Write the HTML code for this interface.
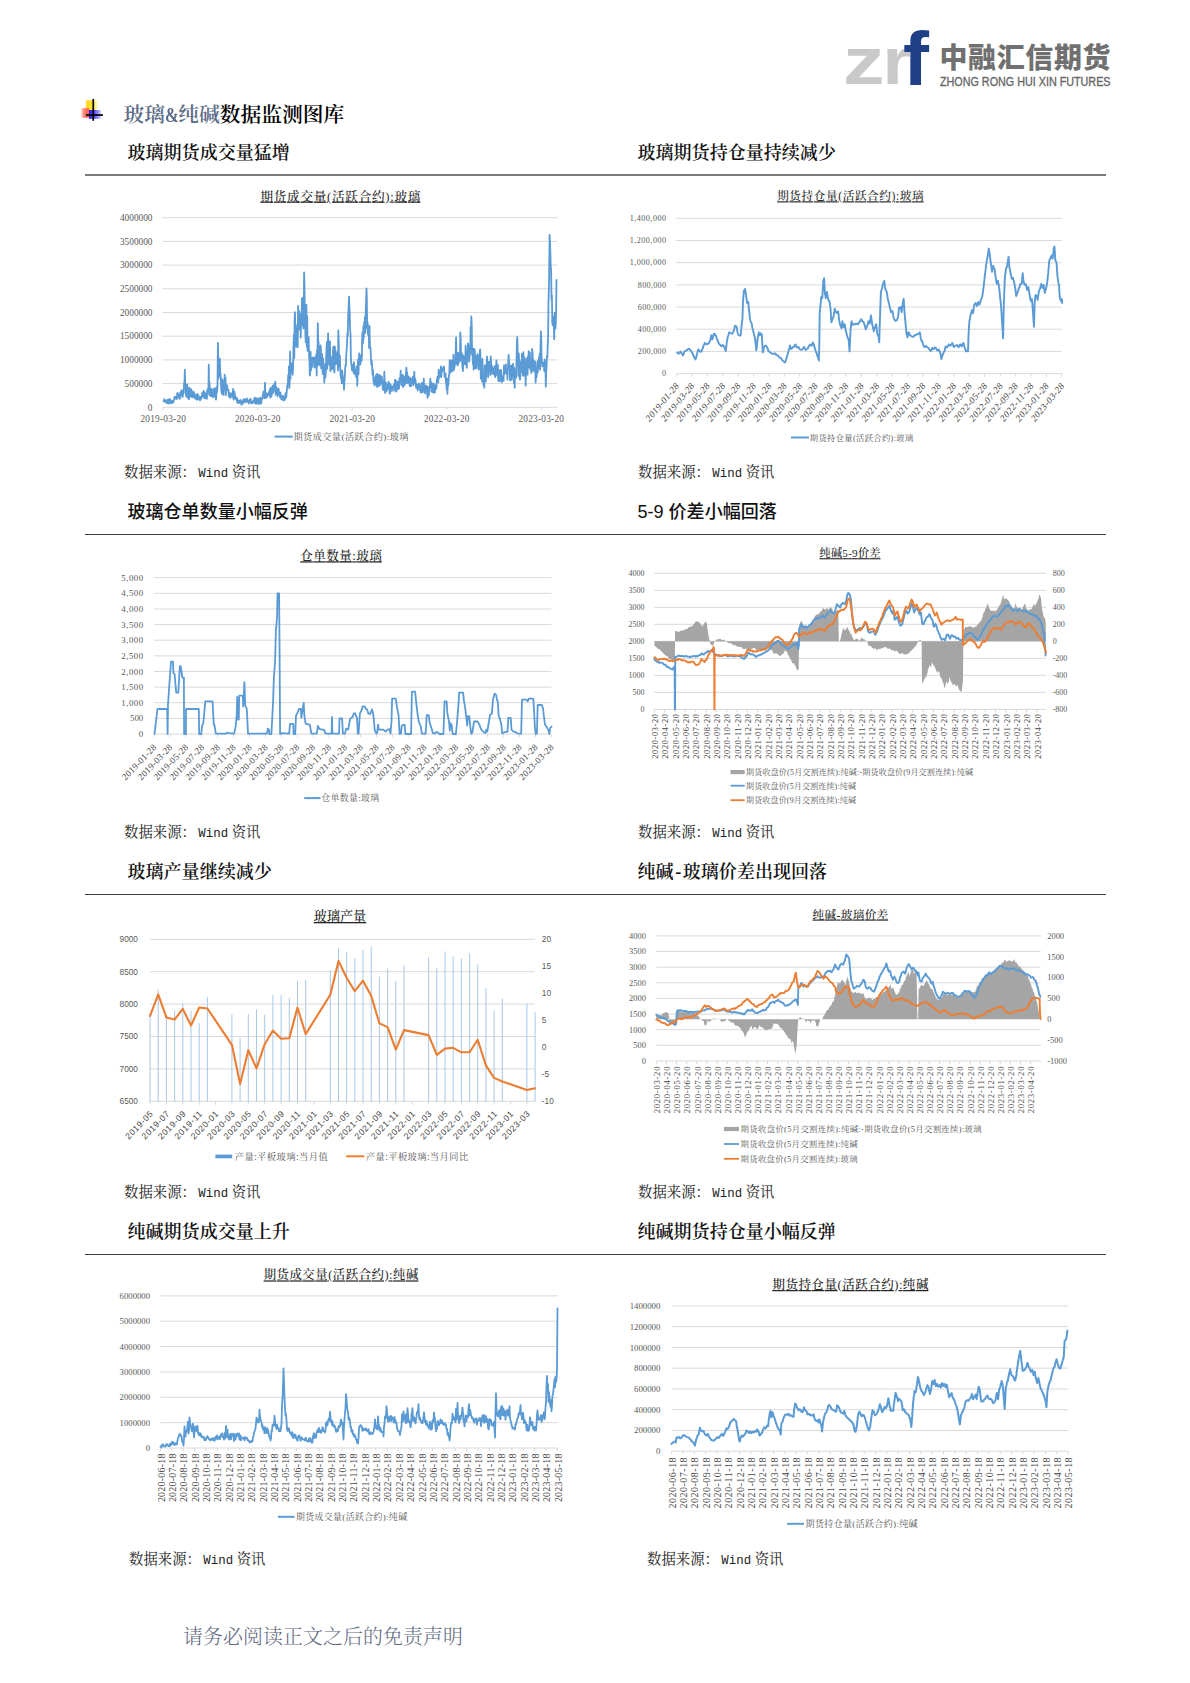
<!DOCTYPE html>
<html lang="zh-CN">
<head>
<meta charset="utf-8">
<title>玻璃&amp;纯碱数据监测图库</title>
<style>
html,body{margin:0;padding:0;background:#fff;}
body{width:1190px;height:1683px;position:relative;overflow:hidden;font-family:"Liberation Serif","Noto Serif CJK SC",serif;color:#000;}
.abs{position:absolute;white-space:nowrap;}
.chart{position:absolute;overflow:visible;}
.h{position:absolute;white-space:nowrap;font-size:18.05px;line-height:24px;font-weight:600;color:#111;}
.hei{font-family:"Liberation Sans","Noto Sans CJK SC",sans-serif;font-weight:500;}
.src{position:absolute;white-space:nowrap;font-size:14.4px;line-height:20px;color:#222;font-weight:400;}
.src .w{font-family:"Liberation Mono","Noto Serif CJK SC",monospace;font-size:12.4px;margin-left:2.4px;}
.rule{position:absolute;left:85px;width:1021px;height:0;border-top:1.4px solid #3a3a3a;}
.rule.first{border-top:2px solid #7a7a7a;}
.logo{position:absolute;left:840px;top:20px;}
</style>
</head>
<body>
<!-- company logo -->
<svg class="logo" width="290" height="80" viewBox="840 20 290 80">
  <text x="842.9" y="83.6" font-family="&quot;Liberation Sans&quot;,sans-serif" font-weight="bold" font-size="67" fill="#c9c9c9" textLength="41.6" lengthAdjust="spacingAndGlyphs">z</text>
  <text x="882.6" y="83.6" font-family="&quot;Liberation Sans&quot;,sans-serif" font-weight="bold" font-size="67" fill="#c9c9c9" textLength="28.5" lengthAdjust="spacingAndGlyphs">r</text>
  <text x="903" y="84.6" font-family="&quot;Liberation Sans&quot;,sans-serif" font-weight="bold" font-size="76" fill="#1f3f86" textLength="26" lengthAdjust="spacingAndGlyphs">f</text>
  <text x="939.5" y="68" font-family="&quot;Liberation Sans&quot;,&quot;Noto Sans CJK SC&quot;,sans-serif" font-weight="900" font-size="28" fill="#707070" textLength="171" lengthAdjust="spacing">中融汇信期货</text>
  <text x="940" y="86" font-family="&quot;Liberation Sans&quot;,sans-serif" font-size="13.1" fill="#666" stroke="#666" stroke-width="0.35" textLength="170.5" lengthAdjust="spacingAndGlyphs">ZHONG RONG HUI XIN FUTURES</text>
</svg>

<!-- bullet icon -->
<svg class="chart" style="left:76px;top:95px;filter:blur(0.35px)" width="32" height="30" viewBox="76 95 32 30">
  <defs>
    <linearGradient id="gy" x1="0" x2="1"><stop offset="0" stop-color="#ffd91a"/><stop offset="0.45" stop-color="#ffe030"/><stop offset="0.8" stop-color="#fff07a" stop-opacity="0.8"/><stop offset="1" stop-color="#fff7b0" stop-opacity="0"/></linearGradient>
    <linearGradient id="gr" x1="1" x2="0"><stop offset="0" stop-color="#ff5a3c"/><stop offset="0.6" stop-color="#ff8a7a"/><stop offset="1" stop-color="#ffd0cc" stop-opacity="0"/></linearGradient>
    <linearGradient id="gb" x1="0" x2="1"><stop offset="0" stop-color="#2a1fe0"/><stop offset="0.45" stop-color="#5a52ff"/><stop offset="0.8" stop-color="#9a95ff" stop-opacity="0.8"/><stop offset="1" stop-color="#c8c6ff" stop-opacity="0"/></linearGradient>
  </defs>
  <rect x="86" y="100.3" width="12.5" height="10" fill="url(#gy)"/>
  <rect x="80" y="108.2" width="9" height="9.6" fill="url(#gr)"/>
  <rect x="89" y="110" width="13" height="8.8" fill="url(#gb)"/>
  <rect x="92.4" y="99" width="1.7" height="21.8" fill="#000"/>
  <rect x="86" y="114.2" width="17" height="1.7" fill="#000"/>
</svg>

<div class="abs" id="maintitle" style="left:123.5px;top:101px;font-size:20.75px;line-height:28px;font-weight:600;"><span style="color:#5b6b86">玻璃<span style="display:inline-block;width:13.2px;transform:scaleX(0.8);transform-origin:0 50%;font-weight:700">&amp;</span>纯碱</span>数据监测图库</div>

<div class="h" style="left:127.5px;top:140.5px">玻璃期货成交量猛增</div>
<div class="h" style="left:637.5px;top:140.5px">玻璃期货持仓量持续减少</div>
<div class="rule first" style="top:174px"></div>

<div class="src" style="left:124px;top:462px">数据来源：<span class="w">Wind</span> 资讯</div>
<div class="src" style="left:638px;top:462px">数据来源：<span class="w">Wind</span> 资讯</div>

<div class="h hei" style="left:127.5px;top:500px">玻璃仓单数量小幅反弹</div>
<div class="h hei" style="left:637.5px;top:500px">5-9 价差小幅回落</div>
<div class="rule" style="top:534px"></div>

<div class="src" style="left:124px;top:822px">数据来源：<span class="w">Wind</span> 资讯</div>
<div class="src" style="left:638px;top:822px">数据来源：<span class="w">Wind</span> 资讯</div>

<div class="h" style="left:127.5px;top:860px">玻璃产量继续减少</div>
<div class="h" style="left:637.5px;top:860px">纯碱<span style="display:inline-block;width:9.2px;text-align:center">-</span>玻璃价差出现回落</div>
<div class="rule" style="top:894px"></div>

<div class="src" style="left:124px;top:1182px">数据来源：<span class="w">Wind</span> 资讯</div>
<div class="src" style="left:638px;top:1182px">数据来源：<span class="w">Wind</span> 资讯</div>

<div class="h" style="left:127.5px;top:1220px">纯碱期货成交量上升</div>
<div class="h" style="left:637.5px;top:1220px">纯碱期货持仓量小幅反弹</div>
<div class="rule" style="top:1254px"></div>

<div class="src" style="left:129px;top:1549px">数据来源：<span class="w">Wind</span> 资讯</div>
<div class="src" style="left:647px;top:1549px">数据来源：<span class="w">Wind</span> 资讯</div>

<div class="abs" id="footer" style="left:183px;top:1623px;font-size:19.9px;line-height:28px;color:#5f6a80;font-weight:300;letter-spacing:0.1px;">请务必阅读正文之后的免责声明</div>

<svg class="chart" style="left:100px;top:180px" width="480" height="270" viewBox="100 180 480 270"><line x1="162.5" x2="557.3" y1="407.3" y2="407.3" stroke="#d9d9d9" stroke-width="1"/><line x1="162.5" x2="557.3" y1="383.6" y2="383.6" stroke="#d9d9d9" stroke-width="1"/><line x1="162.5" x2="557.3" y1="359.9" y2="359.9" stroke="#d9d9d9" stroke-width="1"/><line x1="162.5" x2="557.3" y1="336.2" y2="336.2" stroke="#d9d9d9" stroke-width="1"/><line x1="162.5" x2="557.3" y1="312.5" y2="312.5" stroke="#d9d9d9" stroke-width="1"/><line x1="162.5" x2="557.3" y1="288.8" y2="288.8" stroke="#d9d9d9" stroke-width="1"/><line x1="162.5" x2="557.3" y1="265.1" y2="265.1" stroke="#d9d9d9" stroke-width="1"/><line x1="162.5" x2="557.3" y1="241.4" y2="241.4" stroke="#d9d9d9" stroke-width="1"/><line x1="162.5" x2="557.3" y1="217.7" y2="217.7" stroke="#d9d9d9" stroke-width="1"/><text x="152.5" y="410.5" font-size="9.3" text-anchor="end" fill="#595959" font-family="&quot;Liberation Serif&quot;,&quot;Noto Serif CJK SC&quot;,serif" >0</text><text x="152.5" y="386.8" font-size="9.3" text-anchor="end" fill="#595959" font-family="&quot;Liberation Serif&quot;,&quot;Noto Serif CJK SC&quot;,serif" >500000</text><text x="152.5" y="363.1" font-size="9.3" text-anchor="end" fill="#595959" font-family="&quot;Liberation Serif&quot;,&quot;Noto Serif CJK SC&quot;,serif" >1000000</text><text x="152.5" y="339.4" font-size="9.3" text-anchor="end" fill="#595959" font-family="&quot;Liberation Serif&quot;,&quot;Noto Serif CJK SC&quot;,serif" >1500000</text><text x="152.5" y="315.7" font-size="9.3" text-anchor="end" fill="#595959" font-family="&quot;Liberation Serif&quot;,&quot;Noto Serif CJK SC&quot;,serif" >2000000</text><text x="152.5" y="292.0" font-size="9.3" text-anchor="end" fill="#595959" font-family="&quot;Liberation Serif&quot;,&quot;Noto Serif CJK SC&quot;,serif" >2500000</text><text x="152.5" y="268.3" font-size="9.3" text-anchor="end" fill="#595959" font-family="&quot;Liberation Serif&quot;,&quot;Noto Serif CJK SC&quot;,serif" >3000000</text><text x="152.5" y="244.6" font-size="9.3" text-anchor="end" fill="#595959" font-family="&quot;Liberation Serif&quot;,&quot;Noto Serif CJK SC&quot;,serif" >3500000</text><text x="152.5" y="220.9" font-size="9.3" text-anchor="end" fill="#595959" font-family="&quot;Liberation Serif&quot;,&quot;Noto Serif CJK SC&quot;,serif" >4000000</text><line x1="163.2" x2="163.2" y1="407.3" y2="410.3" stroke="#d9d9d9" stroke-width="1"/><line x1="257.7" x2="257.7" y1="407.3" y2="410.3" stroke="#d9d9d9" stroke-width="1"/><line x1="352.2" x2="352.2" y1="407.3" y2="410.3" stroke="#d9d9d9" stroke-width="1"/><line x1="446.7" x2="446.7" y1="407.3" y2="410.3" stroke="#d9d9d9" stroke-width="1"/><line x1="541.2" x2="541.2" y1="407.3" y2="410.3" stroke="#d9d9d9" stroke-width="1"/><text x="163.2" y="422.3" font-size="9.3" text-anchor="middle" fill="#595959" font-family="&quot;Liberation Serif&quot;,&quot;Noto Serif CJK SC&quot;,serif" textLength="45.5" lengthAdjust="spacing" >2019-03-20</text><text x="257.7" y="422.3" font-size="9.3" text-anchor="middle" fill="#595959" font-family="&quot;Liberation Serif&quot;,&quot;Noto Serif CJK SC&quot;,serif" textLength="45.5" lengthAdjust="spacing" >2020-03-20</text><text x="352.2" y="422.3" font-size="9.3" text-anchor="middle" fill="#595959" font-family="&quot;Liberation Serif&quot;,&quot;Noto Serif CJK SC&quot;,serif" textLength="45.5" lengthAdjust="spacing" >2021-03-20</text><text x="446.7" y="422.3" font-size="9.3" text-anchor="middle" fill="#595959" font-family="&quot;Liberation Serif&quot;,&quot;Noto Serif CJK SC&quot;,serif" textLength="45.5" lengthAdjust="spacing" >2022-03-20</text><text x="541.2" y="422.3" font-size="9.3" text-anchor="middle" fill="#595959" font-family="&quot;Liberation Serif&quot;,&quot;Noto Serif CJK SC&quot;,serif" textLength="45.5" lengthAdjust="spacing" >2023-03-20</text><text x="340.4" y="200.5" font-size="12.6" text-anchor="middle" fill="#262626" font-family="&quot;Liberation Serif&quot;,&quot;Noto Serif CJK SC&quot;,serif" textLength="160.0" lengthAdjust="spacing" text-decoration="underline" font-weight="500">期货成交量(活跃合约):玻璃</text><polyline points="163.5,401.3 163.9,400.8 164.3,399.2 164.7,401.3 165.1,401.1 165.4,400.8 165.8,402.6 166.2,401.2 166.6,400.7 167.0,399.9 167.3,403.1 167.7,402.3 168.1,403.2 168.5,399.9 168.9,400.5 169.2,403.6 169.6,398.9 170.0,399.0 170.4,400.8 170.8,400.9 171.1,403.0 171.5,403.4 171.9,400.6 172.3,402.8 172.7,402.0 173.0,401.5 173.4,402.4 173.8,399.8 174.2,399.7 174.6,396.7 174.9,398.7 175.3,397.6 175.7,398.3 176.1,396.9 176.5,398.1 176.8,399.1 177.2,393.2 177.6,392.9 178.0,393.9 178.4,394.7 178.7,397.7 179.1,398.1 179.5,397.4 179.9,398.8 180.3,392.5 180.6,395.7 181.0,391.3 181.4,395.3 181.8,390.1 182.2,391.1 182.5,397.0 182.9,395.5 183.3,390.4 183.7,393.3 184.1,383.0 184.4,387.7 184.8,369.6 185.2,384.1 185.6,385.3 186.0,394.1 186.3,396.6 186.7,393.8 187.1,384.3 187.5,387.8 187.9,397.6 188.2,396.2 188.6,398.6 189.0,399.1 189.4,387.6 189.8,397.1 190.1,391.6 190.5,393.2 190.9,396.4 191.3,389.2 191.7,396.7 192.0,391.0 192.4,397.3 192.8,394.8 193.2,397.2 193.6,397.1 193.9,391.8 194.3,394.1 194.7,398.2 195.1,394.6 195.5,398.9 195.8,397.9 196.2,394.8 196.6,396.3 197.0,399.8 197.4,393.9 197.7,399.2 198.1,399.0 198.5,395.5 198.9,398.7 199.3,398.9 199.6,400.3 200.0,400.3 200.4,397.0 200.8,399.5 201.2,396.7 201.5,398.1 201.9,397.2 202.3,392.7 202.7,396.3 203.1,395.3 203.4,392.4 203.8,390.8 204.2,398.0 204.6,392.3 205.0,393.4 205.3,397.9 205.7,398.4 206.1,394.9 206.5,393.8 206.9,398.9 207.2,391.4 207.6,389.2 208.0,390.5 208.4,390.9 208.8,364.6 209.1,394.7 209.5,382.2 209.9,395.3 210.3,389.3 210.7,396.0 211.0,388.3 211.4,391.4 211.8,395.2 212.2,396.5 212.6,389.6 212.9,397.3 213.3,395.9 213.7,392.1 214.1,388.5 214.5,391.9 214.8,396.3 215.2,388.4 215.6,397.6 216.0,399.7 216.4,393.9 216.7,386.9 217.1,392.3 217.5,385.7 217.9,343.0 218.3,362.5 218.6,378.5 219.0,372.4 219.4,358.5 219.8,358.8 220.2,372.0 220.5,374.0 220.9,379.0 221.3,390.5 221.7,393.1 222.1,394.0 222.4,379.5 222.8,385.3 223.2,381.6 223.6,394.9 224.0,384.6 224.3,386.3 224.7,374.6 225.1,389.6 225.5,377.7 225.9,395.0 226.2,388.5 226.6,386.5 227.0,385.1 227.4,388.7 227.8,390.2 228.1,390.0 228.5,389.6 228.9,396.7 229.3,394.2 229.7,393.2 230.0,394.7 230.4,398.0 230.8,394.5 231.2,393.3 231.6,395.6 231.9,394.7 232.3,396.8 232.7,394.3 233.1,388.8 233.5,399.5 233.8,394.4 234.2,391.3 234.6,393.3 235.0,395.5 235.4,398.9 235.7,396.8 236.1,398.6 236.5,400.0 236.9,398.2 237.3,402.6 237.6,399.5 238.0,403.2 238.4,400.7 238.8,401.5 239.2,402.9 239.5,400.7 239.9,402.0 240.3,401.6 240.7,400.0 241.1,403.8 241.4,404.8 241.8,403.4 242.2,401.3 242.6,403.5 243.0,403.5 243.3,399.5 243.7,400.8 244.1,401.8 244.5,399.2 244.9,402.0 245.2,400.1 245.6,402.3 246.0,401.1 246.4,399.0 246.8,398.5 247.1,398.8 247.5,401.7 247.9,400.8 248.3,402.4 248.7,403.5 249.0,401.8 249.4,399.8 249.8,399.7 250.2,400.4 250.6,398.8 250.9,402.9 251.3,403.4 251.7,401.8 252.1,402.8 252.5,403.1 252.8,401.9 253.2,400.4 253.6,401.3 254.0,402.4 254.4,398.7 254.7,397.6 255.1,401.3 255.5,403.6 255.9,403.8 256.3,398.1 256.6,403.7 257.0,399.2 257.4,400.2 257.8,402.0 258.2,398.3 258.5,403.8 258.9,403.1 259.3,400.8 259.7,403.8 260.1,397.6 260.4,402.4 260.8,403.0 261.2,403.6 261.6,398.7 262.0,399.7 262.3,397.3 262.7,396.4 263.1,394.1 263.5,391.7 263.9,393.9 264.2,398.1 264.6,393.3 265.0,382.7 265.4,398.2 265.8,394.8 266.1,393.0 266.5,397.7 266.9,397.1 267.3,396.7 267.7,393.9 268.0,395.0 268.4,393.8 268.8,392.1 269.2,395.2 269.6,390.9 269.9,389.1 270.3,397.5 270.7,387.7 271.1,389.9 271.5,396.7 271.8,392.7 272.2,390.2 272.6,385.8 273.0,393.0 273.4,390.1 273.7,385.1 274.1,386.1 274.5,383.3 274.9,390.7 275.3,381.7 275.6,394.8 276.0,387.9 276.4,387.1 276.8,390.2 277.2,389.8 277.5,396.3 277.9,388.8 278.3,388.6 278.7,389.3 279.1,394.5 279.4,392.4 279.8,397.0 280.2,392.4 280.6,393.4 281.0,397.6 281.3,399.4 281.7,397.6 282.1,397.1 282.5,395.9 282.9,397.8 283.2,400.3 283.6,396.3 284.0,400.4 284.4,396.9 284.8,399.8 285.1,398.0 285.5,393.2 285.9,397.7 286.3,396.8 286.7,392.0 287.0,388.1 287.4,384.9 287.8,384.6 288.2,375.4 288.6,382.3 288.9,366.3 289.3,388.2 289.7,382.8 290.1,351.4 290.5,378.6 290.8,364.2 291.2,367.7 291.6,371.5 292.0,363.3 292.4,371.1 292.7,374.8 293.1,367.6 293.5,345.5 293.9,334.6 294.3,358.0 294.6,319.7 295.0,312.1 295.4,334.8 295.8,331.1 296.2,346.7 296.5,330.2 296.9,330.6 297.3,324.9 297.7,347.3 298.1,305.8 298.4,325.9 298.8,329.7 299.2,311.2 299.6,320.8 300.0,323.1 300.3,314.1 300.7,337.6 301.1,319.4 301.5,323.8 301.9,299.5 302.2,297.9 302.6,325.3 303.0,314.4 303.4,328.4 303.8,310.7 304.1,272.4 304.5,286.5 304.9,316.3 305.3,329.9 305.7,342.1 306.0,321.0 306.4,304.8 306.8,346.8 307.2,316.0 307.6,350.9 307.9,347.1 308.3,350.7 308.7,337.1 309.1,357.1 309.5,361.0 309.8,375.6 310.2,372.3 310.6,351.8 311.0,370.5 311.4,358.8 311.7,365.9 312.1,366.9 312.5,357.6 312.9,360.0 313.3,361.5 313.6,360.2 314.0,357.5 314.4,367.7 314.8,367.4 315.2,357.4 315.5,358.1 315.9,361.9 316.3,354.2 316.7,375.6 317.1,349.8 317.4,365.9 317.8,323.2 318.2,339.9 318.6,343.1 319.0,364.5 319.3,363.9 319.7,347.5 320.1,365.6 320.5,345.4 320.9,348.6 321.2,368.4 321.6,366.3 322.0,354.2 322.4,368.6 322.8,374.0 323.1,358.3 323.5,370.7 323.9,364.1 324.3,382.7 324.7,373.2 325.0,364.1 325.4,377.7 325.8,372.1 326.2,356.8 326.6,347.0 326.9,342.2 327.3,368.8 327.7,354.9 328.1,333.3 328.5,355.0 328.8,350.2 329.2,363.4 329.6,365.2 330.0,341.4 330.4,371.1 330.7,357.1 331.1,358.6 331.5,357.3 331.9,369.4 332.3,368.7 332.6,368.5 333.0,350.8 333.4,346.7 333.8,349.2 334.2,371.8 334.5,372.2 334.9,346.5 335.3,361.0 335.7,350.8 336.1,364.0 336.4,359.1 336.8,357.0 337.2,359.3 337.6,352.7 338.0,370.6 338.3,330.3 338.7,340.1 339.1,366.6 339.5,360.9 339.9,355.7 340.2,368.1 340.6,375.5 341.0,378.5 341.4,373.6 341.8,383.3 342.1,370.4 342.5,374.2 342.9,377.8 343.3,377.9 343.7,382.7 344.0,389.8 344.4,381.6 344.8,377.7 345.2,367.8 345.6,364.9 345.9,366.2 346.3,353.6 346.7,349.7 347.1,341.3 347.5,332.4 347.8,335.9 348.2,313.8 348.6,308.6 349.0,296.6 349.4,306.1 349.7,312.2 350.1,329.6 350.5,333.4 350.9,358.9 351.3,364.9 351.6,364.5 352.0,370.3 352.4,367.8 352.8,365.0 353.2,366.0 353.5,372.7 353.9,362.1 354.3,367.8 354.7,374.2 355.1,369.6 355.4,372.1 355.8,373.6 356.2,377.1 356.6,366.3 357.0,374.2 357.3,385.7 357.7,367.7 358.1,359.4 358.5,374.3 358.9,359.8 359.2,353.5 359.6,362.3 360.0,358.0 360.4,364.5 360.8,360.6 361.1,354.8 361.5,361.0 361.9,356.0 362.3,332.7 362.7,343.6 363.0,343.3 363.4,325.9 363.8,337.9 364.2,321.8 364.6,329.0 364.9,317.0 365.3,332.8 365.7,311.8 366.1,300.8 366.5,288.5 366.8,297.7 367.2,328.2 367.6,322.2 368.0,334.6 368.4,328.2 368.7,328.5 369.1,348.1 369.5,325.8 369.9,346.3 370.3,347.1 370.6,349.2 371.0,359.3 371.4,364.8 371.8,360.9 372.2,367.1 372.5,374.7 372.9,369.7 373.3,377.9 373.7,382.8 374.1,381.9 374.4,385.4 374.8,384.5 375.2,377.1 375.6,382.0 376.0,375.1 376.3,377.3 376.7,386.5 377.1,373.8 377.5,374.5 377.9,386.8 378.2,375.1 378.6,382.5 379.0,382.1 379.4,374.8 379.8,385.7 380.1,382.1 380.5,376.2 380.9,379.7 381.3,383.6 381.7,376.4 382.0,379.1 382.4,382.4 382.8,389.4 383.2,381.8 383.6,385.0 383.9,390.2 384.3,371.6 384.7,384.0 385.1,393.0 385.5,386.8 385.8,382.5 386.2,387.5 386.6,391.4 387.0,386.0 387.4,389.4 387.7,383.8 388.1,388.5 388.5,381.7 388.9,382.6 389.3,386.0 389.6,392.5 390.0,393.7 390.4,384.1 390.8,385.6 391.2,387.5 391.5,390.4 391.9,391.0 392.3,386.9 392.7,387.9 393.1,387.3 393.4,386.4 393.8,384.5 394.2,390.7 394.6,389.8 395.0,379.8 395.3,380.1 395.7,380.0 396.1,391.5 396.5,391.2 396.9,388.1 397.2,385.3 397.6,381.6 398.0,389.2 398.4,382.0 398.8,388.8 399.1,388.2 399.5,378.2 399.9,380.0 400.3,378.1 400.7,370.6 401.0,380.5 401.4,385.0 401.8,383.0 402.2,376.4 402.6,374.9 402.9,387.0 403.3,386.4 403.7,376.1 404.1,379.3 404.5,377.2 404.8,385.0 405.2,381.2 405.6,383.1 406.0,372.3 406.4,367.6 406.7,376.2 407.1,372.1 407.5,383.1 407.9,380.7 408.3,378.4 408.6,376.3 409.0,382.5 409.4,383.3 409.8,386.0 410.2,377.8 410.5,386.2 410.9,386.1 411.3,381.0 411.7,381.6 412.1,378.8 412.4,383.2 412.8,376.8 413.2,385.4 413.6,383.7 414.0,377.3 414.3,371.6 414.7,383.1 415.1,378.6 415.5,380.3 415.9,385.9 416.2,387.9 416.6,387.0 417.0,384.4 417.4,388.0 417.8,390.5 418.1,385.5 418.5,387.3 418.9,383.7 419.3,383.7 419.7,384.2 420.0,390.3 420.4,386.2 420.8,392.7 421.2,392.3 421.6,391.0 421.9,382.8 422.3,382.8 422.7,392.2 423.1,390.3 423.5,390.0 423.8,378.7 424.2,389.7 424.6,390.3 425.0,393.4 425.4,388.4 425.7,385.3 426.1,389.7 426.5,385.9 426.9,390.4 427.3,395.7 427.6,397.8 428.0,386.9 428.4,393.6 428.8,395.5 429.2,388.9 429.5,387.5 429.9,386.3 430.3,378.7 430.7,384.0 431.1,382.2 431.4,391.7 431.8,386.3 432.2,383.5 432.6,392.1 433.0,392.3 433.3,385.2 433.7,383.6 434.1,392.8 434.5,387.5 434.9,392.7 435.2,385.3 435.6,385.2 436.0,389.0 436.4,388.4 436.8,379.4 437.1,382.0 437.5,376.6 437.9,381.9 438.3,382.3 438.7,369.7 439.0,374.9 439.4,377.7 439.8,376.2 440.2,371.9 440.6,371.5 440.9,366.4 441.3,376.9 441.7,368.5 442.1,371.9 442.5,368.2 442.8,369.3 443.2,368.8 443.6,367.8 444.0,366.5 444.4,373.9 444.7,377.1 445.1,374.4 445.5,373.4 445.9,382.2 446.3,383.3 446.6,389.4 447.0,378.6 447.4,393.8 447.8,384.5 448.2,385.5 448.5,382.0 448.9,375.4 449.3,374.9 449.7,360.1 450.1,373.0 450.4,369.2 450.8,371.8 451.2,363.0 451.6,360.5 452.0,370.1 452.3,371.4 452.7,365.2 453.1,362.7 453.5,354.7 453.9,370.1 454.2,368.3 454.6,366.1 455.0,364.6 455.4,363.4 455.8,348.3 456.1,337.3 456.5,362.8 456.9,364.3 457.3,362.5 457.7,365.5 458.0,352.6 458.4,363.7 458.8,359.7 459.2,354.2 459.6,358.3 459.9,361.4 460.3,332.3 460.7,338.3 461.1,359.9 461.5,357.8 461.8,353.2 462.2,363.5 462.6,368.3 463.0,371.0 463.4,355.5 463.7,357.1 464.1,364.2 464.5,360.5 464.9,359.9 465.3,364.4 465.6,345.7 466.0,353.4 466.4,363.4 466.8,367.8 467.2,355.6 467.5,357.8 467.9,343.3 468.3,345.0 468.7,347.6 469.1,361.6 469.4,360.3 469.8,353.1 470.2,353.5 470.6,326.8 471.0,339.6 471.3,316.5 471.7,323.3 472.1,355.2 472.5,349.2 472.9,364.0 473.2,348.7 473.6,369.6 474.0,349.0 474.4,349.2 474.8,350.8 475.1,368.3 475.5,364.9 475.9,355.8 476.3,368.3 476.7,361.9 477.0,362.6 477.4,354.1 477.8,361.6 478.2,355.7 478.6,369.6 478.9,357.5 479.3,368.8 479.7,353.1 480.1,349.4 480.5,356.4 480.8,378.7 481.2,367.9 481.6,369.0 482.0,381.4 482.4,358.9 482.7,377.5 483.1,378.0 483.5,385.3 483.9,379.0 484.3,387.7 484.6,365.5 485.0,376.4 485.4,365.7 485.8,381.5 486.2,373.3 486.5,370.8 486.9,356.4 487.3,360.1 487.7,364.3 488.1,377.1 488.4,369.4 488.8,361.9 489.2,370.5 489.6,364.5 490.0,366.9 490.3,375.0 490.7,356.3 491.1,360.9 491.5,373.5 491.9,365.6 492.2,372.9 492.6,371.6 493.0,368.4 493.4,374.2 493.8,373.5 494.1,372.5 494.5,366.3 494.9,375.8 495.3,377.1 495.7,365.3 496.0,374.8 496.4,360.4 496.8,369.9 497.2,366.3 497.6,375.6 497.9,364.8 498.3,380.8 498.7,380.2 499.1,381.2 499.5,370.5 499.8,370.4 500.2,380.6 500.6,377.2 501.0,369.8 501.4,374.8 501.7,382.4 502.1,380.1 502.5,380.7 502.9,380.7 503.3,375.8 503.6,380.7 504.0,365.3 504.4,374.1 504.8,372.1 505.2,369.1 505.5,366.2 505.9,364.4 506.3,373.0 506.7,373.8 507.1,371.8 507.4,379.5 507.8,371.4 508.2,363.4 508.6,355.0 509.0,360.6 509.3,364.4 509.7,366.0 510.1,380.5 510.5,373.7 510.9,373.7 511.2,365.6 511.6,379.9 512.0,374.1 512.4,371.3 512.8,364.2 513.1,363.9 513.5,370.8 513.9,383.3 514.3,367.9 514.7,387.7 515.0,372.2 515.4,375.7 515.8,369.8 516.2,377.6 516.6,357.6 516.9,341.7 517.3,336.9 517.7,356.1 518.1,356.7 518.5,375.8 518.8,353.3 519.2,363.8 519.6,377.0 520.0,379.6 520.4,375.1 520.7,365.1 521.1,361.2 521.5,371.9 521.9,353.7 522.3,370.5 522.6,367.4 523.0,375.8 523.4,352.2 523.8,375.6 524.2,356.9 524.5,368.7 524.9,370.0 525.3,371.7 525.7,385.7 526.1,362.2 526.4,358.3 526.8,361.4 527.2,365.3 527.6,374.6 528.0,356.2 528.3,367.6 528.7,351.1 529.1,367.3 529.5,359.5 529.9,352.7 530.2,369.1 530.6,360.3 531.0,371.8 531.4,372.9 531.8,370.1 532.1,348.9 532.5,351.3 532.9,360.3 533.3,370.5 533.7,361.8 534.0,360.8 534.4,371.3 534.8,366.7 535.2,361.7 535.6,382.7 535.9,378.1 536.3,369.8 536.7,376.9 537.1,369.0 537.5,361.8 537.8,372.4 538.2,360.3 538.6,367.8 539.0,357.4 539.4,364.3 539.7,353.8 540.1,369.8 540.5,346.8 540.9,331.3 541.3,341.1 541.6,357.4 542.0,363.0 542.4,366.4 542.8,363.8 543.2,363.4 543.5,362.8 543.9,363.9 544.3,371.3 544.7,359.4 545.1,364.4 545.4,364.8 545.8,386.7 546.2,372.5 546.6,365.5 547.0,356.0 547.3,357.7 547.7,346.9 548.1,336.7 548.5,301.5 548.9,288.6 549.2,270.0 549.6,234.9 550.0,241.6 550.4,253.7 550.8,268.6 551.1,268.8 551.5,299.9 551.9,295.1 552.3,322.3 552.7,325.3 553.0,316.9 553.4,317.0 553.8,323.2 554.2,339.3 554.6,313.0 554.9,318.6 555.3,328.9 555.7,325.1 556.1,313.7 556.5,279.8" fill="none" stroke="#5b9bd5" stroke-width="1.8" stroke-linejoin="round" stroke-linecap="round" /><line x1="274.5" x2="292.8" y1="436.6" y2="436.6" stroke="#5b9bd5" stroke-width="2"/><text x="293.5" y="439.8" font-size="9.2" text-anchor="start" fill="#595959" font-family="&quot;Liberation Serif&quot;,&quot;Noto Serif CJK SC&quot;,serif" textLength="115.0" lengthAdjust="spacing" >期货成交量(活跃合约):玻璃</text></svg>
<svg class="chart" style="left:610px;top:180px" width="490" height="270" viewBox="610 180 490 270"><line x1="676.5" x2="1061.8" y1="373.6" y2="373.6" stroke="#d9d9d9" stroke-width="1"/><line x1="676.5" x2="1061.8" y1="351.4" y2="351.4" stroke="#d9d9d9" stroke-width="1"/><line x1="676.5" x2="1061.8" y1="329.2" y2="329.2" stroke="#d9d9d9" stroke-width="1"/><line x1="676.5" x2="1061.8" y1="307.0" y2="307.0" stroke="#d9d9d9" stroke-width="1"/><line x1="676.5" x2="1061.8" y1="284.9" y2="284.9" stroke="#d9d9d9" stroke-width="1"/><line x1="676.5" x2="1061.8" y1="262.7" y2="262.7" stroke="#d9d9d9" stroke-width="1"/><line x1="676.5" x2="1061.8" y1="240.5" y2="240.5" stroke="#d9d9d9" stroke-width="1"/><line x1="676.5" x2="1061.8" y1="218.3" y2="218.3" stroke="#d9d9d9" stroke-width="1"/><text x="666.0" y="376.4" font-size="8.1" text-anchor="end" fill="#595959" font-family="&quot;Liberation Serif&quot;,&quot;Noto Serif CJK SC&quot;,serif" textLength="4.0" lengthAdjust="spacing" >0</text><text x="666.0" y="354.2" font-size="8.1" text-anchor="end" fill="#595959" font-family="&quot;Liberation Serif&quot;,&quot;Noto Serif CJK SC&quot;,serif" textLength="28.2" lengthAdjust="spacing" >200,000</text><text x="666.0" y="332.0" font-size="8.1" text-anchor="end" fill="#595959" font-family="&quot;Liberation Serif&quot;,&quot;Noto Serif CJK SC&quot;,serif" textLength="28.2" lengthAdjust="spacing" >400,000</text><text x="666.0" y="309.8" font-size="8.1" text-anchor="end" fill="#595959" font-family="&quot;Liberation Serif&quot;,&quot;Noto Serif CJK SC&quot;,serif" textLength="28.2" lengthAdjust="spacing" >600,000</text><text x="666.0" y="287.6" font-size="8.1" text-anchor="end" fill="#595959" font-family="&quot;Liberation Serif&quot;,&quot;Noto Serif CJK SC&quot;,serif" textLength="28.2" lengthAdjust="spacing" >800,000</text><text x="666.0" y="265.4" font-size="8.1" text-anchor="end" fill="#595959" font-family="&quot;Liberation Serif&quot;,&quot;Noto Serif CJK SC&quot;,serif" textLength="36.3" lengthAdjust="spacing" >1,000,000</text><text x="666.0" y="243.2" font-size="8.1" text-anchor="end" fill="#595959" font-family="&quot;Liberation Serif&quot;,&quot;Noto Serif CJK SC&quot;,serif" textLength="36.3" lengthAdjust="spacing" >1,200,000</text><text x="666.0" y="221.1" font-size="8.1" text-anchor="end" fill="#595959" font-family="&quot;Liberation Serif&quot;,&quot;Noto Serif CJK SC&quot;,serif" textLength="36.3" lengthAdjust="spacing" >1,400,000</text><line x1="676.5" x2="676.5" y1="373.6" y2="376.6" stroke="#d9d9d9" stroke-width="1"/><line x1="691.9" x2="691.9" y1="373.6" y2="376.6" stroke="#d9d9d9" stroke-width="1"/><line x1="707.3" x2="707.3" y1="373.6" y2="376.6" stroke="#d9d9d9" stroke-width="1"/><line x1="722.7" x2="722.7" y1="373.6" y2="376.6" stroke="#d9d9d9" stroke-width="1"/><line x1="738.1" x2="738.1" y1="373.6" y2="376.6" stroke="#d9d9d9" stroke-width="1"/><line x1="753.6" x2="753.6" y1="373.6" y2="376.6" stroke="#d9d9d9" stroke-width="1"/><line x1="769.0" x2="769.0" y1="373.6" y2="376.6" stroke="#d9d9d9" stroke-width="1"/><line x1="784.4" x2="784.4" y1="373.6" y2="376.6" stroke="#d9d9d9" stroke-width="1"/><line x1="799.8" x2="799.8" y1="373.6" y2="376.6" stroke="#d9d9d9" stroke-width="1"/><line x1="815.2" x2="815.2" y1="373.6" y2="376.6" stroke="#d9d9d9" stroke-width="1"/><line x1="830.6" x2="830.6" y1="373.6" y2="376.6" stroke="#d9d9d9" stroke-width="1"/><line x1="846.0" x2="846.0" y1="373.6" y2="376.6" stroke="#d9d9d9" stroke-width="1"/><line x1="861.4" x2="861.4" y1="373.6" y2="376.6" stroke="#d9d9d9" stroke-width="1"/><line x1="876.9" x2="876.9" y1="373.6" y2="376.6" stroke="#d9d9d9" stroke-width="1"/><line x1="892.3" x2="892.3" y1="373.6" y2="376.6" stroke="#d9d9d9" stroke-width="1"/><line x1="907.7" x2="907.7" y1="373.6" y2="376.6" stroke="#d9d9d9" stroke-width="1"/><line x1="923.1" x2="923.1" y1="373.6" y2="376.6" stroke="#d9d9d9" stroke-width="1"/><line x1="938.5" x2="938.5" y1="373.6" y2="376.6" stroke="#d9d9d9" stroke-width="1"/><line x1="953.9" x2="953.9" y1="373.6" y2="376.6" stroke="#d9d9d9" stroke-width="1"/><line x1="969.3" x2="969.3" y1="373.6" y2="376.6" stroke="#d9d9d9" stroke-width="1"/><line x1="984.7" x2="984.7" y1="373.6" y2="376.6" stroke="#d9d9d9" stroke-width="1"/><line x1="1000.2" x2="1000.2" y1="373.6" y2="376.6" stroke="#d9d9d9" stroke-width="1"/><line x1="1015.6" x2="1015.6" y1="373.6" y2="376.6" stroke="#d9d9d9" stroke-width="1"/><line x1="1031.0" x2="1031.0" y1="373.6" y2="376.6" stroke="#d9d9d9" stroke-width="1"/><line x1="1046.4" x2="1046.4" y1="373.6" y2="376.6" stroke="#d9d9d9" stroke-width="1"/><line x1="1061.8" x2="1061.8" y1="373.6" y2="376.6" stroke="#d9d9d9" stroke-width="1"/><text transform="translate(677.2,384.1) scale(1,1.2) rotate(-45)" font-size="8.6" text-anchor="end" fill="#484848" font-family="&quot;Liberation Serif&quot;,&quot;Noto Serif CJK SC&quot;,serif" dy="2.9" textLength="42.3" lengthAdjust="spacing">2019-01-28</text><text transform="translate(692.6,384.1) scale(1,1.2) rotate(-45)" font-size="8.6" text-anchor="end" fill="#484848" font-family="&quot;Liberation Serif&quot;,&quot;Noto Serif CJK SC&quot;,serif" dy="2.9" textLength="42.3" lengthAdjust="spacing">2019-03-28</text><text transform="translate(708.0,384.1) scale(1,1.2) rotate(-45)" font-size="8.6" text-anchor="end" fill="#484848" font-family="&quot;Liberation Serif&quot;,&quot;Noto Serif CJK SC&quot;,serif" dy="2.9" textLength="42.3" lengthAdjust="spacing">2019-05-28</text><text transform="translate(723.4,384.1) scale(1,1.2) rotate(-45)" font-size="8.6" text-anchor="end" fill="#484848" font-family="&quot;Liberation Serif&quot;,&quot;Noto Serif CJK SC&quot;,serif" dy="2.9" textLength="42.3" lengthAdjust="spacing">2019-07-28</text><text transform="translate(738.8,384.1) scale(1,1.2) rotate(-45)" font-size="8.6" text-anchor="end" fill="#484848" font-family="&quot;Liberation Serif&quot;,&quot;Noto Serif CJK SC&quot;,serif" dy="2.9" textLength="42.3" lengthAdjust="spacing">2019-09-28</text><text transform="translate(754.3,384.1) scale(1,1.2) rotate(-45)" font-size="8.6" text-anchor="end" fill="#484848" font-family="&quot;Liberation Serif&quot;,&quot;Noto Serif CJK SC&quot;,serif" dy="2.9" textLength="42.3" lengthAdjust="spacing">2019-11-28</text><text transform="translate(769.7,384.1) scale(1,1.2) rotate(-45)" font-size="8.6" text-anchor="end" fill="#484848" font-family="&quot;Liberation Serif&quot;,&quot;Noto Serif CJK SC&quot;,serif" dy="2.9" textLength="42.3" lengthAdjust="spacing">2020-01-28</text><text transform="translate(785.1,384.1) scale(1,1.2) rotate(-45)" font-size="8.6" text-anchor="end" fill="#484848" font-family="&quot;Liberation Serif&quot;,&quot;Noto Serif CJK SC&quot;,serif" dy="2.9" textLength="42.3" lengthAdjust="spacing">2020-03-28</text><text transform="translate(800.5,384.1) scale(1,1.2) rotate(-45)" font-size="8.6" text-anchor="end" fill="#484848" font-family="&quot;Liberation Serif&quot;,&quot;Noto Serif CJK SC&quot;,serif" dy="2.9" textLength="42.3" lengthAdjust="spacing">2020-05-28</text><text transform="translate(815.9,384.1) scale(1,1.2) rotate(-45)" font-size="8.6" text-anchor="end" fill="#484848" font-family="&quot;Liberation Serif&quot;,&quot;Noto Serif CJK SC&quot;,serif" dy="2.9" textLength="42.3" lengthAdjust="spacing">2020-07-28</text><text transform="translate(831.3,384.1) scale(1,1.2) rotate(-45)" font-size="8.6" text-anchor="end" fill="#484848" font-family="&quot;Liberation Serif&quot;,&quot;Noto Serif CJK SC&quot;,serif" dy="2.9" textLength="42.3" lengthAdjust="spacing">2020-09-28</text><text transform="translate(846.7,384.1) scale(1,1.2) rotate(-45)" font-size="8.6" text-anchor="end" fill="#484848" font-family="&quot;Liberation Serif&quot;,&quot;Noto Serif CJK SC&quot;,serif" dy="2.9" textLength="42.3" lengthAdjust="spacing">2020-11-28</text><text transform="translate(862.1,384.1) scale(1,1.2) rotate(-45)" font-size="8.6" text-anchor="end" fill="#484848" font-family="&quot;Liberation Serif&quot;,&quot;Noto Serif CJK SC&quot;,serif" dy="2.9" textLength="42.3" lengthAdjust="spacing">2021-01-28</text><text transform="translate(877.6,384.1) scale(1,1.2) rotate(-45)" font-size="8.6" text-anchor="end" fill="#484848" font-family="&quot;Liberation Serif&quot;,&quot;Noto Serif CJK SC&quot;,serif" dy="2.9" textLength="42.3" lengthAdjust="spacing">2021-03-28</text><text transform="translate(893.0,384.1) scale(1,1.2) rotate(-45)" font-size="8.6" text-anchor="end" fill="#484848" font-family="&quot;Liberation Serif&quot;,&quot;Noto Serif CJK SC&quot;,serif" dy="2.9" textLength="42.3" lengthAdjust="spacing">2021-05-28</text><text transform="translate(908.4,384.1) scale(1,1.2) rotate(-45)" font-size="8.6" text-anchor="end" fill="#484848" font-family="&quot;Liberation Serif&quot;,&quot;Noto Serif CJK SC&quot;,serif" dy="2.9" textLength="42.3" lengthAdjust="spacing">2021-07-28</text><text transform="translate(923.8,384.1) scale(1,1.2) rotate(-45)" font-size="8.6" text-anchor="end" fill="#484848" font-family="&quot;Liberation Serif&quot;,&quot;Noto Serif CJK SC&quot;,serif" dy="2.9" textLength="42.3" lengthAdjust="spacing">2021-09-28</text><text transform="translate(939.2,384.1) scale(1,1.2) rotate(-45)" font-size="8.6" text-anchor="end" fill="#484848" font-family="&quot;Liberation Serif&quot;,&quot;Noto Serif CJK SC&quot;,serif" dy="2.9" textLength="42.3" lengthAdjust="spacing">2021-11-28</text><text transform="translate(954.6,384.1) scale(1,1.2) rotate(-45)" font-size="8.6" text-anchor="end" fill="#484848" font-family="&quot;Liberation Serif&quot;,&quot;Noto Serif CJK SC&quot;,serif" dy="2.9" textLength="42.3" lengthAdjust="spacing">2022-01-28</text><text transform="translate(970.0,384.1) scale(1,1.2) rotate(-45)" font-size="8.6" text-anchor="end" fill="#484848" font-family="&quot;Liberation Serif&quot;,&quot;Noto Serif CJK SC&quot;,serif" dy="2.9" textLength="42.3" lengthAdjust="spacing">2022-03-28</text><text transform="translate(985.4,384.1) scale(1,1.2) rotate(-45)" font-size="8.6" text-anchor="end" fill="#484848" font-family="&quot;Liberation Serif&quot;,&quot;Noto Serif CJK SC&quot;,serif" dy="2.9" textLength="42.3" lengthAdjust="spacing">2022-05-28</text><text transform="translate(1000.9,384.1) scale(1,1.2) rotate(-45)" font-size="8.6" text-anchor="end" fill="#484848" font-family="&quot;Liberation Serif&quot;,&quot;Noto Serif CJK SC&quot;,serif" dy="2.9" textLength="42.3" lengthAdjust="spacing">2022-07-28</text><text transform="translate(1016.3,384.1) scale(1,1.2) rotate(-45)" font-size="8.6" text-anchor="end" fill="#484848" font-family="&quot;Liberation Serif&quot;,&quot;Noto Serif CJK SC&quot;,serif" dy="2.9" textLength="42.3" lengthAdjust="spacing">2022-09-28</text><text transform="translate(1031.7,384.1) scale(1,1.2) rotate(-45)" font-size="8.6" text-anchor="end" fill="#484848" font-family="&quot;Liberation Serif&quot;,&quot;Noto Serif CJK SC&quot;,serif" dy="2.9" textLength="42.3" lengthAdjust="spacing">2022-11-28</text><text transform="translate(1047.1,384.1) scale(1,1.2) rotate(-45)" font-size="8.6" text-anchor="end" fill="#484848" font-family="&quot;Liberation Serif&quot;,&quot;Noto Serif CJK SC&quot;,serif" dy="2.9" textLength="42.3" lengthAdjust="spacing">2023-01-28</text><text transform="translate(1062.5,384.1) scale(1,1.2) rotate(-45)" font-size="8.6" text-anchor="end" fill="#484848" font-family="&quot;Liberation Serif&quot;,&quot;Noto Serif CJK SC&quot;,serif" dy="2.9" textLength="42.3" lengthAdjust="spacing">2023-03-28</text><text x="850.4" y="200.3" font-size="11.6" text-anchor="middle" fill="#262626" font-family="&quot;Liberation Serif&quot;,&quot;Noto Serif CJK SC&quot;,serif" textLength="146.5" lengthAdjust="spacing" text-decoration="underline" font-weight="500">期货持仓量(活跃合约):玻璃</text><polyline points="677.1,352.4 678.5,353.9 679.2,352.6 679.8,352.5 680.5,351.4 681.1,352.6 681.7,353.4 682.3,354.1 682.9,355.5 683.3,354.9 683.7,353.9 684.1,352.5 684.5,351.4 685.6,350.9 686.6,350.4 687.6,349.4 688.6,349.0 689.6,349.0 690.6,350.4 691.3,351.3 691.9,352.6 692.6,353.5 693.0,353.9 693.4,355.9 693.8,356.1 694.2,357.5 694.8,358.1 695.4,359.5 695.7,357.9 696.0,358.2 696.3,356.8 696.6,355.5 696.9,355.0 697.2,353.6 697.5,351.8 697.7,351.2 698.0,350.4 698.3,349.4 699.0,349.9 699.7,351.4 700.7,351.9 701.7,351.0 702.1,349.7 702.5,348.3 702.9,348.1 703.3,346.0 703.7,345.4 704.2,344.8 704.7,343.0 705.7,343.6 706.7,344.4 707.7,343.9 708.7,343.4 709.3,342.1 709.8,341.3 710.4,340.3 710.5,338.9 710.7,337.7 710.8,337.8 711.0,335.9 711.2,335.3 711.5,336.7 711.8,336.9 712.1,339.0 712.4,339.3 712.7,338.8 712.9,337.4 713.2,336.3 713.5,334.9 713.8,333.7 715.2,334.3 715.6,335.6 716.0,335.8 716.4,337.3 716.8,338.3 717.2,339.8 717.6,339.9 718.0,341.9 718.4,342.4 719.1,343.9 719.8,344.4 720.6,345.3 721.5,346.4 722.9,345.0 723.7,346.0 724.5,347.4 724.9,348.5 725.3,349.7 725.7,351.0 725.8,350.7 726.0,348.7 726.1,347.1 726.2,346.2 726.4,346.0 726.5,345.3 726.6,343.5 726.8,342.4 726.9,341.4 727.1,340.4 727.3,339.7 727.5,337.9 727.7,337.5 727.9,336.3 728.3,335.4 728.6,334.5 729.0,332.8 729.3,332.3 730.9,333.3 732.5,333.7 733.0,332.1 733.5,331.2 734.0,330.3 734.2,329.7 734.5,327.7 734.7,326.9 735.0,325.6 735.8,326.0 736.6,326.8 736.8,327.3 737.0,328.4 737.2,330.5 737.4,331.5 737.6,332.0 737.8,333.5 738.0,334.3 739.4,335.7 740.6,335.3 740.7,334.5 740.8,333.8 740.9,332.9 741.0,331.1 741.1,330.9 741.2,329.9 741.3,328.4 741.4,327.8 741.5,326.2 741.6,325.2 741.8,324.0 741.9,322.8 742.0,322.7 742.2,320.7 742.3,319.6 742.4,319.2 742.5,318.6 742.5,317.5 742.5,316.1 742.6,315.6 742.6,313.5 742.6,312.8 742.7,311.8 742.7,311.0 742.7,309.6 742.8,308.5 742.8,307.8 742.8,307.6 742.9,306.7 742.9,305.4 742.9,304.0 743.0,302.7 743.0,302.7 743.0,301.0 743.1,300.0 743.2,299.3 743.3,297.3 743.4,296.6 743.4,296.4 743.5,295.4 743.6,294.5 743.7,293.1 743.8,291.8 743.8,290.9 744.4,290.0 745.1,288.9 745.2,290.4 745.4,290.7 745.5,292.0 745.7,292.6 745.8,294.3 746.0,294.3 746.1,296.2 746.3,297.0 746.4,298.6 746.5,298.3 746.7,300.1 746.8,301.2 746.9,302.5 747.1,303.0 748.3,302.0 748.4,303.2 748.5,303.7 748.5,304.9 748.6,306.7 748.7,307.6 748.8,307.6 748.9,308.5 749.0,309.5 749.1,311.1 749.2,311.4 749.3,313.0 749.4,313.6 749.6,315.6 749.7,316.4 749.8,316.6 749.9,318.2 750.1,318.9 750.2,320.2 750.3,321.2 750.9,321.8 751.5,323.2 751.7,323.7 751.9,324.8 752.1,326.1 752.3,327.5 752.5,328.3 752.7,329.3 753.0,329.6 753.3,331.6 753.6,332.8 753.9,333.3 754.1,334.7 754.3,335.7 754.5,335.6 754.7,337.3 754.9,337.7 755.1,339.3 755.2,340.7 755.4,340.9 755.5,342.7 755.6,343.0 755.7,344.7 755.8,345.1 755.9,345.8 756.0,347.3 756.1,348.1 756.2,350.0 756.3,350.4 756.5,349.1 756.6,348.4 756.7,347.5 756.8,347.0 756.9,344.8 757.0,344.5 757.1,343.4 757.2,342.7 757.3,342.0 757.4,340.1 757.6,339.3 757.7,338.6 757.9,337.4 758.1,336.4 758.2,334.7 758.4,334.7 758.6,334.0 758.8,332.3 759.0,333.1 759.3,334.0 759.6,335.3 760.2,335.0 760.8,333.3 761.8,334.3 761.8,334.8 761.9,335.7 762.0,336.7 762.0,338.8 762.1,339.7 762.1,340.3 762.2,341.5 762.2,341.7 762.3,343.6 762.4,344.3 762.4,345.4 762.5,346.2 762.5,347.3 762.6,348.0 762.6,348.8 762.7,350.3 762.7,351.1 762.8,352.4 763.0,351.7 763.3,350.9 763.5,349.7 763.8,348.4 764.0,347.4 764.8,346.0 765.6,345.4 766.4,346.2 767.2,347.4 767.6,348.4 768.0,349.6 768.4,351.1 768.9,351.4 770.3,352.4 771.7,353.5 773.3,353.9 774.9,353.5 775.6,353.7 776.3,355.1 777.9,355.5 778.6,356.5 779.3,357.5 781.0,357.9 781.7,359.2 782.4,360.5 783.8,361.5 785.0,362.5 785.3,361.8 785.7,361.1 786.0,359.9 786.4,358.5 786.7,357.7 787.0,356.8 787.2,355.7 787.5,355.0 787.8,353.5 788.1,352.7 788.4,351.7 788.7,350.1 789.0,349.4 789.3,349.0 789.5,347.2 789.8,346.6 790.0,345.4 790.4,347.1 790.7,348.5 791.0,349.0 791.7,348.9 792.4,347.4 793.9,347.0 794.4,345.4 794.9,345.0 795.5,344.4 795.9,345.1 796.3,346.2 796.7,347.4 798.1,347.0 798.8,347.5 799.5,349.0 801.1,349.8 802.5,349.4 803.2,348.3 803.9,347.0 804.5,347.4 805.0,348.6 805.6,349.8 807.2,349.0 807.9,348.3 808.6,346.4 809.3,345.7 810.0,344.4 810.8,345.0 811.6,345.8 812.0,344.1 812.4,344.1 812.8,342.4 813.2,343.7 813.6,344.0 814.0,345.4 814.3,346.2 814.6,347.6 814.9,348.7 815.2,349.4 815.6,350.1 815.9,352.1 816.3,352.2 816.7,353.5 817.0,354.1 817.3,356.0 817.7,356.5 818.0,357.0 818.3,358.8 818.6,359.1 818.9,360.5 818.9,359.6 818.9,358.2 819.0,357.3 819.0,357.1 819.0,355.4 819.1,354.4 819.1,353.6 819.1,352.1 819.1,351.0 819.2,350.3 819.2,349.1 819.2,348.0 819.3,347.4 819.3,347.0 819.3,344.7 819.3,344.8 819.3,344.0 819.3,342.7 819.3,340.7 819.4,340.3 819.4,338.7 819.4,338.5 819.4,337.6 819.4,335.9 819.4,334.6 819.4,334.4 819.4,332.7 819.5,332.0 819.5,331.2 819.5,330.8 819.5,329.1 819.5,327.7 819.5,327.6 819.5,326.7 819.5,325.3 819.5,323.6 819.6,322.8 819.6,322.1 819.6,321.3 819.6,319.8 819.6,319.6 819.6,318.6 819.6,317.7 819.6,316.7 819.7,314.5 819.7,314.2 819.7,313.1 819.8,311.5 819.9,311.7 820.0,310.4 820.1,309.4 820.2,307.6 820.3,306.5 820.4,306.5 820.5,305.1 820.6,304.2 820.7,303.2 820.8,302.0 820.9,301.4 821.0,299.8 821.1,298.7 821.2,297.8 821.3,297.0 822.3,298.0 822.4,296.7 822.4,296.2 822.5,295.5 822.5,293.4 822.6,292.3 822.7,292.0 822.7,291.2 822.8,289.5 822.8,288.6 822.9,287.3 823.0,286.2 823.0,285.9 823.1,285.1 823.1,284.1 823.2,282.4 823.2,281.3 823.3,280.8 823.7,280.1 824.1,278.2 824.2,279.3 824.2,280.2 824.3,281.6 824.3,282.8 824.4,283.5 824.5,283.9 824.5,286.0 824.6,286.2 824.6,287.0 824.7,288.5 824.7,289.8 824.8,291.0 824.9,291.4 824.9,292.9 825.1,294.3 825.2,295.0 825.4,295.5 825.6,297.5 825.7,298.0 825.9,297.4 826.1,296.5 826.3,295.2 826.5,293.6 826.7,293.3 826.9,291.9 827.1,293.5 827.3,294.0 827.5,295.5 827.6,296.6 827.8,296.8 828.0,298.6 828.1,299.0 828.8,300.6 829.4,301.0 829.5,302.4 829.7,302.3 829.8,303.8 830.0,305.2 830.1,306.2 830.3,307.4 830.4,308.3 830.6,309.1 830.6,309.6 830.7,311.7 830.8,312.2 830.8,313.7 830.9,313.7 830.9,315.8 831.0,316.2 831.1,317.5 831.1,318.5 831.2,319.7 831.3,320.0 831.3,320.6 831.4,322.2 831.8,321.1 832.2,319.7 832.6,319.2 832.9,318.2 833.2,317.6 833.5,316.0 833.8,315.1 834.0,313.5 834.1,312.3 834.3,311.8 834.5,310.9 834.6,309.1 834.8,308.7 835.1,310.1 835.5,310.6 835.8,312.1 837.0,313.1 837.6,311.8 838.2,311.5 838.3,313.2 838.5,313.7 838.6,315.3 838.7,315.9 838.8,316.5 838.9,317.7 839.0,319.2 839.2,320.1 839.4,321.4 839.6,322.6 839.8,323.6 840.0,324.4 840.3,325.2 840.7,325.9 841.1,327.1 841.5,328.2 841.6,327.1 841.7,326.2 841.9,324.9 842.0,324.3 842.2,323.1 842.3,321.5 842.5,321.2 842.6,322.6 842.8,323.3 843.0,324.6 843.1,325.6 843.3,326.6 843.5,327.2 843.9,326.9 844.3,325.0 844.7,324.2 844.9,325.1 845.0,325.5 845.2,327.5 845.4,328.4 845.6,329.4 845.7,331.0 845.9,331.3 846.2,331.9 846.4,332.9 846.7,334.6 847.0,335.7 847.2,336.3 847.5,337.3 847.9,337.7 848.3,339.2 848.7,340.3 848.8,341.8 848.9,342.4 848.9,343.3 849.0,344.2 849.1,345.6 849.2,346.5 849.2,347.7 849.3,348.9 849.4,349.8 849.5,350.3 849.5,351.4 849.6,350.1 849.6,349.8 849.7,348.8 849.7,348.0 849.8,346.0 849.8,345.9 849.9,344.9 849.9,342.8 850.0,342.1 850.0,341.5 850.1,339.9 850.1,339.8 850.2,338.0 850.2,337.6 850.3,336.0 850.3,334.9 850.4,333.9 850.4,333.3 850.5,332.6 850.5,330.9 850.6,330.5 850.6,329.3 850.7,328.0 850.9,327.4 851.0,326.0 851.1,324.8 851.2,323.7 851.4,322.6 851.5,322.5 851.6,321.2 852.0,322.3 852.4,323.1 852.8,324.8 854.0,324.2 855.0,324.4 856.1,323.6 857.1,324.1 858.1,324.2 858.7,322.5 859.4,322.5 860.1,321.2 860.6,320.3 861.1,319.2 861.8,320.1 862.5,321.2 863.3,322.2 864.1,323.2 864.4,324.9 864.7,325.0 864.9,326.4 865.2,327.4 865.5,328.1 865.7,329.3 866.2,328.0 866.7,327.6 867.1,326.2 867.4,325.4 867.7,324.2 868.0,323.2 868.3,321.8 868.6,321.2 869.2,322.8 869.8,323.6 869.9,321.9 870.1,321.8 870.2,320.5 870.4,319.2 870.5,318.7 870.7,317.7 870.8,316.0 871.0,315.5 871.1,316.6 871.3,317.2 871.4,319.2 871.6,319.6 871.7,320.7 871.9,321.6 872.0,322.5 872.2,324.2 872.4,324.8 872.6,325.7 872.9,327.4 873.1,328.7 873.3,328.9 873.6,329.7 873.8,331.3 874.1,330.3 874.4,328.7 874.7,328.1 875.0,327.2 875.4,326.6 875.8,324.8 876.2,324.2 876.3,325.5 876.4,326.3 876.6,326.7 876.7,327.9 876.8,329.4 876.9,329.7 877.0,330.9 877.1,332.4 877.2,333.3 877.7,334.7 878.2,335.3 878.4,336.3 878.5,337.6 878.7,337.6 878.8,339.1 879.0,340.1 879.1,341.9 879.2,342.4 879.3,341.2 879.3,340.7 879.3,338.7 879.4,338.3 879.4,337.9 879.4,336.7 879.4,335.4 879.5,333.9 879.5,333.9 879.5,331.7 879.6,331.9 879.6,330.6 879.6,329.6 879.6,328.3 879.7,326.8 879.7,326.0 879.7,325.4 879.8,324.4 879.8,323.0 879.8,322.6 879.9,321.2 879.9,319.6 879.9,318.9 880.0,317.6 880.0,316.9 880.0,316.6 880.1,315.5 880.1,313.6 880.1,312.8 880.2,311.6 880.2,311.3 880.2,310.0 880.3,308.7 880.3,307.9 880.4,307.6 880.4,306.0 880.4,305.3 880.5,304.2 880.5,303.0 880.5,302.1 880.6,300.8 880.6,299.6 880.6,299.0 880.7,297.7 880.7,296.7 880.8,295.5 880.8,295.5 880.8,293.9 880.9,292.9 881.1,291.5 881.4,290.3 881.6,289.5 881.9,288.9 882.1,288.4 882.3,286.7 882.6,286.1 882.8,284.5 883.0,284.1 883.3,282.9 883.8,281.8 884.3,280.8 884.4,282.2 884.5,282.9 884.7,283.7 884.8,284.6 884.9,286.0 885.0,287.4 885.2,288.2 885.3,288.9 885.8,289.9 886.2,290.7 886.7,291.9 886.9,293.5 887.1,294.4 887.2,294.5 887.4,296.2 887.6,297.4 887.7,298.2 887.9,299.0 888.2,300.7 888.4,301.5 888.6,301.7 888.9,303.7 889.1,303.8 889.3,305.1 889.6,305.9 889.8,307.7 890.0,307.6 890.3,308.9 890.5,310.3 890.7,310.8 890.9,312.1 892.4,311.1 892.6,311.8 892.8,313.5 893.0,314.3 893.2,315.5 893.4,316.5 893.6,317.2 894.0,318.6 894.5,319.5 894.9,320.3 895.4,320.8 896.8,320.2 897.2,319.8 897.6,318.2 898.0,317.2 898.1,316.4 898.2,315.2 898.3,314.8 898.5,313.3 898.6,312.0 898.7,311.3 898.8,309.8 898.9,308.6 899.0,308.1 900.4,307.1 900.7,307.9 900.9,308.6 901.1,309.4 901.4,310.5 901.6,312.1 901.8,311.0 901.9,310.5 902.0,308.5 902.2,308.3 902.3,306.5 902.4,306.1 902.6,304.8 902.7,304.0 902.8,303.0 903.0,302.3 903.2,300.9 903.4,299.9 903.7,299.0 903.7,300.3 903.8,300.5 903.9,301.8 903.9,303.3 904.0,304.5 904.1,305.7 904.1,305.7 904.2,307.2 904.3,307.8 904.3,309.4 904.4,310.6 904.5,311.1 904.5,311.6 904.6,312.9 904.7,314.7 904.8,314.9 904.9,316.3 905.0,317.6 905.0,317.9 905.1,319.6 905.2,319.5 905.3,321.0 905.4,321.7 905.5,323.2 905.6,324.0 905.7,324.8 905.8,325.6 905.9,327.7 906.0,327.8 906.1,329.4 906.2,330.3 906.3,331.8 906.4,332.8 906.5,333.3 906.7,334.5 907.0,334.8 907.2,336.7 907.5,337.3 907.7,335.7 907.9,335.9 908.1,334.0 908.3,332.9 908.5,332.3 909.0,332.9 909.6,334.2 910.1,335.3 911.5,336.3 912.9,336.9 913.7,336.5 914.5,335.3 915.6,335.3 916.6,334.3 917.6,334.3 918.6,333.7 919.8,332.3 920.0,333.6 920.1,333.9 920.3,335.1 920.5,336.0 920.7,337.2 920.8,338.9 921.0,339.3 921.5,341.0 922.1,340.8 922.6,342.4 923.0,344.2 923.4,345.3 923.8,345.8 924.2,347.0 925.0,346.7 925.8,345.8 926.7,347.0 927.7,347.4 928.5,348.0 929.3,349.4 930.0,350.4 930.7,351.0 931.2,350.6 931.8,349.4 932.3,347.8 933.1,349.0 933.9,349.0 934.7,347.6 935.5,347.4 936.1,348.7 936.6,349.4 937.1,350.4 938.7,349.4 939.3,351.2 939.8,351.4 940.4,353.1 940.5,354.1 940.7,354.5 940.9,356.5 941.0,357.4 941.2,357.4 941.4,359.1 941.7,357.7 942.1,356.3 942.4,355.8 942.8,354.5 943.3,353.6 943.9,351.8 944.4,351.4 944.6,351.1 944.9,350.1 945.1,348.3 945.4,347.5 945.6,346.4 947.2,347.4 947.8,346.2 948.3,345.5 948.8,344.4 949.6,344.9 950.4,345.8 951.0,344.8 951.7,344.3 952.3,343.0 952.7,343.5 953.1,344.7 953.5,346.4 953.9,347.0 955.3,345.8 956.9,345.0 957.7,345.8 958.5,347.4 959.0,345.8 959.6,346.0 960.1,344.4 960.9,344.9 961.7,346.4 962.3,345.1 962.8,343.9 963.4,343.0 963.7,343.7 964.0,345.0 964.3,346.3 964.6,347.4 964.9,347.9 965.3,349.5 965.6,349.8 966.0,351.4 967.0,350.9 968.0,351.4 968.0,350.0 968.1,349.1 968.1,348.2 968.1,347.1 968.2,346.9 968.2,345.6 968.2,344.3 968.3,343.8 968.3,342.6 968.3,341.1 968.4,340.5 968.4,339.7 968.4,338.4 968.5,337.7 968.5,336.5 968.5,335.9 968.6,334.0 968.6,333.3 968.7,332.5 968.7,331.9 968.8,330.3 968.9,329.8 968.9,327.7 969.0,327.5 969.1,325.9 969.1,325.6 969.2,324.1 969.3,323.3 969.3,321.8 969.4,321.2 969.6,319.8 969.8,319.7 970.0,318.4 970.2,317.3 970.4,315.6 970.6,315.1 970.9,313.8 971.2,313.8 971.5,311.7 971.7,311.2 972.0,310.1 972.4,311.4 972.7,312.1 973.0,313.1 973.2,312.2 973.3,311.8 973.5,310.5 973.6,308.7 973.8,308.0 973.9,307.0 974.1,306.3 974.2,305.1 974.8,304.3 975.5,303.0 976.0,303.7 976.5,305.3 977.1,306.1 977.4,305.0 977.7,303.4 978.0,302.7 978.3,302.0 978.9,303.2 979.5,304.6 979.8,303.1 980.1,302.6 980.4,301.9 980.7,300.0 981.2,299.6 981.6,298.2 982.1,297.0 982.3,296.5 982.4,295.0 982.6,294.1 982.8,293.5 983.0,291.3 983.1,290.9 983.2,289.7 983.3,288.7 983.5,287.7 983.6,286.8 983.7,285.3 983.8,285.1 983.9,284.5 984.0,282.5 984.2,281.4 984.3,280.6 984.4,280.3 984.5,278.4 984.6,278.2 984.7,276.8 984.8,275.3 985.0,274.9 985.1,274.1 985.2,273.0 985.3,271.2 985.4,271.4 985.6,270.2 985.7,268.7 985.8,268.2 985.9,266.9 986.0,265.3 986.1,264.7 986.3,263.6 986.5,263.1 986.7,261.6 986.8,260.0 987.0,259.2 987.2,258.2 987.4,257.8 987.6,256.6 987.7,255.8 987.9,254.6 988.0,253.5 988.2,253.3 988.3,251.4 988.5,250.8 988.6,249.2 988.8,248.6 988.9,249.6 989.1,250.1 989.2,251.1 989.4,252.4 989.6,253.6 989.7,254.1 989.8,255.5 990.0,256.9 990.1,257.7 990.2,259.1 990.4,259.6 990.5,260.1 990.6,262.0 990.8,262.7 990.9,263.6 991.1,265.1 991.2,266.4 991.3,266.8 991.5,267.4 991.6,268.5 991.7,269.8 991.9,270.5 992.0,271.8 992.2,270.2 992.4,269.6 992.6,269.0 992.8,268.2 993.0,267.1 993.2,265.7 993.6,267.3 994.0,268.2 994.4,268.7 994.6,269.6 994.7,271.0 994.9,271.1 995.0,273.2 995.2,274.1 995.3,274.5 995.5,275.8 995.6,276.8 995.8,277.5 996.0,279.2 996.1,279.7 996.3,281.2 996.5,282.4 996.7,283.3 996.8,283.9 997.2,282.7 997.6,281.6 998.0,280.8 998.2,282.5 998.3,283.4 998.5,283.4 998.6,284.7 998.8,286.3 999.0,287.3 999.1,287.6 999.3,288.9 999.4,289.8 999.5,291.6 999.6,291.4 999.7,292.6 999.8,294.2 999.9,295.5 1000.0,296.6 1000.1,296.9 1000.2,298.4 1000.3,299.7 1000.4,299.8 1000.5,301.0 1000.6,301.6 1000.7,302.7 1000.8,304.4 1000.9,304.5 1001.0,306.1 1001.1,307.7 1001.2,307.7 1001.3,309.1 1001.3,310.3 1001.4,311.1 1001.5,312.8 1001.5,313.1 1001.6,314.1 1001.6,315.7 1001.7,316.5 1001.8,316.7 1001.8,318.6 1001.9,319.0 1002.0,320.8 1002.0,321.8 1002.1,322.2 1002.2,323.1 1002.2,323.8 1002.3,325.2 1002.3,325.9 1002.4,326.8 1002.5,327.8 1002.5,329.6 1002.6,329.6 1002.7,331.4 1002.7,332.4 1002.8,333.6 1002.8,334.4 1002.9,335.9 1003.0,336.0 1003.0,336.8 1003.1,338.3 1003.1,337.4 1003.1,336.0 1003.2,336.0 1003.2,334.9 1003.2,333.6 1003.2,332.7 1003.2,330.9 1003.3,330.2 1003.3,329.1 1003.3,328.0 1003.3,327.1 1003.3,326.2 1003.4,325.4 1003.4,323.5 1003.4,323.3 1003.4,321.7 1003.5,321.8 1003.5,320.2 1003.5,319.3 1003.5,317.9 1003.5,317.4 1003.6,316.4 1003.6,315.7 1003.6,314.2 1003.6,312.8 1003.7,312.3 1003.7,310.5 1003.7,310.4 1003.7,308.8 1003.7,308.4 1003.8,306.6 1003.8,306.2 1003.8,304.6 1003.8,303.4 1003.8,302.7 1003.9,302.5 1003.9,301.0 1003.9,299.9 1004.0,299.0 1004.0,298.4 1004.1,297.7 1004.1,295.6 1004.1,295.2 1004.2,294.4 1004.2,293.4 1004.3,291.7 1004.3,290.9 1004.4,290.3 1004.4,288.6 1004.4,287.9 1004.5,287.1 1004.5,286.4 1004.6,284.5 1004.6,284.1 1004.6,282.5 1004.7,281.4 1004.7,280.8 1004.8,280.0 1004.8,279.0 1004.9,278.4 1004.9,276.8 1005.0,275.3 1005.2,274.8 1005.3,273.8 1005.4,272.4 1005.6,272.4 1005.7,270.8 1006.0,269.3 1006.3,268.4 1006.6,267.1 1006.9,266.7 1007.1,265.9 1007.3,264.9 1007.4,263.3 1007.6,263.3 1007.8,261.9 1007.9,260.7 1008.1,259.3 1008.2,259.3 1008.4,258.1 1008.5,256.6 1008.6,257.4 1008.7,259.2 1008.8,259.2 1008.9,260.5 1008.9,261.6 1009.0,263.3 1009.1,263.4 1009.2,264.6 1009.3,265.3 1009.3,266.7 1009.5,268.2 1009.7,268.3 1009.9,270.2 1010.1,270.5 1010.3,271.8 1010.5,272.8 1010.8,274.3 1011.0,274.5 1011.2,275.8 1011.4,277.0 1011.6,277.9 1011.8,278.8 1013.0,277.8 1013.2,278.7 1013.5,280.0 1013.7,280.6 1013.9,281.4 1014.2,282.9 1014.4,283.2 1014.6,285.0 1014.8,286.0 1015.0,287.3 1015.2,287.4 1015.4,288.9 1015.5,290.2 1015.6,290.9 1015.7,292.0 1015.9,293.4 1016.0,294.0 1016.1,294.9 1016.2,296.0 1016.6,295.2 1017.0,293.5 1017.4,292.9 1017.7,292.5 1018.1,291.0 1018.4,289.3 1018.7,288.9 1019.0,287.9 1019.4,287.5 1019.7,286.6 1020.1,284.8 1020.4,283.9 1021.8,283.9 1021.9,282.5 1022.0,282.3 1022.1,280.4 1022.2,278.9 1022.2,278.2 1022.3,277.4 1022.4,276.6 1022.5,274.7 1022.6,274.0 1022.7,273.2 1022.8,274.6 1022.9,275.2 1023.0,276.0 1023.1,277.9 1023.2,278.6 1023.3,280.0 1023.5,280.8 1023.8,281.8 1024.1,283.3 1024.4,283.9 1024.7,284.9 1025.9,283.9 1026.1,285.5 1026.3,286.3 1026.5,287.2 1026.7,287.9 1026.9,289.1 1027.1,289.9 1027.5,288.7 1027.9,287.3 1028.3,286.9 1028.5,288.4 1028.6,289.3 1028.8,290.3 1029.0,291.4 1029.2,292.0 1029.3,293.6 1029.5,294.0 1029.7,294.9 1029.9,296.6 1030.0,296.4 1030.2,297.8 1030.4,299.1 1030.5,300.5 1030.7,301.0 1031.3,300.0 1031.9,299.0 1032.0,300.4 1032.1,300.8 1032.2,302.3 1032.3,303.4 1032.3,304.2 1032.4,304.4 1032.5,306.3 1032.6,306.4 1032.7,307.8 1032.7,309.1 1032.8,309.6 1032.9,311.5 1032.9,311.8 1033.0,313.6 1033.1,313.7 1033.2,314.9 1033.2,316.7 1033.3,318.0 1033.4,317.9 1033.4,319.7 1033.5,320.4 1033.6,321.8 1033.7,322.1 1033.7,323.0 1033.8,324.2 1033.9,326.3 1033.9,326.8 1034.0,325.8 1034.0,324.9 1034.0,323.2 1034.1,323.0 1034.1,322.2 1034.1,320.2 1034.2,320.0 1034.2,319.1 1034.2,318.2 1034.3,316.6 1034.3,315.7 1034.3,314.2 1034.4,313.8 1034.4,312.1 1034.4,311.5 1034.5,310.5 1034.5,310.0 1034.5,308.6 1034.6,306.6 1034.6,305.7 1034.6,304.9 1034.7,304.0 1034.7,303.4 1034.7,301.7 1034.8,301.0 1034.9,300.1 1035.0,298.9 1035.2,297.7 1035.3,297.2 1035.4,295.9 1035.6,295.0 1036.8,296.0 1037.0,297.7 1037.2,297.5 1037.4,299.6 1037.6,300.0 1037.7,299.2 1037.9,297.9 1038.0,296.4 1038.2,296.2 1038.3,295.4 1038.5,293.7 1038.6,293.2 1038.8,291.9 1039.2,291.0 1039.6,289.3 1040.0,288.9 1040.2,288.4 1040.5,286.6 1040.7,285.9 1041.0,285.2 1041.2,283.9 1041.5,285.4 1041.8,286.4 1042.1,286.7 1042.4,287.9 1042.8,287.4 1043.2,285.4 1043.6,284.9 1043.8,286.0 1043.9,286.8 1044.1,288.4 1044.2,289.2 1044.4,290.1 1044.5,291.4 1044.7,291.7 1044.8,292.9 1045.1,291.9 1045.4,290.4 1045.7,289.7 1046.0,288.9 1046.2,287.5 1046.4,287.2 1046.6,285.4 1046.7,285.5 1046.9,284.0 1047.1,282.8 1047.3,281.9 1047.4,280.3 1047.5,279.8 1047.6,278.9 1047.7,277.3 1047.8,277.5 1047.9,275.6 1048.0,274.7 1048.2,273.5 1048.3,272.8 1048.3,271.6 1048.4,270.4 1048.5,270.2 1048.6,268.1 1048.7,267.5 1048.8,266.9 1048.9,265.7 1048.9,264.5 1049.0,263.7 1049.1,262.1 1049.2,261.4 1049.3,260.7 1049.7,259.6 1050.1,259.0 1050.5,257.7 1051.1,256.5 1051.7,255.6 1052.0,256.5 1052.4,257.9 1052.7,258.7 1052.8,257.3 1052.9,256.7 1053.0,255.2 1053.1,254.8 1053.2,253.7 1053.3,252.8 1053.4,252.1 1053.5,251.0 1053.6,250.3 1053.7,248.6 1054.1,247.2 1054.5,246.6 1054.6,248.2 1054.6,248.5 1054.7,249.4 1054.7,250.5 1054.8,252.2 1054.9,253.2 1054.9,254.0 1055.0,254.3 1055.0,255.1 1055.1,256.2 1055.2,257.9 1055.2,258.9 1055.3,259.1 1055.3,260.7 1055.9,261.0 1056.5,262.7 1056.6,264.4 1056.7,264.5 1056.7,265.1 1056.8,266.7 1056.9,267.2 1056.9,269.2 1057.0,269.8 1057.1,270.9 1057.1,272.4 1057.2,272.3 1057.3,273.4 1057.3,274.8 1057.5,276.2 1057.6,277.0 1057.7,277.7 1057.9,278.6 1058.0,280.0 1058.1,280.8 1058.4,282.5 1058.6,283.5 1058.8,284.5 1059.0,284.9 1059.0,286.6 1059.1,286.4 1059.2,287.2 1059.2,289.4 1059.3,289.6 1059.4,291.0 1059.4,291.9 1059.5,293.6 1059.6,293.9 1059.6,294.5 1059.7,295.6 1059.8,297.0 1060.0,298.6 1060.3,299.4 1060.5,299.5 1060.8,301.0 1061.3,300.7 1061.8,299.0 1061.9,299.8 1062.0,301.3 1062.1,302.1 1062.2,303.0" fill="none" stroke="#5b9bd5" stroke-width="1.9" stroke-linejoin="round" stroke-linecap="round" /><line x1="791" x2="809" y1="437.5" y2="437.5" stroke="#5b9bd5" stroke-width="2"/><text x="809.8" y="440.5" font-size="8.3" text-anchor="start" fill="#595959" font-family="&quot;Liberation Serif&quot;,&quot;Noto Serif CJK SC&quot;,serif" textLength="103.5" lengthAdjust="spacing" >期货持仓量(活跃合约):玻璃</text></svg>
<svg class="chart" style="left:100px;top:540px" width="480" height="280" viewBox="100 540 480 280"><line x1="154.1" x2="551.3" y1="734.0" y2="734.0" stroke="#d9d9d9" stroke-width="1"/><line x1="154.1" x2="551.3" y1="718.4" y2="718.4" stroke="#d9d9d9" stroke-width="1"/><line x1="154.1" x2="551.3" y1="702.7" y2="702.7" stroke="#d9d9d9" stroke-width="1"/><line x1="154.1" x2="551.3" y1="687.1" y2="687.1" stroke="#d9d9d9" stroke-width="1"/><line x1="154.1" x2="551.3" y1="671.5" y2="671.5" stroke="#d9d9d9" stroke-width="1"/><line x1="154.1" x2="551.3" y1="655.9" y2="655.9" stroke="#d9d9d9" stroke-width="1"/><line x1="154.1" x2="551.3" y1="640.2" y2="640.2" stroke="#d9d9d9" stroke-width="1"/><line x1="154.1" x2="551.3" y1="624.6" y2="624.6" stroke="#d9d9d9" stroke-width="1"/><line x1="154.1" x2="551.3" y1="609.0" y2="609.0" stroke="#d9d9d9" stroke-width="1"/><line x1="154.1" x2="551.3" y1="593.3" y2="593.3" stroke="#d9d9d9" stroke-width="1"/><line x1="154.1" x2="551.3" y1="577.7" y2="577.7" stroke="#d9d9d9" stroke-width="1"/><text x="143.2" y="737.0" font-size="8.8" text-anchor="end" fill="#595959" font-family="&quot;Liberation Serif&quot;,&quot;Noto Serif CJK SC&quot;,serif" textLength="4.4" lengthAdjust="spacing" >0</text><text x="143.2" y="721.4" font-size="8.8" text-anchor="end" fill="#595959" font-family="&quot;Liberation Serif&quot;,&quot;Noto Serif CJK SC&quot;,serif" textLength="13.2" lengthAdjust="spacing" >500</text><text x="143.2" y="705.7" font-size="8.8" text-anchor="end" fill="#595959" font-family="&quot;Liberation Serif&quot;,&quot;Noto Serif CJK SC&quot;,serif" textLength="22.0" lengthAdjust="spacing" >1,000</text><text x="143.2" y="690.1" font-size="8.8" text-anchor="end" fill="#595959" font-family="&quot;Liberation Serif&quot;,&quot;Noto Serif CJK SC&quot;,serif" textLength="22.0" lengthAdjust="spacing" >1,500</text><text x="143.2" y="674.5" font-size="8.8" text-anchor="end" fill="#595959" font-family="&quot;Liberation Serif&quot;,&quot;Noto Serif CJK SC&quot;,serif" textLength="22.0" lengthAdjust="spacing" >2,000</text><text x="143.2" y="658.8" font-size="8.8" text-anchor="end" fill="#595959" font-family="&quot;Liberation Serif&quot;,&quot;Noto Serif CJK SC&quot;,serif" textLength="22.0" lengthAdjust="spacing" >2,500</text><text x="143.2" y="643.2" font-size="8.8" text-anchor="end" fill="#595959" font-family="&quot;Liberation Serif&quot;,&quot;Noto Serif CJK SC&quot;,serif" textLength="22.0" lengthAdjust="spacing" >3,000</text><text x="143.2" y="627.6" font-size="8.8" text-anchor="end" fill="#595959" font-family="&quot;Liberation Serif&quot;,&quot;Noto Serif CJK SC&quot;,serif" textLength="22.0" lengthAdjust="spacing" >3,500</text><text x="143.2" y="612.0" font-size="8.8" text-anchor="end" fill="#595959" font-family="&quot;Liberation Serif&quot;,&quot;Noto Serif CJK SC&quot;,serif" textLength="22.0" lengthAdjust="spacing" >4,000</text><text x="143.2" y="596.3" font-size="8.8" text-anchor="end" fill="#595959" font-family="&quot;Liberation Serif&quot;,&quot;Noto Serif CJK SC&quot;,serif" textLength="22.0" lengthAdjust="spacing" >4,500</text><text x="143.2" y="580.7" font-size="8.8" text-anchor="end" fill="#595959" font-family="&quot;Liberation Serif&quot;,&quot;Noto Serif CJK SC&quot;,serif" textLength="22.0" lengthAdjust="spacing" >5,000</text><line x1="154.1" x2="154.1" y1="734.0" y2="737.0" stroke="#d9d9d9" stroke-width="1"/><line x1="170.0" x2="170.0" y1="734.0" y2="737.0" stroke="#d9d9d9" stroke-width="1"/><line x1="185.9" x2="185.9" y1="734.0" y2="737.0" stroke="#d9d9d9" stroke-width="1"/><line x1="201.8" x2="201.8" y1="734.0" y2="737.0" stroke="#d9d9d9" stroke-width="1"/><line x1="217.7" x2="217.7" y1="734.0" y2="737.0" stroke="#d9d9d9" stroke-width="1"/><line x1="233.5" x2="233.5" y1="734.0" y2="737.0" stroke="#d9d9d9" stroke-width="1"/><line x1="249.4" x2="249.4" y1="734.0" y2="737.0" stroke="#d9d9d9" stroke-width="1"/><line x1="265.3" x2="265.3" y1="734.0" y2="737.0" stroke="#d9d9d9" stroke-width="1"/><line x1="281.2" x2="281.2" y1="734.0" y2="737.0" stroke="#d9d9d9" stroke-width="1"/><line x1="297.1" x2="297.1" y1="734.0" y2="737.0" stroke="#d9d9d9" stroke-width="1"/><line x1="313.0" x2="313.0" y1="734.0" y2="737.0" stroke="#d9d9d9" stroke-width="1"/><line x1="328.9" x2="328.9" y1="734.0" y2="737.0" stroke="#d9d9d9" stroke-width="1"/><line x1="344.8" x2="344.8" y1="734.0" y2="737.0" stroke="#d9d9d9" stroke-width="1"/><line x1="360.6" x2="360.6" y1="734.0" y2="737.0" stroke="#d9d9d9" stroke-width="1"/><line x1="376.5" x2="376.5" y1="734.0" y2="737.0" stroke="#d9d9d9" stroke-width="1"/><line x1="392.4" x2="392.4" y1="734.0" y2="737.0" stroke="#d9d9d9" stroke-width="1"/><line x1="408.3" x2="408.3" y1="734.0" y2="737.0" stroke="#d9d9d9" stroke-width="1"/><line x1="424.2" x2="424.2" y1="734.0" y2="737.0" stroke="#d9d9d9" stroke-width="1"/><line x1="440.1" x2="440.1" y1="734.0" y2="737.0" stroke="#d9d9d9" stroke-width="1"/><line x1="456.0" x2="456.0" y1="734.0" y2="737.0" stroke="#d9d9d9" stroke-width="1"/><line x1="471.9" x2="471.9" y1="734.0" y2="737.0" stroke="#d9d9d9" stroke-width="1"/><line x1="487.7" x2="487.7" y1="734.0" y2="737.0" stroke="#d9d9d9" stroke-width="1"/><line x1="503.6" x2="503.6" y1="734.0" y2="737.0" stroke="#d9d9d9" stroke-width="1"/><line x1="519.5" x2="519.5" y1="734.0" y2="737.0" stroke="#d9d9d9" stroke-width="1"/><line x1="535.4" x2="535.4" y1="734.0" y2="737.0" stroke="#d9d9d9" stroke-width="1"/><line x1="551.3" x2="551.3" y1="734.0" y2="737.0" stroke="#d9d9d9" stroke-width="1"/><text transform="translate(154.7,745.5) scale(1,1.05) rotate(-45)" font-size="9" text-anchor="end" fill="#484848" font-family="&quot;Liberation Serif&quot;,&quot;Noto Serif CJK SC&quot;,serif" dy="3.1" textLength="44.5" lengthAdjust="spacing">2019-01-28</text><text transform="translate(170.6,745.5) scale(1,1.05) rotate(-45)" font-size="9" text-anchor="end" fill="#484848" font-family="&quot;Liberation Serif&quot;,&quot;Noto Serif CJK SC&quot;,serif" dy="3.1" textLength="44.5" lengthAdjust="spacing">2019-03-28</text><text transform="translate(186.5,745.5) scale(1,1.05) rotate(-45)" font-size="9" text-anchor="end" fill="#484848" font-family="&quot;Liberation Serif&quot;,&quot;Noto Serif CJK SC&quot;,serif" dy="3.1" textLength="44.5" lengthAdjust="spacing">2019-05-28</text><text transform="translate(202.4,745.5) scale(1,1.05) rotate(-45)" font-size="9" text-anchor="end" fill="#484848" font-family="&quot;Liberation Serif&quot;,&quot;Noto Serif CJK SC&quot;,serif" dy="3.1" textLength="44.5" lengthAdjust="spacing">2019-07-28</text><text transform="translate(218.3,745.5) scale(1,1.05) rotate(-45)" font-size="9" text-anchor="end" fill="#484848" font-family="&quot;Liberation Serif&quot;,&quot;Noto Serif CJK SC&quot;,serif" dy="3.1" textLength="44.5" lengthAdjust="spacing">2019-09-28</text><text transform="translate(234.1,745.5) scale(1,1.05) rotate(-45)" font-size="9" text-anchor="end" fill="#484848" font-family="&quot;Liberation Serif&quot;,&quot;Noto Serif CJK SC&quot;,serif" dy="3.1" textLength="44.5" lengthAdjust="spacing">2019-11-28</text><text transform="translate(250.0,745.5) scale(1,1.05) rotate(-45)" font-size="9" text-anchor="end" fill="#484848" font-family="&quot;Liberation Serif&quot;,&quot;Noto Serif CJK SC&quot;,serif" dy="3.1" textLength="44.5" lengthAdjust="spacing">2020-01-28</text><text transform="translate(265.9,745.5) scale(1,1.05) rotate(-45)" font-size="9" text-anchor="end" fill="#484848" font-family="&quot;Liberation Serif&quot;,&quot;Noto Serif CJK SC&quot;,serif" dy="3.1" textLength="44.5" lengthAdjust="spacing">2020-03-28</text><text transform="translate(281.8,745.5) scale(1,1.05) rotate(-45)" font-size="9" text-anchor="end" fill="#484848" font-family="&quot;Liberation Serif&quot;,&quot;Noto Serif CJK SC&quot;,serif" dy="3.1" textLength="44.5" lengthAdjust="spacing">2020-05-28</text><text transform="translate(297.7,745.5) scale(1,1.05) rotate(-45)" font-size="9" text-anchor="end" fill="#484848" font-family="&quot;Liberation Serif&quot;,&quot;Noto Serif CJK SC&quot;,serif" dy="3.1" textLength="44.5" lengthAdjust="spacing">2020-07-28</text><text transform="translate(313.6,745.5) scale(1,1.05) rotate(-45)" font-size="9" text-anchor="end" fill="#484848" font-family="&quot;Liberation Serif&quot;,&quot;Noto Serif CJK SC&quot;,serif" dy="3.1" textLength="44.5" lengthAdjust="spacing">2020-09-28</text><text transform="translate(329.5,745.5) scale(1,1.05) rotate(-45)" font-size="9" text-anchor="end" fill="#484848" font-family="&quot;Liberation Serif&quot;,&quot;Noto Serif CJK SC&quot;,serif" dy="3.1" textLength="44.5" lengthAdjust="spacing">2020-11-28</text><text transform="translate(345.4,745.5) scale(1,1.05) rotate(-45)" font-size="9" text-anchor="end" fill="#484848" font-family="&quot;Liberation Serif&quot;,&quot;Noto Serif CJK SC&quot;,serif" dy="3.1" textLength="44.5" lengthAdjust="spacing">2021-01-28</text><text transform="translate(361.2,745.5) scale(1,1.05) rotate(-45)" font-size="9" text-anchor="end" fill="#484848" font-family="&quot;Liberation Serif&quot;,&quot;Noto Serif CJK SC&quot;,serif" dy="3.1" textLength="44.5" lengthAdjust="spacing">2021-03-28</text><text transform="translate(377.1,745.5) scale(1,1.05) rotate(-45)" font-size="9" text-anchor="end" fill="#484848" font-family="&quot;Liberation Serif&quot;,&quot;Noto Serif CJK SC&quot;,serif" dy="3.1" textLength="44.5" lengthAdjust="spacing">2021-05-28</text><text transform="translate(393.0,745.5) scale(1,1.05) rotate(-45)" font-size="9" text-anchor="end" fill="#484848" font-family="&quot;Liberation Serif&quot;,&quot;Noto Serif CJK SC&quot;,serif" dy="3.1" textLength="44.5" lengthAdjust="spacing">2021-07-28</text><text transform="translate(408.9,745.5) scale(1,1.05) rotate(-45)" font-size="9" text-anchor="end" fill="#484848" font-family="&quot;Liberation Serif&quot;,&quot;Noto Serif CJK SC&quot;,serif" dy="3.1" textLength="44.5" lengthAdjust="spacing">2021-09-28</text><text transform="translate(424.8,745.5) scale(1,1.05) rotate(-45)" font-size="9" text-anchor="end" fill="#484848" font-family="&quot;Liberation Serif&quot;,&quot;Noto Serif CJK SC&quot;,serif" dy="3.1" textLength="44.5" lengthAdjust="spacing">2021-11-28</text><text transform="translate(440.7,745.5) scale(1,1.05) rotate(-45)" font-size="9" text-anchor="end" fill="#484848" font-family="&quot;Liberation Serif&quot;,&quot;Noto Serif CJK SC&quot;,serif" dy="3.1" textLength="44.5" lengthAdjust="spacing">2022-01-28</text><text transform="translate(456.6,745.5) scale(1,1.05) rotate(-45)" font-size="9" text-anchor="end" fill="#484848" font-family="&quot;Liberation Serif&quot;,&quot;Noto Serif CJK SC&quot;,serif" dy="3.1" textLength="44.5" lengthAdjust="spacing">2022-03-28</text><text transform="translate(472.5,745.5) scale(1,1.05) rotate(-45)" font-size="9" text-anchor="end" fill="#484848" font-family="&quot;Liberation Serif&quot;,&quot;Noto Serif CJK SC&quot;,serif" dy="3.1" textLength="44.5" lengthAdjust="spacing">2022-05-28</text><text transform="translate(488.3,745.5) scale(1,1.05) rotate(-45)" font-size="9" text-anchor="end" fill="#484848" font-family="&quot;Liberation Serif&quot;,&quot;Noto Serif CJK SC&quot;,serif" dy="3.1" textLength="44.5" lengthAdjust="spacing">2022-07-28</text><text transform="translate(504.2,745.5) scale(1,1.05) rotate(-45)" font-size="9" text-anchor="end" fill="#484848" font-family="&quot;Liberation Serif&quot;,&quot;Noto Serif CJK SC&quot;,serif" dy="3.1" textLength="44.5" lengthAdjust="spacing">2022-09-28</text><text transform="translate(520.1,745.5) scale(1,1.05) rotate(-45)" font-size="9" text-anchor="end" fill="#484848" font-family="&quot;Liberation Serif&quot;,&quot;Noto Serif CJK SC&quot;,serif" dy="3.1" textLength="44.5" lengthAdjust="spacing">2022-11-28</text><text transform="translate(536.0,745.5) scale(1,1.05) rotate(-45)" font-size="9" text-anchor="end" fill="#484848" font-family="&quot;Liberation Serif&quot;,&quot;Noto Serif CJK SC&quot;,serif" dy="3.1" textLength="44.5" lengthAdjust="spacing">2023-01-28</text><text transform="translate(551.9,745.5) scale(1,1.05) rotate(-45)" font-size="9" text-anchor="end" fill="#484848" font-family="&quot;Liberation Serif&quot;,&quot;Noto Serif CJK SC&quot;,serif" dy="3.1" textLength="44.5" lengthAdjust="spacing">2023-03-28</text><text x="341.0" y="560.3" font-size="12.6" text-anchor="middle" fill="#262626" font-family="&quot;Liberation Serif&quot;,&quot;Noto Serif CJK SC&quot;,serif" textLength="81.5" lengthAdjust="spacing" text-decoration="underline" font-weight="500">仓单数量:玻璃</text><polyline points="154.5,734.0 157.5,709.0 167.2,709.0 167.6,734.0 168.0,704.4 169.6,681.2 171.0,661.6 173.0,661.6 173.4,673.1 174.6,674.1 176.2,692.7 178.3,692.7 179.9,666.1 180.7,666.1 181.5,671.1 182.3,677.6 183.9,677.6 184.1,734.0 185.9,734.0 186.1,709.0 198.8,709.0 199.2,734.0 201.3,734.0 202.1,725.6 203.3,723.5 205.3,701.4 212.5,701.4 213.8,724.6 214.6,725.6 215.8,733.6 226.1,733.6 227.1,732.6 229.1,733.2 234.1,733.6 235.5,727.6 236.7,715.5 237.2,696.9 237.8,719.5 238.8,719.5 239.2,695.7 242.8,695.7 243.2,706.4 244.4,682.2 245.2,705.4 246.8,709.0 248.0,733.6 267.0,733.6 267.8,728.6 269.0,729.6 269.4,734.0 271.4,734.0 273.1,701.4 273.9,677.2 275.1,661.0 275.9,630.8 277.1,616.6 277.5,593.4 279.1,593.4 279.5,640.8 280.1,734.0 281.5,733.2 289.2,733.6 290.0,723.9 293.2,723.9 293.6,734.0 295.2,734.0 296.0,715.5 297.7,712.4 298.9,709.0 300.9,709.0 301.3,717.5 303.7,703.0 304.5,717.5 305.7,723.9 309.8,724.6 311.4,733.6 316.8,733.6 317.8,726.0 319.8,729.2 324.3,730.0 325.5,733.6 329.9,733.6 331.6,733.6 332.0,716.9 332.4,733.6 339.1,733.6 339.5,718.5 342.1,718.5 342.9,733.6 345.1,733.6 346.1,728.6 348.2,729.6 350.2,718.5 352.2,717.5 353.8,713.5 355.0,713.1 356.2,716.5 357.0,717.5 357.8,733.6 358.6,733.6 359.9,713.5 361.5,710.4 362.7,706.4 364.7,706.4 365.9,709.0 367.1,709.4 368.3,713.5 370.3,713.9 372.0,709.4 373.2,713.5 374.0,721.5 374.8,730.6 376.4,733.6 377.2,732.6 378.0,724.6 378.8,729.6 383.4,729.6 385.5,731.6 387.5,729.6 389.5,729.2 390.5,733.6 391.5,721.5 392.1,698.7 395.8,698.7 397.0,707.4 398.6,715.5 399.6,734.0 401.0,733.6 401.8,725.6 404.6,724.6 405.4,734.0 411.1,734.0 411.9,691.7 415.1,691.7 416.3,703.4 417.5,713.5 418.7,721.5 420.8,726.6 421.8,733.6 425.6,733.6 426.8,715.1 428.8,715.1 429.6,722.5 431.3,727.6 432.9,733.2 434.9,733.6 436.5,732.0 438.1,732.6 439.3,734.0 443.4,734.0 444.6,701.4 446.6,701.4 447.4,713.5 449.0,721.5 449.8,730.6 450.6,723.1 451.8,725.6 452.6,734.0 455.9,734.0 457.1,721.5 458.7,701.4 459.1,692.7 463.1,692.7 463.9,700.3 465.1,707.4 466.3,717.5 467.2,725.6 468.0,716.1 469.2,716.1 470.4,727.6 471.2,733.6 472.4,732.6 474.0,721.5 477.6,721.5 479.3,724.6 481.3,729.6 483.3,731.6 485.3,733.2 486.3,729.6 487.3,731.6 489.3,719.5 490.1,714.5 491.8,713.9 493.0,699.3 494.6,693.7 496.2,694.9 497.0,700.3 497.8,701.4 498.6,715.5 499.8,718.5 501.4,724.6 502.2,733.6 503.5,732.6 505.5,732.0 507.5,731.6 508.3,717.9 510.7,717.9 511.5,729.6 513.5,731.6 515.6,732.0 517.6,733.6 521.2,733.6 522.0,699.7 526.7,699.7 527.7,701.4 528.9,698.7 533.3,698.7 534.1,711.4 534.9,727.6 535.7,734.0 536.9,733.6 537.7,705.0 541.8,705.0 543.0,708.4 543.8,715.5 545.0,724.6 547.0,727.6 548.2,729.6 549.4,734.0 550.3,727.6 551.5,726.6" fill="none" stroke="#5b9bd5" stroke-width="1.8" stroke-linejoin="round" stroke-linecap="round" /><line x1="304.2" x2="320.4" y1="798.1" y2="798.1" stroke="#5b9bd5" stroke-width="2"/><text x="321.2" y="801.2" font-size="8.9" text-anchor="start" fill="#595959" font-family="&quot;Liberation Serif&quot;,&quot;Noto Serif CJK SC&quot;,serif" textLength="58.0" lengthAdjust="spacing" >仓单数量:玻璃</text></svg>
<svg class="chart" style="left:610px;top:540px" width="490" height="280" viewBox="610 540 490 280"><line x1="654.3" x2="1046.0" y1="709.4" y2="709.4" stroke="#d9d9d9" stroke-width="1"/><line x1="654.3" x2="1046.0" y1="692.4" y2="692.4" stroke="#d9d9d9" stroke-width="1"/><line x1="654.3" x2="1046.0" y1="675.4" y2="675.4" stroke="#d9d9d9" stroke-width="1"/><line x1="654.3" x2="1046.0" y1="658.4" y2="658.4" stroke="#d9d9d9" stroke-width="1"/><line x1="654.3" x2="1046.0" y1="641.3" y2="641.3" stroke="#d9d9d9" stroke-width="1"/><line x1="654.3" x2="1046.0" y1="624.3" y2="624.3" stroke="#d9d9d9" stroke-width="1"/><line x1="654.3" x2="1046.0" y1="607.3" y2="607.3" stroke="#d9d9d9" stroke-width="1"/><line x1="654.3" x2="1046.0" y1="590.3" y2="590.3" stroke="#d9d9d9" stroke-width="1"/><line x1="654.3" x2="1046.0" y1="573.3" y2="573.3" stroke="#d9d9d9" stroke-width="1"/><text x="644.4" y="712.1" font-size="8" text-anchor="end" fill="#595959" font-family="&quot;Liberation Serif&quot;,&quot;Noto Serif CJK SC&quot;,serif" textLength="4.0" lengthAdjust="spacing" >0</text><text x="644.4" y="695.1" font-size="8" text-anchor="end" fill="#595959" font-family="&quot;Liberation Serif&quot;,&quot;Noto Serif CJK SC&quot;,serif" textLength="11.9" lengthAdjust="spacing" >500</text><text x="644.4" y="678.1" font-size="8" text-anchor="end" fill="#595959" font-family="&quot;Liberation Serif&quot;,&quot;Noto Serif CJK SC&quot;,serif" textLength="15.8" lengthAdjust="spacing" >1000</text><text x="644.4" y="661.1" font-size="8" text-anchor="end" fill="#595959" font-family="&quot;Liberation Serif&quot;,&quot;Noto Serif CJK SC&quot;,serif" textLength="15.8" lengthAdjust="spacing" >1500</text><text x="644.4" y="644.1" font-size="8" text-anchor="end" fill="#595959" font-family="&quot;Liberation Serif&quot;,&quot;Noto Serif CJK SC&quot;,serif" textLength="15.8" lengthAdjust="spacing" >2000</text><text x="644.4" y="627.1" font-size="8" text-anchor="end" fill="#595959" font-family="&quot;Liberation Serif&quot;,&quot;Noto Serif CJK SC&quot;,serif" textLength="15.8" lengthAdjust="spacing" >2500</text><text x="644.4" y="610.0" font-size="8" text-anchor="end" fill="#595959" font-family="&quot;Liberation Serif&quot;,&quot;Noto Serif CJK SC&quot;,serif" textLength="15.8" lengthAdjust="spacing" >3000</text><text x="644.4" y="593.0" font-size="8" text-anchor="end" fill="#595959" font-family="&quot;Liberation Serif&quot;,&quot;Noto Serif CJK SC&quot;,serif" textLength="15.8" lengthAdjust="spacing" >3500</text><text x="644.4" y="576.0" font-size="8" text-anchor="end" fill="#595959" font-family="&quot;Liberation Serif&quot;,&quot;Noto Serif CJK SC&quot;,serif" textLength="15.8" lengthAdjust="spacing" >4000</text><text x="1052.7" y="712.1" font-size="8" text-anchor="start" fill="#595959" font-family="&quot;Liberation Serif&quot;,&quot;Noto Serif CJK SC&quot;,serif" >-800</text><text x="1052.7" y="695.1" font-size="8" text-anchor="start" fill="#595959" font-family="&quot;Liberation Serif&quot;,&quot;Noto Serif CJK SC&quot;,serif" >-600</text><text x="1052.7" y="678.1" font-size="8" text-anchor="start" fill="#595959" font-family="&quot;Liberation Serif&quot;,&quot;Noto Serif CJK SC&quot;,serif" >-400</text><text x="1052.7" y="661.1" font-size="8" text-anchor="start" fill="#595959" font-family="&quot;Liberation Serif&quot;,&quot;Noto Serif CJK SC&quot;,serif" >-200</text><text x="1052.7" y="644.1" font-size="8" text-anchor="start" fill="#595959" font-family="&quot;Liberation Serif&quot;,&quot;Noto Serif CJK SC&quot;,serif" >0</text><text x="1052.7" y="627.1" font-size="8" text-anchor="start" fill="#595959" font-family="&quot;Liberation Serif&quot;,&quot;Noto Serif CJK SC&quot;,serif" >200</text><text x="1052.7" y="610.0" font-size="8" text-anchor="start" fill="#595959" font-family="&quot;Liberation Serif&quot;,&quot;Noto Serif CJK SC&quot;,serif" >400</text><text x="1052.7" y="593.0" font-size="8" text-anchor="start" fill="#595959" font-family="&quot;Liberation Serif&quot;,&quot;Noto Serif CJK SC&quot;,serif" >600</text><text x="1052.7" y="576.0" font-size="8" text-anchor="start" fill="#595959" font-family="&quot;Liberation Serif&quot;,&quot;Noto Serif CJK SC&quot;,serif" >800</text><line x1="654.3" x2="654.3" y1="709.4" y2="712.4" stroke="#d9d9d9" stroke-width="1"/><line x1="664.6" x2="664.6" y1="709.4" y2="712.4" stroke="#d9d9d9" stroke-width="1"/><line x1="675.0" x2="675.0" y1="709.4" y2="712.4" stroke="#d9d9d9" stroke-width="1"/><line x1="685.3" x2="685.3" y1="709.4" y2="712.4" stroke="#d9d9d9" stroke-width="1"/><line x1="695.7" x2="695.7" y1="709.4" y2="712.4" stroke="#d9d9d9" stroke-width="1"/><line x1="706.0" x2="706.0" y1="709.4" y2="712.4" stroke="#d9d9d9" stroke-width="1"/><line x1="716.3" x2="716.3" y1="709.4" y2="712.4" stroke="#d9d9d9" stroke-width="1"/><line x1="726.7" x2="726.7" y1="709.4" y2="712.4" stroke="#d9d9d9" stroke-width="1"/><line x1="737.0" x2="737.0" y1="709.4" y2="712.4" stroke="#d9d9d9" stroke-width="1"/><line x1="747.4" x2="747.4" y1="709.4" y2="712.4" stroke="#d9d9d9" stroke-width="1"/><line x1="757.7" x2="757.7" y1="709.4" y2="712.4" stroke="#d9d9d9" stroke-width="1"/><line x1="768.0" x2="768.0" y1="709.4" y2="712.4" stroke="#d9d9d9" stroke-width="1"/><line x1="778.4" x2="778.4" y1="709.4" y2="712.4" stroke="#d9d9d9" stroke-width="1"/><line x1="788.7" x2="788.7" y1="709.4" y2="712.4" stroke="#d9d9d9" stroke-width="1"/><line x1="799.1" x2="799.1" y1="709.4" y2="712.4" stroke="#d9d9d9" stroke-width="1"/><line x1="809.4" x2="809.4" y1="709.4" y2="712.4" stroke="#d9d9d9" stroke-width="1"/><line x1="819.7" x2="819.7" y1="709.4" y2="712.4" stroke="#d9d9d9" stroke-width="1"/><line x1="830.1" x2="830.1" y1="709.4" y2="712.4" stroke="#d9d9d9" stroke-width="1"/><line x1="840.4" x2="840.4" y1="709.4" y2="712.4" stroke="#d9d9d9" stroke-width="1"/><line x1="850.8" x2="850.8" y1="709.4" y2="712.4" stroke="#d9d9d9" stroke-width="1"/><line x1="861.1" x2="861.1" y1="709.4" y2="712.4" stroke="#d9d9d9" stroke-width="1"/><line x1="871.4" x2="871.4" y1="709.4" y2="712.4" stroke="#d9d9d9" stroke-width="1"/><line x1="881.8" x2="881.8" y1="709.4" y2="712.4" stroke="#d9d9d9" stroke-width="1"/><line x1="892.1" x2="892.1" y1="709.4" y2="712.4" stroke="#d9d9d9" stroke-width="1"/><line x1="902.5" x2="902.5" y1="709.4" y2="712.4" stroke="#d9d9d9" stroke-width="1"/><line x1="912.8" x2="912.8" y1="709.4" y2="712.4" stroke="#d9d9d9" stroke-width="1"/><line x1="923.1" x2="923.1" y1="709.4" y2="712.4" stroke="#d9d9d9" stroke-width="1"/><line x1="933.5" x2="933.5" y1="709.4" y2="712.4" stroke="#d9d9d9" stroke-width="1"/><line x1="943.8" x2="943.8" y1="709.4" y2="712.4" stroke="#d9d9d9" stroke-width="1"/><line x1="954.2" x2="954.2" y1="709.4" y2="712.4" stroke="#d9d9d9" stroke-width="1"/><line x1="964.5" x2="964.5" y1="709.4" y2="712.4" stroke="#d9d9d9" stroke-width="1"/><line x1="974.8" x2="974.8" y1="709.4" y2="712.4" stroke="#d9d9d9" stroke-width="1"/><line x1="985.2" x2="985.2" y1="709.4" y2="712.4" stroke="#d9d9d9" stroke-width="1"/><line x1="995.5" x2="995.5" y1="709.4" y2="712.4" stroke="#d9d9d9" stroke-width="1"/><line x1="1005.9" x2="1005.9" y1="709.4" y2="712.4" stroke="#d9d9d9" stroke-width="1"/><line x1="1016.2" x2="1016.2" y1="709.4" y2="712.4" stroke="#d9d9d9" stroke-width="1"/><line x1="1026.5" x2="1026.5" y1="709.4" y2="712.4" stroke="#d9d9d9" stroke-width="1"/><line x1="1036.9" x2="1036.9" y1="709.4" y2="712.4" stroke="#d9d9d9" stroke-width="1"/><text transform="translate(655.0,714.1) scale(1,1) rotate(-90)" font-size="8.4" text-anchor="end" fill="#484848" font-family="&quot;Liberation Serif&quot;,&quot;Noto Serif CJK SC&quot;,serif" dy="2.9" textLength="44.6" lengthAdjust="spacing">2020-03-20</text><text transform="translate(665.3,714.1) scale(1,1) rotate(-90)" font-size="8.4" text-anchor="end" fill="#484848" font-family="&quot;Liberation Serif&quot;,&quot;Noto Serif CJK SC&quot;,serif" dy="2.9" textLength="44.6" lengthAdjust="spacing">2020-04-20</text><text transform="translate(675.7,714.1) scale(1,1) rotate(-90)" font-size="8.4" text-anchor="end" fill="#484848" font-family="&quot;Liberation Serif&quot;,&quot;Noto Serif CJK SC&quot;,serif" dy="2.9" textLength="44.6" lengthAdjust="spacing">2020-05-20</text><text transform="translate(686.0,714.1) scale(1,1) rotate(-90)" font-size="8.4" text-anchor="end" fill="#484848" font-family="&quot;Liberation Serif&quot;,&quot;Noto Serif CJK SC&quot;,serif" dy="2.9" textLength="44.6" lengthAdjust="spacing">2020-06-20</text><text transform="translate(696.4,714.1) scale(1,1) rotate(-90)" font-size="8.4" text-anchor="end" fill="#484848" font-family="&quot;Liberation Serif&quot;,&quot;Noto Serif CJK SC&quot;,serif" dy="2.9" textLength="44.6" lengthAdjust="spacing">2020-07-20</text><text transform="translate(706.7,714.1) scale(1,1) rotate(-90)" font-size="8.4" text-anchor="end" fill="#484848" font-family="&quot;Liberation Serif&quot;,&quot;Noto Serif CJK SC&quot;,serif" dy="2.9" textLength="44.6" lengthAdjust="spacing">2020-08-20</text><text transform="translate(717.0,714.1) scale(1,1) rotate(-90)" font-size="8.4" text-anchor="end" fill="#484848" font-family="&quot;Liberation Serif&quot;,&quot;Noto Serif CJK SC&quot;,serif" dy="2.9" textLength="44.6" lengthAdjust="spacing">2020-09-20</text><text transform="translate(727.4,714.1) scale(1,1) rotate(-90)" font-size="8.4" text-anchor="end" fill="#484848" font-family="&quot;Liberation Serif&quot;,&quot;Noto Serif CJK SC&quot;,serif" dy="2.9" textLength="44.6" lengthAdjust="spacing">2020-10-20</text><text transform="translate(737.7,714.1) scale(1,1) rotate(-90)" font-size="8.4" text-anchor="end" fill="#484848" font-family="&quot;Liberation Serif&quot;,&quot;Noto Serif CJK SC&quot;,serif" dy="2.9" textLength="44.6" lengthAdjust="spacing">2020-11-20</text><text transform="translate(748.1,714.1) scale(1,1) rotate(-90)" font-size="8.4" text-anchor="end" fill="#484848" font-family="&quot;Liberation Serif&quot;,&quot;Noto Serif CJK SC&quot;,serif" dy="2.9" textLength="44.6" lengthAdjust="spacing">2020-12-20</text><text transform="translate(758.4,714.1) scale(1,1) rotate(-90)" font-size="8.4" text-anchor="end" fill="#484848" font-family="&quot;Liberation Serif&quot;,&quot;Noto Serif CJK SC&quot;,serif" dy="2.9" textLength="44.6" lengthAdjust="spacing">2021-01-20</text><text transform="translate(768.7,714.1) scale(1,1) rotate(-90)" font-size="8.4" text-anchor="end" fill="#484848" font-family="&quot;Liberation Serif&quot;,&quot;Noto Serif CJK SC&quot;,serif" dy="2.9" textLength="44.6" lengthAdjust="spacing">2021-02-20</text><text transform="translate(779.1,714.1) scale(1,1) rotate(-90)" font-size="8.4" text-anchor="end" fill="#484848" font-family="&quot;Liberation Serif&quot;,&quot;Noto Serif CJK SC&quot;,serif" dy="2.9" textLength="44.6" lengthAdjust="spacing">2021-03-20</text><text transform="translate(789.4,714.1) scale(1,1) rotate(-90)" font-size="8.4" text-anchor="end" fill="#484848" font-family="&quot;Liberation Serif&quot;,&quot;Noto Serif CJK SC&quot;,serif" dy="2.9" textLength="44.6" lengthAdjust="spacing">2021-04-20</text><text transform="translate(799.8,714.1) scale(1,1) rotate(-90)" font-size="8.4" text-anchor="end" fill="#484848" font-family="&quot;Liberation Serif&quot;,&quot;Noto Serif CJK SC&quot;,serif" dy="2.9" textLength="44.6" lengthAdjust="spacing">2021-05-20</text><text transform="translate(810.1,714.1) scale(1,1) rotate(-90)" font-size="8.4" text-anchor="end" fill="#484848" font-family="&quot;Liberation Serif&quot;,&quot;Noto Serif CJK SC&quot;,serif" dy="2.9" textLength="44.6" lengthAdjust="spacing">2021-06-20</text><text transform="translate(820.4,714.1) scale(1,1) rotate(-90)" font-size="8.4" text-anchor="end" fill="#484848" font-family="&quot;Liberation Serif&quot;,&quot;Noto Serif CJK SC&quot;,serif" dy="2.9" textLength="44.6" lengthAdjust="spacing">2021-07-20</text><text transform="translate(830.8,714.1) scale(1,1) rotate(-90)" font-size="8.4" text-anchor="end" fill="#484848" font-family="&quot;Liberation Serif&quot;,&quot;Noto Serif CJK SC&quot;,serif" dy="2.9" textLength="44.6" lengthAdjust="spacing">2021-08-20</text><text transform="translate(841.1,714.1) scale(1,1) rotate(-90)" font-size="8.4" text-anchor="end" fill="#484848" font-family="&quot;Liberation Serif&quot;,&quot;Noto Serif CJK SC&quot;,serif" dy="2.9" textLength="44.6" lengthAdjust="spacing">2021-09-20</text><text transform="translate(851.5,714.1) scale(1,1) rotate(-90)" font-size="8.4" text-anchor="end" fill="#484848" font-family="&quot;Liberation Serif&quot;,&quot;Noto Serif CJK SC&quot;,serif" dy="2.9" textLength="44.6" lengthAdjust="spacing">2021-10-20</text><text transform="translate(861.8,714.1) scale(1,1) rotate(-90)" font-size="8.4" text-anchor="end" fill="#484848" font-family="&quot;Liberation Serif&quot;,&quot;Noto Serif CJK SC&quot;,serif" dy="2.9" textLength="44.6" lengthAdjust="spacing">2021-11-20</text><text transform="translate(872.1,714.1) scale(1,1) rotate(-90)" font-size="8.4" text-anchor="end" fill="#484848" font-family="&quot;Liberation Serif&quot;,&quot;Noto Serif CJK SC&quot;,serif" dy="2.9" textLength="44.6" lengthAdjust="spacing">2021-12-20</text><text transform="translate(882.5,714.1) scale(1,1) rotate(-90)" font-size="8.4" text-anchor="end" fill="#484848" font-family="&quot;Liberation Serif&quot;,&quot;Noto Serif CJK SC&quot;,serif" dy="2.9" textLength="44.6" lengthAdjust="spacing">2022-01-20</text><text transform="translate(892.8,714.1) scale(1,1) rotate(-90)" font-size="8.4" text-anchor="end" fill="#484848" font-family="&quot;Liberation Serif&quot;,&quot;Noto Serif CJK SC&quot;,serif" dy="2.9" textLength="44.6" lengthAdjust="spacing">2022-02-20</text><text transform="translate(903.2,714.1) scale(1,1) rotate(-90)" font-size="8.4" text-anchor="end" fill="#484848" font-family="&quot;Liberation Serif&quot;,&quot;Noto Serif CJK SC&quot;,serif" dy="2.9" textLength="44.6" lengthAdjust="spacing">2022-03-20</text><text transform="translate(913.5,714.1) scale(1,1) rotate(-90)" font-size="8.4" text-anchor="end" fill="#484848" font-family="&quot;Liberation Serif&quot;,&quot;Noto Serif CJK SC&quot;,serif" dy="2.9" textLength="44.6" lengthAdjust="spacing">2022-04-20</text><text transform="translate(923.8,714.1) scale(1,1) rotate(-90)" font-size="8.4" text-anchor="end" fill="#484848" font-family="&quot;Liberation Serif&quot;,&quot;Noto Serif CJK SC&quot;,serif" dy="2.9" textLength="44.6" lengthAdjust="spacing">2022-05-20</text><text transform="translate(934.2,714.1) scale(1,1) rotate(-90)" font-size="8.4" text-anchor="end" fill="#484848" font-family="&quot;Liberation Serif&quot;,&quot;Noto Serif CJK SC&quot;,serif" dy="2.9" textLength="44.6" lengthAdjust="spacing">2022-06-20</text><text transform="translate(944.5,714.1) scale(1,1) rotate(-90)" font-size="8.4" text-anchor="end" fill="#484848" font-family="&quot;Liberation Serif&quot;,&quot;Noto Serif CJK SC&quot;,serif" dy="2.9" textLength="44.6" lengthAdjust="spacing">2022-07-20</text><text transform="translate(954.9,714.1) scale(1,1) rotate(-90)" font-size="8.4" text-anchor="end" fill="#484848" font-family="&quot;Liberation Serif&quot;,&quot;Noto Serif CJK SC&quot;,serif" dy="2.9" textLength="44.6" lengthAdjust="spacing">2022-08-20</text><text transform="translate(965.2,714.1) scale(1,1) rotate(-90)" font-size="8.4" text-anchor="end" fill="#484848" font-family="&quot;Liberation Serif&quot;,&quot;Noto Serif CJK SC&quot;,serif" dy="2.9" textLength="44.6" lengthAdjust="spacing">2022-09-20</text><text transform="translate(975.5,714.1) scale(1,1) rotate(-90)" font-size="8.4" text-anchor="end" fill="#484848" font-family="&quot;Liberation Serif&quot;,&quot;Noto Serif CJK SC&quot;,serif" dy="2.9" textLength="44.6" lengthAdjust="spacing">2022-10-20</text><text transform="translate(985.9,714.1) scale(1,1) rotate(-90)" font-size="8.4" text-anchor="end" fill="#484848" font-family="&quot;Liberation Serif&quot;,&quot;Noto Serif CJK SC&quot;,serif" dy="2.9" textLength="44.6" lengthAdjust="spacing">2022-11-20</text><text transform="translate(996.2,714.1) scale(1,1) rotate(-90)" font-size="8.4" text-anchor="end" fill="#484848" font-family="&quot;Liberation Serif&quot;,&quot;Noto Serif CJK SC&quot;,serif" dy="2.9" textLength="44.6" lengthAdjust="spacing">2022-12-20</text><text transform="translate(1006.6,714.1) scale(1,1) rotate(-90)" font-size="8.4" text-anchor="end" fill="#484848" font-family="&quot;Liberation Serif&quot;,&quot;Noto Serif CJK SC&quot;,serif" dy="2.9" textLength="44.6" lengthAdjust="spacing">2023-01-20</text><text transform="translate(1016.9,714.1) scale(1,1) rotate(-90)" font-size="8.4" text-anchor="end" fill="#484848" font-family="&quot;Liberation Serif&quot;,&quot;Noto Serif CJK SC&quot;,serif" dy="2.9" textLength="44.6" lengthAdjust="spacing">2023-02-20</text><text transform="translate(1027.2,714.1) scale(1,1) rotate(-90)" font-size="8.4" text-anchor="end" fill="#484848" font-family="&quot;Liberation Serif&quot;,&quot;Noto Serif CJK SC&quot;,serif" dy="2.9" textLength="44.6" lengthAdjust="spacing">2023-03-20</text><text transform="translate(1037.6,714.1) scale(1,1) rotate(-90)" font-size="8.4" text-anchor="end" fill="#484848" font-family="&quot;Liberation Serif&quot;,&quot;Noto Serif CJK SC&quot;,serif" dy="2.9" textLength="44.6" lengthAdjust="spacing">2023-04-20</text><text x="850.0" y="557.2" font-size="11.2" text-anchor="middle" fill="#262626" font-family="&quot;Liberation Serif&quot;,&quot;Noto Serif CJK SC&quot;,serif" textLength="61.0" lengthAdjust="spacing" text-decoration="underline" font-weight="500">纯碱5-9价差</text><path d="M654.3,641.3 L654.3,641.3 L654.4,641.9 L654.4,642.5 L654.5,643.2 L654.6,646.0 L654.7,645.9 L655.5,646.6 L656.3,646.9 L657.0,648.0 L657.6,648.4 L658.3,648.9 L659.3,649.1 L660.3,649.9 L661.0,651.2 L661.7,651.5 L662.4,651.9 L663.0,653.3 L663.7,653.7 L664.4,654.0 L665.0,655.4 L665.7,655.2 L666.4,656.0 L667.1,655.8 L667.7,656.5 L668.4,658.0 L669.4,659.2 L670.4,659.4 L671.4,659.2 L672.4,660.6 L674.1,661.0 L674.9,660.6 L674.9,660.1 L674.9,659.1 L674.9,656.8 L674.9,657.7 L674.9,655.0 L674.9,656.1 L674.9,655.1 L674.9,652.7 L674.9,653.0 L674.9,652.1 L674.9,649.8 L674.9,650.2 L674.9,648.0 L674.9,648.9 L675.0,647.5 L675.0,647.3 L675.0,644.2 L675.0,643.9 L675.0,643.7 L675.0,642.8 L675.0,640.9 L675.0,641.6 L675.0,640.6 L675.0,638.4 L675.0,637.1 L675.0,637.5 L675.0,636.0 L675.0,635.7 L675.0,634.4 L675.0,633.2 L675.1,631.4 L675.1,630.8 L675.1,630.8 L676.5,631.2 L677.5,631.4 L678.5,631.8 L679.5,631.8 L680.5,630.8 L681.5,630.4 L682.5,630.4 L683.5,630.6 L684.5,629.8 L685.6,629.3 L686.6,628.7 L687.6,628.9 L688.6,627.1 L689.6,627.3 L690.6,626.7 L691.6,626.1 L692.6,626.3 L693.3,624.6 L694.0,623.5 L694.6,623.7 L695.4,621.6 L696.2,621.7 L697.9,621.1 L698.7,622.6 L699.5,622.3 L700.3,624.2 L701.1,624.3 L701.6,625.7 L702.2,625.0 L702.7,626.7 L703.1,626.1 L703.5,623.8 L703.9,624.6 L704.3,622.7 L704.9,622.4 L705.5,621.3 L706.1,622.6 L706.7,622.7 L706.9,624.0 L707.0,624.5 L707.1,626.6 L707.3,627.8 L707.4,627.1 L707.5,628.7 L707.7,629.5 L707.8,631.1 L707.9,631.9 L708.1,632.1 L708.2,633.1 L708.3,635.2 L708.5,634.5 L708.6,635.2 L708.7,636.8 L709.0,638.1 L709.2,638.1 L709.5,640.4 L709.7,639.9 L710.0,641.3 L710.2,643.6 L710.4,643.9 L711.2,644.6 L712.0,645.9 L713.2,644.9 L713.5,644.9 L713.8,643.7 L714.1,642.7 L714.4,641.3 L715.8,640.4 L716.8,639.4 L717.8,639.0 L718.8,639.4 L719.8,638.5 L720.8,639.0 L721.9,640.3 L722.9,640.0 L723.9,639.4 L724.9,640.8 L725.9,640.7 L726.9,641.9 L727.9,642.7 L728.9,643.3 L729.9,642.8 L730.9,643.7 L731.9,643.8 L732.9,644.9 L734.0,645.6 L735.0,644.5 L736.0,646.8 L737.0,645.9 L738.0,646.4 L739.0,646.9 L740.0,646.8 L741.0,646.9 L741.8,647.3 L742.6,648.8 L743.4,649.1 L744.2,649.3 L745.1,648.9 L746.1,648.3 L747.1,650.2 L748.1,650.5 L749.1,651.1 L750.1,649.8 L751.1,648.9 L752.1,648.6 L753.1,648.6 L754.1,647.9 L754.9,647.6 L755.6,649.5 L756.4,650.1 L757.2,649.9 L758.2,649.0 L759.2,650.2 L760.2,650.6 L761.2,650.5 L762.2,649.8 L763.2,650.2 L764.2,650.3 L765.2,648.9 L766.2,649.6 L767.2,647.9 L768.2,647.3 L769.3,647.9 L770.0,649.3 L770.8,649.2 L771.5,650.2 L772.3,649.9 L772.5,651.8 L772.8,651.4 L773.0,653.2 L773.3,654.0 L774.3,653.1 L775.3,654.0 L776.3,652.9 L777.1,654.2 L777.8,653.8 L778.6,655.2 L779.3,656.0 L780.3,655.7 L781.4,655.0 L782.4,653.8 L783.4,654.0 L783.8,652.4 L784.2,652.3 L784.6,650.5 L785.0,650.7 L785.4,649.9 L785.9,651.7 L786.4,652.2 L786.9,651.1 L787.4,652.9 L787.8,654.5 L788.2,655.1 L788.6,655.9 L789.0,655.0 L789.4,657.0 L789.8,658.4 L790.2,657.9 L790.6,660.1 L791.0,659.8 L791.4,661.0 L791.9,661.9 L792.4,663.4 L793.5,663.0 L794.5,664.0 L794.9,665.9 L795.4,665.4 L795.9,667.1 L796.3,668.9 L796.7,668.9 L797.1,668.9 L797.5,670.7 L798.1,670.3 L798.7,669.1 L798.7,668.3 L798.7,666.1 L798.7,667.1 L798.7,664.9 L798.7,663.4 L798.8,664.3 L798.8,663.3 L798.8,661.6 L798.8,660.2 L798.8,660.1 L798.8,659.3 L798.8,658.7 L798.8,657.3 L798.8,656.6 L798.8,656.0 L798.8,653.9 L798.8,652.9 L798.8,652.7 L798.9,652.5 L798.9,651.7 L798.9,650.9 L798.9,649.0 L798.9,648.8 L798.9,646.4 L798.9,646.2 L798.9,644.5 L798.9,645.4 L798.9,644.9 L798.9,643.2 L798.9,642.5 L799.0,640.7 L799.0,640.8 L799.0,638.2 L799.0,638.0 L799.0,637.0 L799.0,637.4 L799.0,634.8 L799.0,633.9 L799.0,632.8 L799.0,633.7 L799.0,631.5 L799.0,632.0 L799.1,629.7 L799.1,630.0 L799.1,627.6 L799.1,628.4 L799.1,627.7 L799.1,626.5 L799.1,624.7 L799.6,624.2 L800.0,623.6 L800.5,621.7 L801.5,620.7 L802.0,622.7 L802.5,622.7 L802.9,624.8 L803.2,624.2 L803.5,625.7 L804.6,626.1 L805.6,624.7 L806.2,626.1 L806.9,625.7 L807.6,626.7 L808.2,625.3 L808.9,626.3 L809.6,624.7 L810.3,624.0 L810.9,623.4 L811.6,622.7 L812.1,622.6 L812.7,620.6 L813.2,619.7 L813.7,618.1 L814.2,618.1 L814.6,616.6 L815.3,616.0 L816.0,614.8 L816.7,614.6 L817.7,614.6 L818.7,613.6 L819.3,613.9 L820.0,611.7 L820.7,611.6 L821.2,611.6 L821.7,610.7 L822.2,609.4 L822.7,608.6 L823.7,608.3 L824.7,609.6 L825.7,609.3 L826.7,608.2 L827.7,608.4 L828.8,609.6 L829.2,608.2 L829.7,608.8 L830.2,607.2 L831.0,607.3 L831.8,608.6 L832.3,608.6 L832.9,611.4 L833.4,611.6 L834.4,613.3 L835.4,612.6 L836.1,611.1 L836.8,610.6 L838.2,609.6 L838.3,610.3 L838.3,611.5 L838.3,612.9 L838.3,612.0 L838.3,614.5 L838.3,614.4 L838.4,616.9 L838.4,616.6 L838.4,618.8 L838.4,618.5 L838.4,619.9 L838.4,619.3 L838.5,620.6 L838.5,621.8 L838.5,622.8 L838.5,623.3 L838.5,624.8 L838.5,624.9 L838.6,626.9 L838.6,628.8 L838.6,629.4 L838.6,629.8 L838.6,631.5 L838.6,631.8 L838.7,632.5 L838.7,633.0 L838.7,633.0 L838.7,635.9 L838.7,636.8 L838.8,637.5 L838.8,638.1 L838.8,639.3 L838.8,640.5 L838.8,641.5 L838.8,641.3 L839.8,641.3 L840.3,639.8 L840.5,639.6 L840.7,636.9 L840.9,638.3 L841.1,636.5 L841.3,635.3 L841.5,634.4 L841.7,633.1 L841.9,632.8 L842.2,630.7 L842.5,631.0 L842.8,630.0 L843.2,627.8 L843.5,627.7 L844.1,629.4 L844.8,630.0 L845.5,629.8 L846.0,629.6 L846.6,627.8 L847.1,626.7 L847.6,627.5 L848.0,628.7 L848.5,629.4 L848.9,630.8 L849.9,631.8 L850.0,632.8 L850.8,634.4 L851.6,633.8 L851.9,635.8 L852.2,636.8 L852.5,636.9 L852.7,637.8 L853.0,638.8 L854.0,639.8 L855.0,639.8 L856.1,639.1 L857.1,638.7 L858.1,639.2 L859.1,641.0 L860.1,640.4 L860.6,639.0 L861.2,638.1 L861.7,637.8 L862.5,638.5 L863.3,639.2 L864.2,638.9 L865.1,640.4 L866.1,640.9 L867.1,641.3 L867.4,641.3 L867.6,643.9 L867.9,643.0 L868.2,644.9 L869.2,646.1 L870.2,645.9 L870.9,645.8 L871.7,647.6 L872.4,648.1 L873.2,647.9 L874.2,649.5 L875.2,648.1 L876.2,649.3 L877.2,650.5 L878.2,648.5 L879.2,649.0 L880.3,649.3 L881.3,647.7 L882.3,648.4 L883.3,647.9 L884.3,646.6 L885.3,647.4 L886.3,646.9 L887.1,648.4 L887.8,648.6 L888.6,648.8 L889.3,648.9 L890.3,648.3 L891.3,650.8 L892.4,649.9 L893.4,649.9 L894.4,651.7 L895.4,650.9 L896.4,650.6 L897.4,651.5 L898.4,652.5 L899.4,653.9 L900.4,653.7 L901.4,653.4 L902.4,653.0 L903.4,654.1 L904.5,654.6 L905.5,654.7 L906.5,654.0 L907.5,654.6 L908.5,653.1 L909.5,652.9 L910.2,651.1 L910.8,651.4 L911.5,650.5 L912.2,649.7 L912.8,648.9 L913.5,648.5 L914.1,647.9 L914.7,646.8 L915.3,646.1 L916.0,646.3 L916.6,644.9 L917.1,643.3 L917.6,642.4 L918.1,642.5 L918.6,641.9 L919.4,640.3 L920.2,639.8 L920.9,640.5 L921.6,641.3 L921.6,643.0 L921.6,644.1 L921.6,644.7 L921.6,645.9 L921.6,645.1 L921.7,646.3 L921.7,646.7 L921.7,648.0 L921.7,648.8 L921.7,649.7 L921.7,650.8 L921.7,653.2 L921.7,653.1 L921.7,654.9 L921.7,654.9 L921.7,656.4 L921.8,657.1 L921.8,657.8 L921.8,659.5 L921.8,659.6 L921.8,660.3 L921.8,660.6 L921.8,661.2 L921.8,662.9 L921.8,663.7 L921.8,664.0 L921.8,666.8 L921.9,665.5 L921.9,667.4 L921.9,667.9 L921.9,669.2 L921.9,671.1 L921.9,672.3 L921.9,671.9 L921.9,673.5 L921.9,674.9 L921.9,674.3 L921.9,675.5 L922.0,676.5 L922.0,678.4 L922.0,678.0 L922.0,680.3 L922.0,679.5 L922.0,681.2 L922.3,682.8 L922.6,683.6 L922.9,683.0 L923.3,680.7 L923.6,680.5 L923.9,680.9 L924.2,679.2 L924.9,678.3 L925.6,676.8 L926.2,677.2 L926.5,676.2 L926.7,675.5 L926.9,674.4 L927.1,673.4 L927.4,673.7 L927.6,672.2 L927.8,670.7 L928.0,669.9 L928.3,669.1 L928.6,668.7 L929.0,666.4 L929.3,666.0 L929.7,665.1 L930.4,666.7 L931.1,667.1 L931.3,665.1 L931.6,664.2 L931.8,663.0 L932.0,663.4 L932.3,662.0 L932.7,663.8 L933.1,664.4 L933.5,665.3 L933.9,666.1 L934.4,665.9 L935.0,667.7 L935.5,669.1 L935.9,670.0 L936.3,670.7 L936.7,671.5 L937.1,673.1 L937.9,671.8 L938.7,671.1 L939.0,671.5 L939.3,672.1 L939.6,674.3 L939.8,674.0 L940.1,676.0 L940.4,677.2 L941.2,677.9 L942.0,679.2 L942.3,680.9 L942.6,681.7 L942.9,682.1 L943.2,683.2 L943.5,683.0 L943.8,685.7 L944.2,686.8 L944.5,687.6 L944.8,688.2 L945.0,688.5 L945.2,686.5 L945.4,685.3 L945.6,684.8 L945.8,682.9 L946.0,683.3 L946.2,681.2 L946.4,681.2 L946.9,682.6 L947.5,683.5 L948.0,684.2 L948.2,683.6 L948.4,681.4 L948.5,681.7 L948.7,681.2 L948.9,680.3 L949.1,678.8 L949.2,677.2 L949.6,677.3 L950.0,679.8 L950.4,679.4 L950.8,681.2 L951.3,683.3 L951.7,682.1 L952.1,683.1 L952.5,685.2 L953.3,684.5 L954.1,684.2 L954.9,684.2 L955.7,686.2 L956.5,686.3 L957.3,684.2 L957.6,686.3 L957.9,685.7 L958.3,688.1 L958.6,687.9 L958.9,689.3 L959.5,690.8 L960.0,690.0 L960.5,691.7 L961.2,692.0 L961.9,690.3 L962.0,689.2 L962.1,687.8 L962.2,687.4 L962.3,685.4 L962.4,684.6 L962.5,684.8 L962.6,684.1 L962.7,684.2 L962.8,682.1 L962.9,681.2 L963.0,679.9 L963.0,678.8 L963.0,677.3 L963.0,678.6 L963.0,677.1 L963.0,675.2 L963.0,675.4 L963.0,674.4 L963.0,673.4 L963.0,672.0 L963.0,672.1 L963.1,671.3 L963.1,670.0 L963.1,667.7 L963.1,667.4 L963.1,667.0 L963.1,666.8 L963.1,664.9 L963.1,663.9 L963.1,662.0 L963.1,661.1 L963.2,660.7 L963.2,660.7 L963.2,658.7 L963.2,659.1 L963.2,657.9 L963.2,656.2 L963.2,655.8 L963.2,655.7 L963.2,652.8 L963.2,653.4 L963.2,652.7 L963.3,652.4 L963.3,649.9 L963.3,649.7 L963.3,649.2 L963.3,647.1 L963.3,647.4 L963.3,646.4 L963.3,646.0 L963.3,643.8 L963.3,642.1 L963.3,642.2 L963.4,641.3 L963.4,640.7 L963.4,640.3 L963.4,639.0 L963.5,637.5 L963.5,637.3 L963.5,636.3 L963.6,634.8 L963.6,633.0 L963.6,631.4 L963.7,631.8 L963.7,629.5 L963.7,629.4 L963.8,628.7 L964.5,629.4 L965.2,627.1 L966.0,627.1 L967.0,627.3 L968.0,627.2 L969.0,626.3 L970.0,626.0 L971.0,626.8 L972.0,626.7 L973.0,627.8 L974.0,627.5 L975.1,627.1 L975.7,625.9 L976.4,626.7 L977.1,624.7 L978.1,624.3 L979.1,623.1 L979.6,621.7 L980.2,622.2 L980.7,620.7 L981.2,620.4 L981.6,619.6 L982.1,617.7 L982.4,617.5 L982.7,616.3 L983.0,614.4 L983.2,614.2 L983.5,612.6 L984.1,612.2 L984.6,611.4 L985.1,609.6 L985.5,607.9 L985.9,608.7 L986.3,606.7 L986.7,605.6 L987.2,605.7 L987.6,603.8 L988.0,602.9 L988.2,604.5 L988.4,605.1 L988.6,605.3 L988.8,606.7 L989.0,608.4 L989.2,608.6 L989.8,608.7 L990.5,610.9 L991.2,610.6 L992.4,610.9 L993.6,610.2 L994.6,611.3 L995.6,611.0 L996.3,610.3 L997.0,609.9 L997.6,608.6 L998.1,608.1 L998.6,606.9 L999.2,605.1 L999.7,605.6 L1000.0,604.9 L1000.3,604.3 L1000.7,603.2 L1001.0,602.0 L1001.3,601.5 L1001.7,600.5 L1001.9,598.6 L1002.2,599.0 L1002.5,596.6 L1002.7,595.9 L1003.0,594.8 L1003.3,594.9 L1003.5,596.9 L1003.8,597.7 L1004.0,597.9 L1004.3,599.6 L1004.5,599.5 L1005.4,598.3 L1006.3,598.5 L1007.0,599.6 L1007.7,599.8 L1008.3,600.5 L1008.7,600.4 L1009.1,602.3 L1009.5,602.0 L1009.9,603.2 L1010.3,604.5 L1010.9,604.4 L1011.4,605.4 L1011.9,607.8 L1012.4,607.6 L1013.4,608.1 L1014.4,608.6 L1014.7,607.7 L1014.9,605.7 L1015.2,604.7 L1015.5,603.6 L1015.8,603.5 L1016.1,605.0 L1016.4,605.7 L1016.8,607.1 L1017.1,607.8 L1017.4,608.6 L1018.4,607.5 L1019.4,607.6 L1020.1,608.0 L1020.8,608.6 L1021.4,609.6 L1022.0,609.6 L1022.5,608.1 L1023.1,606.6 L1023.5,606.4 L1023.9,605.1 L1024.3,604.9 L1024.7,602.9 L1024.9,604.5 L1025.2,603.6 L1025.5,604.7 L1025.7,605.6 L1026.0,608.6 L1026.3,608.6 L1027.1,608.9 L1027.9,610.6 L1028.9,610.0 L1029.9,609.6 L1030.9,609.3 L1031.9,608.6 L1032.3,606.9 L1032.7,606.0 L1033.1,606.5 L1033.5,604.5 L1034.3,604.3 L1035.2,605.6 L1035.7,605.3 L1036.2,603.5 L1036.8,602.5 L1037.2,602.0 L1037.6,600.2 L1038.0,599.9 L1038.4,598.5 L1038.7,598.0 L1039.0,596.3 L1039.3,595.0 L1039.6,594.5 L1040.0,595.3 L1040.4,597.1 L1040.8,597.5 L1040.9,597.2 L1041.0,598.6 L1041.1,599.9 L1041.2,601.7 L1041.3,602.1 L1041.4,602.4 L1041.5,604.9 L1041.6,605.1 L1041.7,606.7 L1041.8,606.4 L1041.9,608.7 L1042.0,608.6 L1042.2,609.8 L1042.4,610.2 L1042.6,610.8 L1042.8,613.3 L1043.0,612.8 L1043.2,614.6 L1043.6,616.4 L1044.0,617.4 L1044.4,617.7 L1044.8,617.8 L1045.2,620.2 L1045.6,620.7 L1045.7,622.1 L1045.7,621.6 L1045.7,624.1 L1045.7,625.5 L1045.7,625.0 L1045.8,626.4 L1045.8,627.0 L1045.8,627.5 L1045.8,628.3 L1045.8,630.4 L1045.8,632.1 L1045.9,631.0 L1045.9,631.7 L1045.9,633.9 L1045.9,634.1 L1045.9,636.5 L1046.0,636.1 L1046.0,636.4 L1046.0,638.0 L1046.0,639.2 L1046.0,640.2 L1046.0,641.3 L1046.0,641.3 Z" fill="#a5a5a5"/><polyline points="654.3,659.0 655.1,660.2 655.9,661.0 657.3,662.0 658.3,661.9 659.3,663.0 660.3,662.5 661.3,662.6 662.4,662.9 663.4,664.0 664.4,664.7 665.4,664.6 666.1,665.7 666.7,666.8 667.4,667.1 668.4,667.0 669.4,668.1 670.4,668.5 671.4,669.1 672.8,669.5 673.4,667.6 674.1,667.1 674.3,667.7 674.5,669.1 674.7,670.1 674.7,670.4 674.7,671.7 674.7,673.3 674.7,674.2 674.7,674.7 674.7,676.3 674.7,677.6 674.7,677.5 674.7,679.6 674.7,680.5 674.7,681.0 674.7,681.7 674.7,683.8 674.7,684.0 674.7,684.6 674.7,685.7 674.7,687.7 674.8,688.4 674.8,689.7 674.8,690.6 674.8,691.3 674.8,692.9 674.8,693.1 674.8,694.4 674.8,695.8 674.8,696.5 674.8,697.8 674.8,698.4 674.8,699.6 674.8,699.7 674.8,701.0 674.8,702.1 674.8,702.8 674.8,704.0 674.8,704.8 674.8,706.1 674.9,707.6 674.9,708.2 674.9,709.4 675.1,709.4 675.1,708.2 675.1,707.0 675.1,706.1 675.1,706.0 675.1,704.6 675.1,703.5 675.1,701.9 675.1,701.7 675.1,699.9 675.1,699.2 675.1,699.0 675.1,697.5 675.1,696.4 675.1,695.6 675.1,694.8 675.1,693.7 675.1,691.9 675.1,690.6 675.1,690.0 675.1,688.9 675.1,687.8 675.1,687.9 675.2,686.8 675.2,685.0 675.2,684.4 675.2,683.1 675.2,682.8 675.2,681.1 675.2,679.8 675.2,678.8 675.2,678.2 675.2,676.8 675.2,676.3 675.2,675.7 675.2,674.0 675.2,672.7 675.2,672.8 675.2,671.1 675.2,669.5 675.2,668.5 675.2,667.5 675.2,667.2 675.2,666.5 675.2,664.9 675.2,663.4 675.2,662.9 675.2,662.7 675.2,661.1 675.3,660.7 675.3,659.5 675.3,657.3 675.3,657.0 676.5,656.6 677.5,656.3 678.5,655.4 679.5,655.9 680.5,656.0 681.5,656.1 682.5,655.8 683.5,656.5 684.5,656.4 685.6,655.9 686.6,656.4 687.6,656.5 688.6,656.6 689.6,657.2 690.6,657.0 691.6,656.1 692.6,656.4 693.6,656.3 694.6,655.7 695.6,656.7 696.6,656.0 697.7,656.3 698.7,655.3 699.7,655.4 700.7,654.6 701.7,653.4 702.7,654.1 703.7,654.6 704.7,653.3 705.7,652.9 706.7,652.3 707.7,650.9 709.1,651.9 710.0,651.3 710.8,650.5 712.4,649.9 712.8,651.3 713.2,651.9 713.8,653.3 714.4,654.6 715.6,654.3 716.8,655.4 717.8,655.2 718.8,654.9 719.8,656.3 720.8,655.8 721.9,656.1 722.9,655.8 723.9,654.9 724.9,655.0 725.9,654.6 726.9,656.0 727.9,656.3 728.9,656.0 729.9,655.4 730.9,656.1 731.9,655.5 732.9,656.2 734.0,656.5 735.0,656.4 736.0,655.5 737.0,656.0 738.0,656.1 739.0,656.3 740.0,656.1 741.0,656.6 742.0,657.9 743.0,658.1 744.0,659.0 745.1,657.6 746.1,657.0 746.6,656.0 747.1,655.3 747.6,653.5 748.1,652.9 749.1,653.0 750.1,654.3 751.1,654.0 752.1,654.5 753.1,654.5 754.1,655.0 755.1,656.0 756.1,657.0 757.2,655.9 758.2,655.5 759.2,655.4 760.2,654.7 761.2,654.6 762.2,654.0 763.2,653.1 764.2,652.6 765.2,652.5 766.2,651.3 767.2,651.4 768.2,650.5 768.9,649.3 769.6,649.3 770.3,647.9 770.9,647.4 771.6,645.3 772.3,644.9 773.3,644.0 774.3,643.9 775.3,643.1 776.3,641.9 777.3,641.0 778.3,640.8 779.3,641.3 780.3,642.9 781.4,644.5 782.4,644.9 783.4,645.5 784.4,645.9 785.4,646.9 786.4,647.9 787.4,648.8 788.4,648.9 789.4,648.3 790.4,646.9 791.4,646.0 792.4,645.9 793.2,644.3 793.9,643.9 795.5,644.9 796.3,643.8 797.1,642.9 797.3,643.8 797.5,644.8 797.7,646.2 797.9,647.1 798.1,648.6 798.3,648.9 798.4,647.3 798.6,646.8 798.8,645.7 798.9,644.9 798.9,644.4 798.9,642.5 798.9,641.4 799.0,640.8 799.0,639.7 799.0,638.5 799.0,637.5 799.0,637.4 799.0,635.7 799.0,635.3 799.0,633.9 799.1,632.2 799.1,632.5 799.1,631.2 799.1,630.4 799.1,628.7 799.6,628.3 800.0,627.2 800.5,625.7 801.5,624.3 802.1,625.0 802.6,626.6 803.1,627.7 804.6,626.7 805.6,626.8 806.6,627.7 807.6,626.9 808.6,626.3 809.6,624.9 810.6,624.7 811.3,623.5 811.9,623.4 812.6,621.7 813.6,620.3 814.6,619.7 815.6,619.1 816.7,617.7 817.7,618.1 818.7,618.7 819.7,617.5 820.7,616.6 821.7,616.8 822.7,615.6 823.7,617.3 824.7,617.7 825.4,616.7 826.1,615.9 826.7,614.6 827.7,613.1 828.8,612.6 829.8,611.3 830.8,610.6 831.8,612.3 832.8,612.6 834.2,613.6 834.5,612.7 834.8,611.7 835.2,610.9 835.5,609.0 835.8,608.6 836.1,607.6 836.3,606.4 836.6,605.7 836.8,604.1 838.2,605.6 839.0,606.1 839.8,607.6 840.4,607.2 840.9,605.0 841.5,604.5 842.2,603.3 842.9,602.9 843.9,603.7 844.9,604.1 845.4,603.2 845.8,601.3 846.3,600.5 846.5,598.9 846.7,598.9 846.9,596.9 847.1,596.3 847.3,595.3 847.5,594.1 848.3,592.8 848.9,593.5 849.5,594.5 850.0,595.5 850.3,596.6 850.5,597.5 850.8,598.5 850.9,600.1 851.0,600.1 851.0,601.8 851.1,602.2 851.2,603.4 851.3,604.8 851.4,605.3 851.5,606.3 851.5,607.9 851.6,608.6 851.7,609.0 851.8,610.5 851.9,612.3 852.0,613.3 852.1,613.0 852.2,614.2 852.3,615.3 852.4,617.3 852.5,618.2 852.6,619.2 852.7,619.5 852.8,620.7 853.0,621.2 853.2,623.2 853.4,624.0 853.6,624.9 853.8,626.4 854.0,626.7 854.4,628.0 854.8,628.1 855.2,630.2 855.6,630.8 857.3,629.8 858.9,628.7 860.5,627.7 862.1,628.7 862.6,627.5 863.2,627.0 863.7,625.7 864.3,625.3 864.8,623.2 865.3,622.7 866.1,623.2 866.9,624.7 867.1,625.2 867.3,626.8 867.5,627.4 867.6,628.9 867.8,630.1 868.0,630.3 868.2,631.8 869.2,632.5 870.2,632.8 871.2,631.9 872.2,631.8 873.8,630.8 874.2,631.8 874.6,633.3 875.0,634.3 875.4,634.8 876.0,633.2 876.5,632.7 877.0,631.8 877.3,630.4 877.7,629.1 878.0,629.1 878.3,627.9 878.6,626.7 879.0,625.4 879.4,625.0 879.9,623.8 880.3,622.7 880.8,621.6 881.3,620.0 881.9,619.7 882.3,618.1 882.7,618.2 883.1,617.2 883.5,615.6 883.9,614.7 884.3,614.1 884.7,612.7 885.1,611.6 885.9,610.1 886.7,609.6 887.5,608.1 888.3,607.6 888.9,606.3 889.5,605.6 889.8,607.1 890.1,608.0 890.4,609.1 890.7,609.6 891.1,611.2 891.5,611.2 892.0,612.3 892.4,613.6 892.8,612.1 893.2,612.0 893.6,610.6 893.7,612.1 893.8,612.5 894.0,613.8 894.1,614.1 894.2,616.2 894.4,617.2 894.5,618.3 894.6,619.1 894.8,619.7 895.6,619.2 896.4,617.7 897.6,616.6 897.8,617.0 898.1,619.0 898.3,619.4 898.6,621.3 898.8,621.7 899.2,623.1 899.6,624.2 900.0,625.1 900.4,625.7 902.0,624.7 902.3,623.4 902.5,623.1 902.8,621.1 903.0,621.2 903.2,619.7 903.5,619.2 903.7,617.3 904.0,617.1 904.2,615.6 904.5,614.6 904.9,613.3 905.3,613.0 905.7,611.2 906.1,610.6 906.6,610.9 907.1,612.2 907.7,613.6 908.9,612.6 909.2,611.4 909.5,611.1 909.8,610.2 910.1,608.6 910.4,607.3 910.8,606.8 911.1,605.4 911.4,605.2 911.7,603.5 912.1,604.6 912.5,606.2 912.9,606.6 913.1,607.0 913.3,609.2 913.5,609.1 913.7,611.2 913.9,611.3 914.1,612.6 914.5,611.1 914.9,610.5 915.3,609.6 916.0,608.9 916.6,607.6 917.1,608.3 917.6,609.7 918.2,610.6 918.6,611.6 919.0,612.4 919.4,613.7 919.8,614.6 920.4,613.3 921.0,612.6 921.1,613.9 921.2,613.9 921.3,616.2 921.4,616.7 921.5,618.0 921.7,619.0 921.8,619.9 921.9,620.5 922.0,621.1 922.1,622.9 922.2,623.7 923.4,624.3 924.0,622.8 924.6,621.7 925.0,620.4 925.4,620.2 925.8,619.0 926.2,617.7 927.9,616.6 928.7,615.2 929.5,614.2 929.9,615.1 930.3,616.4 930.7,617.7 931.5,618.5 932.3,619.7 932.5,620.4 932.8,621.2 933.0,622.6 933.2,624.3 933.4,625.0 933.7,626.3 933.9,626.7 934.4,625.9 935.0,624.4 935.5,623.7 935.8,624.8 936.2,625.0 936.5,626.4 936.8,627.6 937.1,628.7 937.5,629.9 937.9,631.0 938.3,631.7 938.7,632.8 939.1,633.7 939.6,634.4 940.0,635.8 940.4,636.8 940.9,638.4 941.4,639.2 942.0,639.8 943.6,638.8 944.4,639.2 945.2,640.4 945.5,638.9 945.7,638.4 946.0,637.6 946.3,636.2 946.5,635.8 946.8,634.4 948.4,634.8 948.8,636.2 949.2,637.1 949.6,637.4 950.0,638.8 950.6,637.2 951.1,635.7 951.7,635.2 952.5,635.6 953.3,636.8 954.9,636.4 955.7,637.6 956.5,638.8 958.1,637.8 958.9,639.3 959.7,639.8 961.3,640.4 962.1,639.2 962.9,639.2 963.8,637.9 964.6,636.8 965.4,636.0 966.2,634.8 967.8,633.8 969.4,632.8 971.0,633.2 972.0,633.6 973.0,634.8 974.0,636.1 975.1,636.8 975.7,637.8 976.4,638.5 977.1,639.8 978.7,638.8 979.2,638.0 979.8,636.1 980.3,635.8 980.8,635.1 981.4,634.2 981.9,632.8 982.4,631.2 983.0,630.7 983.5,629.8 984.1,628.3 984.6,628.4 985.1,626.7 985.9,625.7 986.7,624.7 987.6,622.9 988.4,622.3 989.2,621.1 990.0,620.7 990.5,620.2 991.1,618.6 991.6,617.7 992.4,617.4 993.2,616.2 994.2,616.2 995.2,615.6 996.2,616.8 997.2,616.6 997.9,615.8 998.6,615.3 999.3,613.6 1000.3,613.2 1001.3,611.6 1002.3,610.8 1003.3,609.6 1003.8,608.9 1004.3,607.6 1004.8,607.0 1005.3,605.6 1006.9,606.6 1007.7,605.8 1008.5,604.9 1009.3,606.3 1010.1,606.6 1010.7,607.9 1011.2,608.5 1011.8,609.6 1013.4,610.6 1014.4,609.8 1015.4,609.6 1016.4,609.9 1017.4,611.0 1018.4,610.2 1019.4,609.0 1020.4,610.2 1021.4,610.6 1022.4,611.1 1023.5,611.6 1024.5,611.3 1025.5,610.6 1026.5,611.3 1027.5,612.6 1028.5,612.5 1029.5,613.6 1030.5,613.8 1031.5,614.6 1032.5,614.5 1033.5,615.0 1034.3,615.6 1035.2,616.6 1036.8,615.6 1037.2,616.7 1037.6,617.1 1038.0,618.7 1039.6,619.7 1040.1,620.3 1040.7,622.0 1041.2,622.7 1041.4,624.0 1041.7,624.1 1041.9,625.6 1042.1,626.8 1042.4,627.6 1042.6,628.7 1042.9,629.3 1043.1,630.7 1043.3,632.3 1043.6,632.9 1043.8,634.1 1044.0,634.8 1044.1,636.3 1044.2,637.2 1044.3,637.7 1044.4,638.1 1044.4,639.6 1044.5,641.2 1044.6,642.4 1044.7,643.5 1044.8,643.8 1044.8,644.9 1044.9,646.3 1045.0,647.0 1045.1,648.2 1045.2,648.7 1045.2,649.7 1045.3,651.1 1045.4,651.6 1045.5,653.0 1045.6,654.6 1045.6,655.4" fill="none" stroke="#5b9bd5" stroke-width="1.9" stroke-linejoin="round" stroke-linecap="round" /><polyline points="654.3,657.4 655.3,657.5 656.3,659.0 657.3,659.8 658.3,660.0 659.3,659.2 660.3,659.4 661.3,659.1 662.4,659.0 663.4,659.0 664.4,658.6 665.4,659.4 666.4,659.4 667.4,659.9 668.4,660.6 669.4,660.8 670.4,661.0 671.4,660.5 672.4,661.4 673.4,660.9 674.5,660.6 675.5,660.1 676.5,660.0 677.5,660.0 678.5,659.0 679.5,659.3 680.5,659.4 681.5,660.2 682.5,660.2 683.5,660.3 684.5,660.6 685.6,660.7 686.6,661.6 687.6,662.4 688.6,662.2 689.6,662.6 690.6,662.0 691.6,661.6 692.6,661.6 693.6,662.0 694.6,663.4 695.4,664.3 696.2,665.1 697.2,664.8 698.3,664.6 699.1,664.0 699.9,662.6 700.4,661.6 700.9,660.2 701.5,659.0 702.3,659.9 703.1,660.6 703.9,661.1 704.7,662.0 705.5,660.4 706.3,660.0 706.7,658.4 707.1,658.6 707.5,657.5 707.9,656.0 708.5,654.7 709.0,654.5 709.6,652.9 710.4,652.0 711.2,650.9 712.4,649.9 712.8,648.4 713.2,648.4 713.6,646.9 713.7,648.0 713.8,649.5 713.9,650.2 714.0,650.4 714.1,652.1 714.2,652.9 714.2,654.4 714.2,655.5 714.2,655.7 714.2,657.0 714.2,658.3 714.2,658.5 714.2,660.5 714.2,661.4 714.2,661.4 714.2,663.2 714.2,663.9 714.2,664.6 714.2,666.2 714.2,667.7 714.2,668.1 714.2,668.5 714.3,670.1 714.3,671.5 714.3,672.7 714.3,673.4 714.3,673.5 714.3,675.8 714.3,676.3 714.3,676.6 714.3,677.6 714.3,678.6 714.3,680.4 714.3,680.7 714.3,682.6 714.3,682.7 714.3,684.3 714.3,685.1 714.3,685.6 714.3,686.5 714.3,688.8 714.3,689.9 714.3,689.7 714.3,691.6 714.3,693.0 714.3,693.9 714.3,694.8 714.3,695.1 714.3,696.6 714.3,697.3 714.4,698.9 714.4,699.6 714.4,700.8 714.4,701.9 714.4,702.2 714.4,703.7 714.4,703.8 714.4,705.0 714.4,707.0 714.4,707.3 714.4,708.7 714.4,709.4 714.5,709.4 714.5,708.5 714.5,707.1 714.5,706.5 714.5,706.0 714.5,704.1 714.5,703.2 714.5,701.9 714.5,700.9 714.5,700.8 714.5,699.6 714.5,699.0 714.5,697.6 714.6,697.0 714.6,694.9 714.6,693.9 714.6,692.9 714.6,692.1 714.6,692.0 714.6,689.9 714.6,689.2 714.6,687.6 714.6,686.6 714.6,686.3 714.6,685.4 714.6,684.2 714.6,683.8 714.6,682.7 714.6,681.8 714.6,680.3 714.6,678.8 714.6,677.6 714.6,677.5 714.6,675.7 714.6,674.4 714.6,674.4 714.6,672.6 714.6,672.3 714.6,670.7 714.6,670.0 714.6,668.4 714.6,667.9 714.6,666.8 714.6,665.7 714.6,664.5 714.6,664.1 714.7,663.3 714.7,661.6 714.7,660.4 714.7,659.7 714.7,659.3 714.7,657.7 714.7,657.2 714.7,655.4 714.7,655.0 715.7,655.5 716.8,655.4 717.8,655.2 718.8,656.0 719.8,655.4 720.8,655.6 721.9,655.7 722.9,655.2 723.9,655.3 724.9,655.0 725.9,654.8 726.9,655.4 727.9,655.0 728.9,655.4 729.9,655.2 730.9,655.1 731.9,655.6 732.9,655.0 734.0,655.4 735.0,655.2 736.0,655.8 737.0,655.4 738.0,655.4 739.0,655.5 740.0,655.1 741.0,655.0 742.0,655.4 743.0,655.2 744.0,656.0 744.7,655.6 745.4,654.2 746.1,652.9 746.5,652.4 747.0,651.1 747.5,649.9 749.1,650.5 750.1,650.1 751.1,650.9 752.1,650.5 753.1,651.7 754.1,651.3 755.1,651.5 756.1,651.6 757.2,650.9 758.2,651.1 759.2,649.9 760.2,649.9 761.2,650.4 762.2,649.7 763.2,649.3 764.2,649.5 765.2,649.1 766.2,648.9 767.2,647.6 768.2,646.9 768.7,645.9 769.3,644.8 769.8,643.6 770.3,642.9 771.3,641.6 772.3,640.8 773.0,640.0 773.6,638.9 774.3,638.4 775.3,637.3 776.3,637.2 777.3,637.4 778.3,636.8 779.3,637.6 780.3,638.8 781.4,639.1 782.4,639.8 783.0,641.2 783.7,642.1 784.4,642.9 785.4,643.8 786.4,644.9 787.4,644.4 788.4,644.5 789.1,644.0 789.8,642.4 790.4,641.9 791.1,640.8 791.8,639.7 792.4,638.8 792.8,638.5 793.2,636.4 793.5,635.9 793.9,634.8 794.7,634.0 795.5,633.2 796.5,632.9 797.5,633.8 798.0,634.4 798.6,636.3 799.1,636.8 799.8,636.2 800.5,634.8 801.5,633.9 802.5,633.8 803.5,632.8 804.6,632.8 805.6,634.2 806.6,634.4 807.6,633.9 808.6,633.2 809.6,632.8 810.6,631.8 811.6,632.8 812.6,632.8 813.6,631.4 814.6,630.8 815.6,630.3 816.7,629.8 817.7,630.6 818.7,630.4 819.7,629.1 820.7,628.7 821.7,628.9 822.7,629.8 823.7,630.8 824.7,630.8 825.4,630.2 826.1,628.8 826.7,627.7 827.7,626.2 828.8,625.7 829.8,625.7 830.8,624.7 831.8,623.9 832.8,623.7 833.5,623.1 834.2,621.7 834.6,620.3 835.0,619.2 835.4,618.9 835.8,617.7 836.2,616.5 836.6,615.5 837.0,614.5 837.4,613.6 838.1,612.6 838.8,611.6 840.3,610.6 841.9,609.6 843.5,610.2 844.2,609.3 844.9,608.6 845.6,607.8 846.3,606.6 846.5,605.0 846.7,604.8 846.9,603.5 847.1,603.0 847.3,601.2 847.5,600.5 848.1,599.7 848.7,598.5 849.5,599.5 850.0,600.5 850.2,601.1 850.3,602.8 850.5,603.8 850.7,604.6 850.8,605.5 851.0,606.6 851.1,608.2 851.3,608.4 851.4,609.0 851.5,610.4 851.6,611.0 851.8,613.2 851.9,614.1 852.0,614.6 852.2,615.2 852.3,616.8 852.5,617.2 852.6,619.2 852.8,619.5 852.9,620.1 853.1,621.9 853.2,622.7 853.4,623.1 853.6,625.3 853.8,626.3 854.0,626.9 854.2,627.4 854.4,628.7 854.7,630.1 855.0,630.1 855.3,631.2 855.6,632.8 856.5,631.5 857.3,630.8 858.9,629.8 860.5,630.4 861.0,628.9 861.6,629.1 862.1,627.7 862.6,627.0 863.2,626.2 863.7,624.7 864.3,623.9 864.8,622.3 865.3,621.7 866.1,622.4 866.9,623.7 867.2,624.9 867.4,626.1 867.7,626.9 867.9,627.5 868.2,628.7 869.2,629.7 870.2,629.8 871.2,629.1 872.2,628.7 873.8,629.1 874.3,630.5 874.9,632.1 875.4,632.8 875.8,632.0 876.2,630.7 876.6,629.9 877.0,628.7 877.4,627.3 877.8,626.6 878.2,626.2 878.6,624.7 879.0,623.7 879.4,622.0 879.9,622.1 880.3,620.7 880.8,619.2 881.3,618.0 881.9,617.7 882.2,616.8 882.5,616.0 882.8,614.1 883.2,613.5 883.5,612.6 883.9,611.5 884.3,610.1 884.7,609.8 885.1,608.6 885.6,607.2 886.2,606.8 886.7,605.6 887.2,604.5 887.8,603.6 888.3,602.5 888.8,601.1 889.3,600.5 889.7,601.9 890.0,601.8 890.4,603.3 890.7,604.5 891.5,605.0 892.4,606.6 892.8,607.0 893.2,607.9 893.6,609.6 893.8,610.6 894.0,611.0 894.2,612.1 894.4,613.5 894.6,614.9 894.8,615.6 895.3,614.2 895.9,613.8 896.4,612.6 897.6,611.6 897.8,612.7 898.1,614.2 898.3,615.1 898.6,616.3 898.8,616.6 899.1,617.5 899.5,619.2 899.8,619.4 900.1,620.4 900.4,621.7 902.0,620.7 902.3,619.6 902.6,618.0 902.9,618.0 903.2,616.6 903.4,615.1 903.7,614.8 903.9,613.0 904.1,612.5 904.3,611.3 904.5,610.6 904.9,610.2 905.3,608.3 905.7,607.4 906.1,606.6 906.9,607.3 907.7,608.6 908.9,607.6 909.2,606.0 909.5,605.8 909.8,604.3 910.1,603.5 910.5,602.2 910.9,601.3 911.3,600.3 911.7,599.5 912.3,600.9 912.9,601.5 913.1,602.1 913.3,603.0 913.5,604.3 913.7,605.6 913.9,606.3 914.1,607.6 914.7,606.0 915.3,605.6 916.6,604.5 917.1,605.4 917.6,607.2 918.2,607.6 918.6,609.1 919.0,609.5 919.4,610.5 919.8,611.6 920.4,610.1 921.0,609.6 922.2,608.6 923.0,607.8 923.8,606.6 924.6,605.9 925.4,604.5 927.0,603.5 928.7,604.5 930.3,604.1 930.8,604.9 931.4,606.6 931.9,607.6 932.3,608.0 932.7,609.3 933.1,610.3 933.5,611.6 933.9,613.0 934.3,613.8 934.7,614.6 935.1,615.6 935.7,614.5 936.2,613.7 936.7,612.6 937.1,613.6 937.4,614.3 937.7,616.1 938.0,617.1 938.3,617.7 938.7,618.5 939.1,619.5 939.6,621.3 940.0,621.7 940.5,622.0 941.0,624.1 941.6,624.7 942.4,623.2 943.2,622.7 944.8,621.7 946.4,620.7 948.0,620.3 949.6,621.1 951.3,620.3 952.9,619.7 954.5,618.7 955.1,617.4 955.7,617.0 956.3,618.1 956.9,619.7 958.5,619.1 960.1,619.7 961.1,619.7 962.1,619.5 962.7,619.7 962.8,620.4 962.8,621.7 962.8,622.7 962.8,624.3 962.8,624.8 962.8,625.4 962.8,626.9 962.8,627.8 962.8,628.5 962.8,630.1 962.8,630.1 962.8,632.5 962.9,633.3 962.9,633.2 962.9,635.1 962.9,635.3 962.9,637.5 962.9,637.8 962.9,639.2 962.9,639.5 962.9,641.1 962.9,641.2 962.9,643.3 962.9,643.5 962.9,644.9 964.2,644.5 965.0,643.2 965.8,642.9 966.6,641.8 967.4,640.8 969.0,639.8 970.6,639.2 971.4,640.0 972.2,640.8 973.8,641.9 974.6,642.2 975.5,643.9 976.0,644.4 976.5,645.7 977.1,646.9 978.7,647.9 979.5,647.0 980.3,645.9 980.8,645.2 981.4,643.4 981.9,642.9 982.7,642.3 983.5,640.8 984.7,641.9 985.5,640.7 986.3,639.8 986.9,639.5 987.4,637.6 988.0,636.8 988.5,635.7 989.0,634.6 989.6,633.8 990.1,632.2 990.6,632.4 991.2,630.8 992.0,629.9 992.8,628.7 994.4,627.7 996.0,628.7 997.6,627.7 998.6,628.6 999.7,628.7 1001.3,629.8 1001.8,628.3 1002.3,627.7 1002.9,626.7 1003.7,625.4 1004.5,624.7 1005.3,623.4 1006.1,622.7 1007.7,621.7 1009.3,622.3 1010.1,621.3 1011.0,620.7 1012.6,621.7 1014.2,622.7 1015.0,623.9 1015.8,624.7 1016.6,623.6 1017.4,622.7 1019.0,621.7 1020.6,622.3 1021.4,623.3 1022.2,623.7 1023.1,625.4 1023.9,625.7 1024.7,626.9 1025.5,627.7 1026.0,627.1 1026.5,626.4 1027.1,624.7 1027.9,624.6 1028.7,623.1 1029.5,623.7 1030.3,624.7 1031.1,626.2 1031.9,626.7 1032.7,628.0 1033.5,628.7 1034.3,629.1 1035.2,630.8 1035.7,632.2 1036.2,633.3 1036.8,633.8 1037.3,635.4 1037.8,635.6 1038.4,636.8 1040.0,637.8 1040.8,639.1 1041.6,639.8 1042.1,641.3 1042.7,641.8 1043.2,642.9 1043.5,644.1 1043.8,644.7 1044.1,646.5 1044.4,646.9 1044.7,647.9 1045.0,648.6 1045.2,649.9 1045.5,650.8 1045.8,652.1 1046.0,652.9" fill="none" stroke="#ed7d31" stroke-width="1.9" stroke-linejoin="round" stroke-linecap="round" /><rect x="730.5" y="770" width="14.2" height="4.2" fill="#a5a5a5"/><text x="746.0" y="774.8" font-size="8" text-anchor="start" fill="#595959" font-family="&quot;Liberation Serif&quot;,&quot;Noto Serif CJK SC&quot;,serif" textLength="227.0" lengthAdjust="spacing" >期货收盘价(5月交割连续):纯碱:-期货收盘价(9月交割连续):纯碱</text><line x1="730.5" x2="744.7" y1="785.7" y2="785.7" stroke="#5b9bd5" stroke-width="1.8"/><text x="746.0" y="788.6" font-size="8" text-anchor="start" fill="#595959" font-family="&quot;Liberation Serif&quot;,&quot;Noto Serif CJK SC&quot;,serif" textLength="110.0" lengthAdjust="spacing" >期货收盘价(5月交割连续):纯碱</text><line x1="730.5" x2="744.7" y1="800.2" y2="800.2" stroke="#ed7d31" stroke-width="1.8"/><text x="746.0" y="803.1" font-size="8" text-anchor="start" fill="#595959" font-family="&quot;Liberation Serif&quot;,&quot;Noto Serif CJK SC&quot;,serif" textLength="110.0" lengthAdjust="spacing" >期货收盘价(9月交割连续):纯碱</text></svg>
<svg class="chart" style="left:100px;top:900px" width="480" height="280" viewBox="100 900 480 280"><line x1="150.0" x2="535.1" y1="1101.3" y2="1101.3" stroke="#d9d9d9" stroke-width="1"/><line x1="150.0" x2="535.1" y1="1068.9" y2="1068.9" stroke="#d9d9d9" stroke-width="1"/><line x1="150.0" x2="535.1" y1="1036.5" y2="1036.5" stroke="#d9d9d9" stroke-width="1"/><line x1="150.0" x2="535.1" y1="1004.1" y2="1004.1" stroke="#d9d9d9" stroke-width="1"/><line x1="150.0" x2="535.1" y1="971.7" y2="971.7" stroke="#d9d9d9" stroke-width="1"/><line x1="150.0" x2="535.1" y1="939.3" y2="939.3" stroke="#d9d9d9" stroke-width="1"/><text x="138.0" y="1104.1" font-size="8.3" text-anchor="end" fill="#595959" font-family="&quot;Liberation Sans&quot;,&quot;Noto Sans CJK SC&quot;,sans-serif" >6500</text><text x="138.0" y="1071.7" font-size="8.3" text-anchor="end" fill="#595959" font-family="&quot;Liberation Sans&quot;,&quot;Noto Sans CJK SC&quot;,sans-serif" >7000</text><text x="138.0" y="1039.3" font-size="8.3" text-anchor="end" fill="#595959" font-family="&quot;Liberation Sans&quot;,&quot;Noto Sans CJK SC&quot;,sans-serif" >7500</text><text x="138.0" y="1006.9" font-size="8.3" text-anchor="end" fill="#595959" font-family="&quot;Liberation Sans&quot;,&quot;Noto Sans CJK SC&quot;,sans-serif" >8000</text><text x="138.0" y="974.5" font-size="8.3" text-anchor="end" fill="#595959" font-family="&quot;Liberation Sans&quot;,&quot;Noto Sans CJK SC&quot;,sans-serif" >8500</text><text x="138.0" y="942.1" font-size="8.3" text-anchor="end" fill="#595959" font-family="&quot;Liberation Sans&quot;,&quot;Noto Sans CJK SC&quot;,sans-serif" >9000</text><text x="541.8" y="1104.1" font-size="8.3" text-anchor="start" fill="#595959" font-family="&quot;Liberation Sans&quot;,&quot;Noto Sans CJK SC&quot;,sans-serif" >-10</text><text x="541.8" y="1077.1" font-size="8.3" text-anchor="start" fill="#595959" font-family="&quot;Liberation Sans&quot;,&quot;Noto Sans CJK SC&quot;,sans-serif" >-5</text><text x="541.8" y="1050.1" font-size="8.3" text-anchor="start" fill="#595959" font-family="&quot;Liberation Sans&quot;,&quot;Noto Sans CJK SC&quot;,sans-serif" >0</text><text x="541.8" y="1023.1" font-size="8.3" text-anchor="start" fill="#595959" font-family="&quot;Liberation Sans&quot;,&quot;Noto Sans CJK SC&quot;,sans-serif" >5</text><text x="541.8" y="996.1" font-size="8.3" text-anchor="start" fill="#595959" font-family="&quot;Liberation Sans&quot;,&quot;Noto Sans CJK SC&quot;,sans-serif" >10</text><text x="541.8" y="969.1" font-size="8.3" text-anchor="start" fill="#595959" font-family="&quot;Liberation Sans&quot;,&quot;Noto Sans CJK SC&quot;,sans-serif" >15</text><text x="541.8" y="942.1" font-size="8.3" text-anchor="start" fill="#595959" font-family="&quot;Liberation Sans&quot;,&quot;Noto Sans CJK SC&quot;,sans-serif" >20</text><line x1="150.0" x2="150.0" y1="1101.3" y2="1104.3" stroke="#d9d9d9" stroke-width="1"/><line x1="166.4" x2="166.4" y1="1101.3" y2="1104.3" stroke="#d9d9d9" stroke-width="1"/><line x1="182.8" x2="182.8" y1="1101.3" y2="1104.3" stroke="#d9d9d9" stroke-width="1"/><line x1="199.2" x2="199.2" y1="1101.3" y2="1104.3" stroke="#d9d9d9" stroke-width="1"/><line x1="215.5" x2="215.5" y1="1101.3" y2="1104.3" stroke="#d9d9d9" stroke-width="1"/><line x1="231.9" x2="231.9" y1="1101.3" y2="1104.3" stroke="#d9d9d9" stroke-width="1"/><line x1="248.3" x2="248.3" y1="1101.3" y2="1104.3" stroke="#d9d9d9" stroke-width="1"/><line x1="264.7" x2="264.7" y1="1101.3" y2="1104.3" stroke="#d9d9d9" stroke-width="1"/><line x1="281.1" x2="281.1" y1="1101.3" y2="1104.3" stroke="#d9d9d9" stroke-width="1"/><line x1="297.5" x2="297.5" y1="1101.3" y2="1104.3" stroke="#d9d9d9" stroke-width="1"/><line x1="313.9" x2="313.9" y1="1101.3" y2="1104.3" stroke="#d9d9d9" stroke-width="1"/><line x1="330.3" x2="330.3" y1="1101.3" y2="1104.3" stroke="#d9d9d9" stroke-width="1"/><line x1="346.6" x2="346.6" y1="1101.3" y2="1104.3" stroke="#d9d9d9" stroke-width="1"/><line x1="363.0" x2="363.0" y1="1101.3" y2="1104.3" stroke="#d9d9d9" stroke-width="1"/><line x1="379.4" x2="379.4" y1="1101.3" y2="1104.3" stroke="#d9d9d9" stroke-width="1"/><line x1="395.8" x2="395.8" y1="1101.3" y2="1104.3" stroke="#d9d9d9" stroke-width="1"/><line x1="412.2" x2="412.2" y1="1101.3" y2="1104.3" stroke="#d9d9d9" stroke-width="1"/><line x1="428.6" x2="428.6" y1="1101.3" y2="1104.3" stroke="#d9d9d9" stroke-width="1"/><line x1="445.0" x2="445.0" y1="1101.3" y2="1104.3" stroke="#d9d9d9" stroke-width="1"/><line x1="461.4" x2="461.4" y1="1101.3" y2="1104.3" stroke="#d9d9d9" stroke-width="1"/><line x1="477.7" x2="477.7" y1="1101.3" y2="1104.3" stroke="#d9d9d9" stroke-width="1"/><line x1="494.1" x2="494.1" y1="1101.3" y2="1104.3" stroke="#d9d9d9" stroke-width="1"/><line x1="510.5" x2="510.5" y1="1101.3" y2="1104.3" stroke="#d9d9d9" stroke-width="1"/><line x1="526.9" x2="526.9" y1="1101.3" y2="1104.3" stroke="#d9d9d9" stroke-width="1"/><text transform="translate(151.4,1112.4) scale(1,1.03) rotate(-45)" font-size="8.6" text-anchor="end" fill="#484848" font-family="&quot;Liberation Sans&quot;,&quot;Noto Sans CJK SC&quot;,sans-serif" dy="2.9" textLength="35.0" lengthAdjust="spacing">2019-05</text><text transform="translate(167.8,1112.4) scale(1,1.03) rotate(-45)" font-size="8.6" text-anchor="end" fill="#484848" font-family="&quot;Liberation Sans&quot;,&quot;Noto Sans CJK SC&quot;,sans-serif" dy="2.9" textLength="35.0" lengthAdjust="spacing">2019-07</text><text transform="translate(184.2,1112.4) scale(1,1.03) rotate(-45)" font-size="8.6" text-anchor="end" fill="#484848" font-family="&quot;Liberation Sans&quot;,&quot;Noto Sans CJK SC&quot;,sans-serif" dy="2.9" textLength="35.0" lengthAdjust="spacing">2019-09</text><text transform="translate(200.6,1112.4) scale(1,1.03) rotate(-45)" font-size="8.6" text-anchor="end" fill="#484848" font-family="&quot;Liberation Sans&quot;,&quot;Noto Sans CJK SC&quot;,sans-serif" dy="2.9" textLength="35.0" lengthAdjust="spacing">2019-11</text><text transform="translate(216.9,1112.4) scale(1,1.03) rotate(-45)" font-size="8.6" text-anchor="end" fill="#484848" font-family="&quot;Liberation Sans&quot;,&quot;Noto Sans CJK SC&quot;,sans-serif" dy="2.9" textLength="35.0" lengthAdjust="spacing">2020-01</text><text transform="translate(233.3,1112.4) scale(1,1.03) rotate(-45)" font-size="8.6" text-anchor="end" fill="#484848" font-family="&quot;Liberation Sans&quot;,&quot;Noto Sans CJK SC&quot;,sans-serif" dy="2.9" textLength="35.0" lengthAdjust="spacing">2020-03</text><text transform="translate(249.7,1112.4) scale(1,1.03) rotate(-45)" font-size="8.6" text-anchor="end" fill="#484848" font-family="&quot;Liberation Sans&quot;,&quot;Noto Sans CJK SC&quot;,sans-serif" dy="2.9" textLength="35.0" lengthAdjust="spacing">2020-05</text><text transform="translate(266.1,1112.4) scale(1,1.03) rotate(-45)" font-size="8.6" text-anchor="end" fill="#484848" font-family="&quot;Liberation Sans&quot;,&quot;Noto Sans CJK SC&quot;,sans-serif" dy="2.9" textLength="35.0" lengthAdjust="spacing">2020-07</text><text transform="translate(282.5,1112.4) scale(1,1.03) rotate(-45)" font-size="8.6" text-anchor="end" fill="#484848" font-family="&quot;Liberation Sans&quot;,&quot;Noto Sans CJK SC&quot;,sans-serif" dy="2.9" textLength="35.0" lengthAdjust="spacing">2020-09</text><text transform="translate(298.9,1112.4) scale(1,1.03) rotate(-45)" font-size="8.6" text-anchor="end" fill="#484848" font-family="&quot;Liberation Sans&quot;,&quot;Noto Sans CJK SC&quot;,sans-serif" dy="2.9" textLength="35.0" lengthAdjust="spacing">2020-11</text><text transform="translate(315.3,1112.4) scale(1,1.03) rotate(-45)" font-size="8.6" text-anchor="end" fill="#484848" font-family="&quot;Liberation Sans&quot;,&quot;Noto Sans CJK SC&quot;,sans-serif" dy="2.9" textLength="35.0" lengthAdjust="spacing">2021-01</text><text transform="translate(331.7,1112.4) scale(1,1.03) rotate(-45)" font-size="8.6" text-anchor="end" fill="#484848" font-family="&quot;Liberation Sans&quot;,&quot;Noto Sans CJK SC&quot;,sans-serif" dy="2.9" textLength="35.0" lengthAdjust="spacing">2021-03</text><text transform="translate(348.0,1112.4) scale(1,1.03) rotate(-45)" font-size="8.6" text-anchor="end" fill="#484848" font-family="&quot;Liberation Sans&quot;,&quot;Noto Sans CJK SC&quot;,sans-serif" dy="2.9" textLength="35.0" lengthAdjust="spacing">2021-05</text><text transform="translate(364.4,1112.4) scale(1,1.03) rotate(-45)" font-size="8.6" text-anchor="end" fill="#484848" font-family="&quot;Liberation Sans&quot;,&quot;Noto Sans CJK SC&quot;,sans-serif" dy="2.9" textLength="35.0" lengthAdjust="spacing">2021-07</text><text transform="translate(380.8,1112.4) scale(1,1.03) rotate(-45)" font-size="8.6" text-anchor="end" fill="#484848" font-family="&quot;Liberation Sans&quot;,&quot;Noto Sans CJK SC&quot;,sans-serif" dy="2.9" textLength="35.0" lengthAdjust="spacing">2021-09</text><text transform="translate(397.2,1112.4) scale(1,1.03) rotate(-45)" font-size="8.6" text-anchor="end" fill="#484848" font-family="&quot;Liberation Sans&quot;,&quot;Noto Sans CJK SC&quot;,sans-serif" dy="2.9" textLength="35.0" lengthAdjust="spacing">2021-11</text><text transform="translate(413.6,1112.4) scale(1,1.03) rotate(-45)" font-size="8.6" text-anchor="end" fill="#484848" font-family="&quot;Liberation Sans&quot;,&quot;Noto Sans CJK SC&quot;,sans-serif" dy="2.9" textLength="35.0" lengthAdjust="spacing">2022-01</text><text transform="translate(430.0,1112.4) scale(1,1.03) rotate(-45)" font-size="8.6" text-anchor="end" fill="#484848" font-family="&quot;Liberation Sans&quot;,&quot;Noto Sans CJK SC&quot;,sans-serif" dy="2.9" textLength="35.0" lengthAdjust="spacing">2022-03</text><text transform="translate(446.4,1112.4) scale(1,1.03) rotate(-45)" font-size="8.6" text-anchor="end" fill="#484848" font-family="&quot;Liberation Sans&quot;,&quot;Noto Sans CJK SC&quot;,sans-serif" dy="2.9" textLength="35.0" lengthAdjust="spacing">2022-05</text><text transform="translate(462.8,1112.4) scale(1,1.03) rotate(-45)" font-size="8.6" text-anchor="end" fill="#484848" font-family="&quot;Liberation Sans&quot;,&quot;Noto Sans CJK SC&quot;,sans-serif" dy="2.9" textLength="35.0" lengthAdjust="spacing">2022-07</text><text transform="translate(479.1,1112.4) scale(1,1.03) rotate(-45)" font-size="8.6" text-anchor="end" fill="#484848" font-family="&quot;Liberation Sans&quot;,&quot;Noto Sans CJK SC&quot;,sans-serif" dy="2.9" textLength="35.0" lengthAdjust="spacing">2022-09</text><text transform="translate(495.5,1112.4) scale(1,1.03) rotate(-45)" font-size="8.6" text-anchor="end" fill="#484848" font-family="&quot;Liberation Sans&quot;,&quot;Noto Sans CJK SC&quot;,sans-serif" dy="2.9" textLength="35.0" lengthAdjust="spacing">2022-11</text><text transform="translate(511.9,1112.4) scale(1,1.03) rotate(-45)" font-size="8.6" text-anchor="end" fill="#484848" font-family="&quot;Liberation Sans&quot;,&quot;Noto Sans CJK SC&quot;,sans-serif" dy="2.9" textLength="35.0" lengthAdjust="spacing">2023-01</text><text transform="translate(528.3,1112.4) scale(1,1.03) rotate(-45)" font-size="8.6" text-anchor="end" fill="#484848" font-family="&quot;Liberation Sans&quot;,&quot;Noto Sans CJK SC&quot;,sans-serif" dy="2.9" textLength="35.0" lengthAdjust="spacing">2023-03</text><text x="340.0" y="921.0" font-size="13.1" text-anchor="middle" fill="#262626" font-family="&quot;Liberation Serif&quot;,&quot;Noto Serif CJK SC&quot;,serif" textLength="52.4" lengthAdjust="spacing" text-decoration="underline" font-weight="500">玻璃产量</text><g stroke="#a6c9ea" stroke-width="1"><line x1="150.0" x2="150.0" y1="1012.9" y2="1101.3"/><line x1="158.2" x2="158.2" y1="989.8" y2="1101.3"/><line x1="166.4" x2="166.4" y1="1017.0" y2="1101.3"/><line x1="174.6" x2="174.6" y1="1010.5" y2="1101.3"/><line x1="182.8" x2="182.8" y1="1003.3" y2="1101.3"/><line x1="191.0" x2="191.0" y1="1010.9" y2="1101.3"/><line x1="199.2" x2="199.2" y1="1023.0" y2="1101.3"/><line x1="207.4" x2="207.4" y1="996.8" y2="1101.3"/><line x1="231.9" x2="231.9" y1="1014.6" y2="1101.3"/><line x1="240.1" x2="240.1" y1="1038.2" y2="1101.3"/><line x1="248.3" x2="248.3" y1="1014.0" y2="1101.3"/><line x1="256.5" x2="256.5" y1="1009.3" y2="1101.3"/><line x1="264.7" x2="264.7" y1="1014.6" y2="1101.3"/><line x1="272.9" x2="272.9" y1="994.8" y2="1101.3"/><line x1="281.1" x2="281.1" y1="995.2" y2="1101.3"/><line x1="289.3" x2="289.3" y1="997.8" y2="1101.3"/><line x1="297.5" x2="297.5" y1="981.1" y2="1101.3"/><line x1="305.7" x2="305.7" y1="979.7" y2="1101.3"/><line x1="330.3" x2="330.3" y1="970.6" y2="1101.3"/><line x1="338.5" x2="338.5" y1="948.4" y2="1101.3"/><line x1="346.6" x2="346.6" y1="952.0" y2="1101.3"/><line x1="354.8" x2="354.8" y1="958.1" y2="1101.3"/><line x1="363.0" x2="363.0" y1="949.8" y2="1101.3"/><line x1="371.2" x2="371.2" y1="947.0" y2="1101.3"/><line x1="379.4" x2="379.4" y1="976.6" y2="1101.3"/><line x1="387.6" x2="387.6" y1="968.6" y2="1101.3"/><line x1="395.8" x2="395.8" y1="980.7" y2="1101.3"/><line x1="404.0" x2="404.0" y1="965.6" y2="1101.3"/><line x1="428.6" x2="428.6" y1="957.5" y2="1101.3"/><line x1="436.8" x2="436.8" y1="968.2" y2="1101.3"/><line x1="445.0" x2="445.0" y1="951.4" y2="1101.3"/><line x1="453.2" x2="453.2" y1="956.5" y2="1101.3"/><line x1="461.4" x2="461.4" y1="958.5" y2="1101.3"/><line x1="469.6" x2="469.6" y1="953.4" y2="1101.3"/><line x1="477.7" x2="477.7" y1="964.5" y2="1101.3"/><line x1="485.9" x2="485.9" y1="988.1" y2="1101.3"/><line x1="494.1" x2="494.1" y1="1010.5" y2="1101.3"/><line x1="502.3" x2="502.3" y1="998.4" y2="1101.3"/><line x1="526.9" x2="526.9" y1="1003.3" y2="1101.3"/><line x1="535.1" x2="535.1" y1="1012.3" y2="1101.3"/></g><polyline points="150.0,1016.0 158.2,994.4 166.4,1017.4 174.6,1019.6 182.8,1008.9 191.0,1025.5 199.2,1007.5 207.4,1008.5 231.9,1044.8 240.1,1083.9 248.3,1050.3 256.5,1068.4 264.7,1044.2 272.9,1030.5 281.1,1038.8 289.3,1038.2 297.5,1007.5 305.7,1034.1 330.3,994.8 338.5,960.9 346.6,977.7 354.8,991.2 363.0,980.7 371.2,995.8 379.4,1023.4 387.6,1027.1 395.8,1049.7 404.0,1030.1 428.6,1035.1 436.8,1054.9 445.0,1048.6 453.2,1047.8 461.4,1052.3 469.6,1052.3 477.7,1039.8 485.9,1065.4 494.1,1077.9 502.3,1081.5 526.9,1090.0 535.1,1088.2" fill="none" stroke="#ed7d31" stroke-width="2.1" stroke-linejoin="round" stroke-linecap="round" /><rect x="215.4" y="1154.6" width="16.8" height="3.7" fill="#5b9bd5"/><text x="234.7" y="1159.8" font-size="9.3" text-anchor="start" fill="#595959" font-family="&quot;Liberation Serif&quot;,&quot;Noto Serif CJK SC&quot;,serif" textLength="93.0" lengthAdjust="spacing" >产量:平板玻璃:当月值</text><line x1="346.1" x2="364.3" y1="1156.3" y2="1156.3" stroke="#ed7d31" stroke-width="2"/><text x="365.9" y="1159.8" font-size="9.3" text-anchor="start" fill="#595959" font-family="&quot;Liberation Serif&quot;,&quot;Noto Serif CJK SC&quot;,serif" textLength="102.3" lengthAdjust="spacing" >产量:平板玻璃:当月同比</text></svg>
<svg class="chart" style="left:610px;top:900px" width="490" height="280" viewBox="610 900 490 280"><line x1="656.3" x2="1040.6" y1="1061.0" y2="1061.0" stroke="#d9d9d9" stroke-width="1"/><line x1="656.3" x2="1040.6" y1="1045.3" y2="1045.3" stroke="#d9d9d9" stroke-width="1"/><line x1="656.3" x2="1040.6" y1="1029.7" y2="1029.7" stroke="#d9d9d9" stroke-width="1"/><line x1="656.3" x2="1040.6" y1="1014.1" y2="1014.1" stroke="#d9d9d9" stroke-width="1"/><line x1="656.3" x2="1040.6" y1="998.4" y2="998.4" stroke="#d9d9d9" stroke-width="1"/><line x1="656.3" x2="1040.6" y1="982.8" y2="982.8" stroke="#d9d9d9" stroke-width="1"/><line x1="656.3" x2="1040.6" y1="967.2" y2="967.2" stroke="#d9d9d9" stroke-width="1"/><line x1="656.3" x2="1040.6" y1="951.5" y2="951.5" stroke="#d9d9d9" stroke-width="1"/><line x1="656.3" x2="1040.6" y1="935.9" y2="935.9" stroke="#d9d9d9" stroke-width="1"/><text x="645.9" y="1063.8" font-size="8.4" text-anchor="end" fill="#595959" font-family="&quot;Liberation Serif&quot;,&quot;Noto Serif CJK SC&quot;,serif" textLength="4.2" lengthAdjust="spacing" >0</text><text x="645.9" y="1048.2" font-size="8.4" text-anchor="end" fill="#595959" font-family="&quot;Liberation Serif&quot;,&quot;Noto Serif CJK SC&quot;,serif" textLength="12.6" lengthAdjust="spacing" >500</text><text x="645.9" y="1032.5" font-size="8.4" text-anchor="end" fill="#595959" font-family="&quot;Liberation Serif&quot;,&quot;Noto Serif CJK SC&quot;,serif" textLength="16.8" lengthAdjust="spacing" >1000</text><text x="645.9" y="1016.9" font-size="8.4" text-anchor="end" fill="#595959" font-family="&quot;Liberation Serif&quot;,&quot;Noto Serif CJK SC&quot;,serif" textLength="16.8" lengthAdjust="spacing" >1500</text><text x="645.9" y="1001.3" font-size="8.4" text-anchor="end" fill="#595959" font-family="&quot;Liberation Serif&quot;,&quot;Noto Serif CJK SC&quot;,serif" textLength="16.8" lengthAdjust="spacing" >2000</text><text x="645.9" y="985.6" font-size="8.4" text-anchor="end" fill="#595959" font-family="&quot;Liberation Serif&quot;,&quot;Noto Serif CJK SC&quot;,serif" textLength="16.8" lengthAdjust="spacing" >2500</text><text x="645.9" y="970.0" font-size="8.4" text-anchor="end" fill="#595959" font-family="&quot;Liberation Serif&quot;,&quot;Noto Serif CJK SC&quot;,serif" textLength="16.8" lengthAdjust="spacing" >3000</text><text x="645.9" y="954.4" font-size="8.4" text-anchor="end" fill="#595959" font-family="&quot;Liberation Serif&quot;,&quot;Noto Serif CJK SC&quot;,serif" textLength="16.8" lengthAdjust="spacing" >3500</text><text x="645.9" y="938.8" font-size="8.4" text-anchor="end" fill="#595959" font-family="&quot;Liberation Serif&quot;,&quot;Noto Serif CJK SC&quot;,serif" textLength="16.8" lengthAdjust="spacing" >4000</text><text x="1047.3" y="1063.8" font-size="8.4" text-anchor="start" fill="#595959" font-family="&quot;Liberation Serif&quot;,&quot;Noto Serif CJK SC&quot;,serif" >-1000</text><text x="1047.3" y="1043.0" font-size="8.4" text-anchor="start" fill="#595959" font-family="&quot;Liberation Serif&quot;,&quot;Noto Serif CJK SC&quot;,serif" >-500</text><text x="1047.3" y="1022.1" font-size="8.4" text-anchor="start" fill="#595959" font-family="&quot;Liberation Serif&quot;,&quot;Noto Serif CJK SC&quot;,serif" >0</text><text x="1047.3" y="1001.3" font-size="8.4" text-anchor="start" fill="#595959" font-family="&quot;Liberation Serif&quot;,&quot;Noto Serif CJK SC&quot;,serif" >500</text><text x="1047.3" y="980.4" font-size="8.4" text-anchor="start" fill="#595959" font-family="&quot;Liberation Serif&quot;,&quot;Noto Serif CJK SC&quot;,serif" >1000</text><text x="1047.3" y="959.6" font-size="8.4" text-anchor="start" fill="#595959" font-family="&quot;Liberation Serif&quot;,&quot;Noto Serif CJK SC&quot;,serif" >1500</text><text x="1047.3" y="938.8" font-size="8.4" text-anchor="start" fill="#595959" font-family="&quot;Liberation Serif&quot;,&quot;Noto Serif CJK SC&quot;,serif" >2000</text><line x1="656.3" x2="656.3" y1="1061.0" y2="1064.0" stroke="#d9d9d9" stroke-width="1"/><line x1="666.4" x2="666.4" y1="1061.0" y2="1064.0" stroke="#d9d9d9" stroke-width="1"/><line x1="676.5" x2="676.5" y1="1061.0" y2="1064.0" stroke="#d9d9d9" stroke-width="1"/><line x1="686.6" x2="686.6" y1="1061.0" y2="1064.0" stroke="#d9d9d9" stroke-width="1"/><line x1="696.8" x2="696.8" y1="1061.0" y2="1064.0" stroke="#d9d9d9" stroke-width="1"/><line x1="706.9" x2="706.9" y1="1061.0" y2="1064.0" stroke="#d9d9d9" stroke-width="1"/><line x1="717.0" x2="717.0" y1="1061.0" y2="1064.0" stroke="#d9d9d9" stroke-width="1"/><line x1="727.1" x2="727.1" y1="1061.0" y2="1064.0" stroke="#d9d9d9" stroke-width="1"/><line x1="737.2" x2="737.2" y1="1061.0" y2="1064.0" stroke="#d9d9d9" stroke-width="1"/><line x1="747.3" x2="747.3" y1="1061.0" y2="1064.0" stroke="#d9d9d9" stroke-width="1"/><line x1="757.4" x2="757.4" y1="1061.0" y2="1064.0" stroke="#d9d9d9" stroke-width="1"/><line x1="767.5" x2="767.5" y1="1061.0" y2="1064.0" stroke="#d9d9d9" stroke-width="1"/><line x1="777.7" x2="777.7" y1="1061.0" y2="1064.0" stroke="#d9d9d9" stroke-width="1"/><line x1="787.8" x2="787.8" y1="1061.0" y2="1064.0" stroke="#d9d9d9" stroke-width="1"/><line x1="797.9" x2="797.9" y1="1061.0" y2="1064.0" stroke="#d9d9d9" stroke-width="1"/><line x1="808.0" x2="808.0" y1="1061.0" y2="1064.0" stroke="#d9d9d9" stroke-width="1"/><line x1="818.1" x2="818.1" y1="1061.0" y2="1064.0" stroke="#d9d9d9" stroke-width="1"/><line x1="828.2" x2="828.2" y1="1061.0" y2="1064.0" stroke="#d9d9d9" stroke-width="1"/><line x1="838.3" x2="838.3" y1="1061.0" y2="1064.0" stroke="#d9d9d9" stroke-width="1"/><line x1="848.4" x2="848.4" y1="1061.0" y2="1064.0" stroke="#d9d9d9" stroke-width="1"/><line x1="858.6" x2="858.6" y1="1061.0" y2="1064.0" stroke="#d9d9d9" stroke-width="1"/><line x1="868.7" x2="868.7" y1="1061.0" y2="1064.0" stroke="#d9d9d9" stroke-width="1"/><line x1="878.8" x2="878.8" y1="1061.0" y2="1064.0" stroke="#d9d9d9" stroke-width="1"/><line x1="888.9" x2="888.9" y1="1061.0" y2="1064.0" stroke="#d9d9d9" stroke-width="1"/><line x1="899.0" x2="899.0" y1="1061.0" y2="1064.0" stroke="#d9d9d9" stroke-width="1"/><line x1="909.1" x2="909.1" y1="1061.0" y2="1064.0" stroke="#d9d9d9" stroke-width="1"/><line x1="919.2" x2="919.2" y1="1061.0" y2="1064.0" stroke="#d9d9d9" stroke-width="1"/><line x1="929.4" x2="929.4" y1="1061.0" y2="1064.0" stroke="#d9d9d9" stroke-width="1"/><line x1="939.5" x2="939.5" y1="1061.0" y2="1064.0" stroke="#d9d9d9" stroke-width="1"/><line x1="949.6" x2="949.6" y1="1061.0" y2="1064.0" stroke="#d9d9d9" stroke-width="1"/><line x1="959.7" x2="959.7" y1="1061.0" y2="1064.0" stroke="#d9d9d9" stroke-width="1"/><line x1="969.8" x2="969.8" y1="1061.0" y2="1064.0" stroke="#d9d9d9" stroke-width="1"/><line x1="979.9" x2="979.9" y1="1061.0" y2="1064.0" stroke="#d9d9d9" stroke-width="1"/><line x1="990.0" x2="990.0" y1="1061.0" y2="1064.0" stroke="#d9d9d9" stroke-width="1"/><line x1="1000.1" x2="1000.1" y1="1061.0" y2="1064.0" stroke="#d9d9d9" stroke-width="1"/><line x1="1010.3" x2="1010.3" y1="1061.0" y2="1064.0" stroke="#d9d9d9" stroke-width="1"/><line x1="1020.4" x2="1020.4" y1="1061.0" y2="1064.0" stroke="#d9d9d9" stroke-width="1"/><line x1="1030.5" x2="1030.5" y1="1061.0" y2="1064.0" stroke="#d9d9d9" stroke-width="1"/><text transform="translate(657.0,1066.5) scale(1,1) rotate(-90)" font-size="8.7" text-anchor="end" fill="#484848" font-family="&quot;Liberation Serif&quot;,&quot;Noto Serif CJK SC&quot;,serif" dy="3.0" textLength="46.8" lengthAdjust="spacing">2020-03-20</text><text transform="translate(667.1,1066.5) scale(1,1) rotate(-90)" font-size="8.7" text-anchor="end" fill="#484848" font-family="&quot;Liberation Serif&quot;,&quot;Noto Serif CJK SC&quot;,serif" dy="3.0" textLength="46.8" lengthAdjust="spacing">2020-04-20</text><text transform="translate(677.2,1066.5) scale(1,1) rotate(-90)" font-size="8.7" text-anchor="end" fill="#484848" font-family="&quot;Liberation Serif&quot;,&quot;Noto Serif CJK SC&quot;,serif" dy="3.0" textLength="46.8" lengthAdjust="spacing">2020-05-20</text><text transform="translate(687.3,1066.5) scale(1,1) rotate(-90)" font-size="8.7" text-anchor="end" fill="#484848" font-family="&quot;Liberation Serif&quot;,&quot;Noto Serif CJK SC&quot;,serif" dy="3.0" textLength="46.8" lengthAdjust="spacing">2020-06-20</text><text transform="translate(697.5,1066.5) scale(1,1) rotate(-90)" font-size="8.7" text-anchor="end" fill="#484848" font-family="&quot;Liberation Serif&quot;,&quot;Noto Serif CJK SC&quot;,serif" dy="3.0" textLength="46.8" lengthAdjust="spacing">2020-07-20</text><text transform="translate(707.6,1066.5) scale(1,1) rotate(-90)" font-size="8.7" text-anchor="end" fill="#484848" font-family="&quot;Liberation Serif&quot;,&quot;Noto Serif CJK SC&quot;,serif" dy="3.0" textLength="46.8" lengthAdjust="spacing">2020-08-20</text><text transform="translate(717.7,1066.5) scale(1,1) rotate(-90)" font-size="8.7" text-anchor="end" fill="#484848" font-family="&quot;Liberation Serif&quot;,&quot;Noto Serif CJK SC&quot;,serif" dy="3.0" textLength="46.8" lengthAdjust="spacing">2020-09-20</text><text transform="translate(727.8,1066.5) scale(1,1) rotate(-90)" font-size="8.7" text-anchor="end" fill="#484848" font-family="&quot;Liberation Serif&quot;,&quot;Noto Serif CJK SC&quot;,serif" dy="3.0" textLength="46.8" lengthAdjust="spacing">2020-10-20</text><text transform="translate(737.9,1066.5) scale(1,1) rotate(-90)" font-size="8.7" text-anchor="end" fill="#484848" font-family="&quot;Liberation Serif&quot;,&quot;Noto Serif CJK SC&quot;,serif" dy="3.0" textLength="46.8" lengthAdjust="spacing">2020-11-20</text><text transform="translate(748.0,1066.5) scale(1,1) rotate(-90)" font-size="8.7" text-anchor="end" fill="#484848" font-family="&quot;Liberation Serif&quot;,&quot;Noto Serif CJK SC&quot;,serif" dy="3.0" textLength="46.8" lengthAdjust="spacing">2020-12-20</text><text transform="translate(758.1,1066.5) scale(1,1) rotate(-90)" font-size="8.7" text-anchor="end" fill="#484848" font-family="&quot;Liberation Serif&quot;,&quot;Noto Serif CJK SC&quot;,serif" dy="3.0" textLength="46.8" lengthAdjust="spacing">2021-01-20</text><text transform="translate(768.2,1066.5) scale(1,1) rotate(-90)" font-size="8.7" text-anchor="end" fill="#484848" font-family="&quot;Liberation Serif&quot;,&quot;Noto Serif CJK SC&quot;,serif" dy="3.0" textLength="46.8" lengthAdjust="spacing">2021-02-20</text><text transform="translate(778.4,1066.5) scale(1,1) rotate(-90)" font-size="8.7" text-anchor="end" fill="#484848" font-family="&quot;Liberation Serif&quot;,&quot;Noto Serif CJK SC&quot;,serif" dy="3.0" textLength="46.8" lengthAdjust="spacing">2021-03-20</text><text transform="translate(788.5,1066.5) scale(1,1) rotate(-90)" font-size="8.7" text-anchor="end" fill="#484848" font-family="&quot;Liberation Serif&quot;,&quot;Noto Serif CJK SC&quot;,serif" dy="3.0" textLength="46.8" lengthAdjust="spacing">2021-04-20</text><text transform="translate(798.6,1066.5) scale(1,1) rotate(-90)" font-size="8.7" text-anchor="end" fill="#484848" font-family="&quot;Liberation Serif&quot;,&quot;Noto Serif CJK SC&quot;,serif" dy="3.0" textLength="46.8" lengthAdjust="spacing">2021-05-20</text><text transform="translate(808.7,1066.5) scale(1,1) rotate(-90)" font-size="8.7" text-anchor="end" fill="#484848" font-family="&quot;Liberation Serif&quot;,&quot;Noto Serif CJK SC&quot;,serif" dy="3.0" textLength="46.8" lengthAdjust="spacing">2021-06-20</text><text transform="translate(818.8,1066.5) scale(1,1) rotate(-90)" font-size="8.7" text-anchor="end" fill="#484848" font-family="&quot;Liberation Serif&quot;,&quot;Noto Serif CJK SC&quot;,serif" dy="3.0" textLength="46.8" lengthAdjust="spacing">2021-07-20</text><text transform="translate(828.9,1066.5) scale(1,1) rotate(-90)" font-size="8.7" text-anchor="end" fill="#484848" font-family="&quot;Liberation Serif&quot;,&quot;Noto Serif CJK SC&quot;,serif" dy="3.0" textLength="46.8" lengthAdjust="spacing">2021-08-20</text><text transform="translate(839.0,1066.5) scale(1,1) rotate(-90)" font-size="8.7" text-anchor="end" fill="#484848" font-family="&quot;Liberation Serif&quot;,&quot;Noto Serif CJK SC&quot;,serif" dy="3.0" textLength="46.8" lengthAdjust="spacing">2021-09-20</text><text transform="translate(849.1,1066.5) scale(1,1) rotate(-90)" font-size="8.7" text-anchor="end" fill="#484848" font-family="&quot;Liberation Serif&quot;,&quot;Noto Serif CJK SC&quot;,serif" dy="3.0" textLength="46.8" lengthAdjust="spacing">2021-10-20</text><text transform="translate(859.3,1066.5) scale(1,1) rotate(-90)" font-size="8.7" text-anchor="end" fill="#484848" font-family="&quot;Liberation Serif&quot;,&quot;Noto Serif CJK SC&quot;,serif" dy="3.0" textLength="46.8" lengthAdjust="spacing">2021-11-20</text><text transform="translate(869.4,1066.5) scale(1,1) rotate(-90)" font-size="8.7" text-anchor="end" fill="#484848" font-family="&quot;Liberation Serif&quot;,&quot;Noto Serif CJK SC&quot;,serif" dy="3.0" textLength="46.8" lengthAdjust="spacing">2021-12-20</text><text transform="translate(879.5,1066.5) scale(1,1) rotate(-90)" font-size="8.7" text-anchor="end" fill="#484848" font-family="&quot;Liberation Serif&quot;,&quot;Noto Serif CJK SC&quot;,serif" dy="3.0" textLength="46.8" lengthAdjust="spacing">2022-01-20</text><text transform="translate(889.6,1066.5) scale(1,1) rotate(-90)" font-size="8.7" text-anchor="end" fill="#484848" font-family="&quot;Liberation Serif&quot;,&quot;Noto Serif CJK SC&quot;,serif" dy="3.0" textLength="46.8" lengthAdjust="spacing">2022-02-20</text><text transform="translate(899.7,1066.5) scale(1,1) rotate(-90)" font-size="8.7" text-anchor="end" fill="#484848" font-family="&quot;Liberation Serif&quot;,&quot;Noto Serif CJK SC&quot;,serif" dy="3.0" textLength="46.8" lengthAdjust="spacing">2022-03-20</text><text transform="translate(909.8,1066.5) scale(1,1) rotate(-90)" font-size="8.7" text-anchor="end" fill="#484848" font-family="&quot;Liberation Serif&quot;,&quot;Noto Serif CJK SC&quot;,serif" dy="3.0" textLength="46.8" lengthAdjust="spacing">2022-04-20</text><text transform="translate(919.9,1066.5) scale(1,1) rotate(-90)" font-size="8.7" text-anchor="end" fill="#484848" font-family="&quot;Liberation Serif&quot;,&quot;Noto Serif CJK SC&quot;,serif" dy="3.0" textLength="46.8" lengthAdjust="spacing">2022-05-20</text><text transform="translate(930.1,1066.5) scale(1,1) rotate(-90)" font-size="8.7" text-anchor="end" fill="#484848" font-family="&quot;Liberation Serif&quot;,&quot;Noto Serif CJK SC&quot;,serif" dy="3.0" textLength="46.8" lengthAdjust="spacing">2022-06-20</text><text transform="translate(940.2,1066.5) scale(1,1) rotate(-90)" font-size="8.7" text-anchor="end" fill="#484848" font-family="&quot;Liberation Serif&quot;,&quot;Noto Serif CJK SC&quot;,serif" dy="3.0" textLength="46.8" lengthAdjust="spacing">2022-07-20</text><text transform="translate(950.3,1066.5) scale(1,1) rotate(-90)" font-size="8.7" text-anchor="end" fill="#484848" font-family="&quot;Liberation Serif&quot;,&quot;Noto Serif CJK SC&quot;,serif" dy="3.0" textLength="46.8" lengthAdjust="spacing">2022-08-20</text><text transform="translate(960.4,1066.5) scale(1,1) rotate(-90)" font-size="8.7" text-anchor="end" fill="#484848" font-family="&quot;Liberation Serif&quot;,&quot;Noto Serif CJK SC&quot;,serif" dy="3.0" textLength="46.8" lengthAdjust="spacing">2022-09-20</text><text transform="translate(970.5,1066.5) scale(1,1) rotate(-90)" font-size="8.7" text-anchor="end" fill="#484848" font-family="&quot;Liberation Serif&quot;,&quot;Noto Serif CJK SC&quot;,serif" dy="3.0" textLength="46.8" lengthAdjust="spacing">2022-10-20</text><text transform="translate(980.6,1066.5) scale(1,1) rotate(-90)" font-size="8.7" text-anchor="end" fill="#484848" font-family="&quot;Liberation Serif&quot;,&quot;Noto Serif CJK SC&quot;,serif" dy="3.0" textLength="46.8" lengthAdjust="spacing">2022-11-20</text><text transform="translate(990.7,1066.5) scale(1,1) rotate(-90)" font-size="8.7" text-anchor="end" fill="#484848" font-family="&quot;Liberation Serif&quot;,&quot;Noto Serif CJK SC&quot;,serif" dy="3.0" textLength="46.8" lengthAdjust="spacing">2022-12-20</text><text transform="translate(1000.8,1066.5) scale(1,1) rotate(-90)" font-size="8.7" text-anchor="end" fill="#484848" font-family="&quot;Liberation Serif&quot;,&quot;Noto Serif CJK SC&quot;,serif" dy="3.0" textLength="46.8" lengthAdjust="spacing">2023-01-20</text><text transform="translate(1011.0,1066.5) scale(1,1) rotate(-90)" font-size="8.7" text-anchor="end" fill="#484848" font-family="&quot;Liberation Serif&quot;,&quot;Noto Serif CJK SC&quot;,serif" dy="3.0" textLength="46.8" lengthAdjust="spacing">2023-02-20</text><text transform="translate(1021.1,1066.5) scale(1,1) rotate(-90)" font-size="8.7" text-anchor="end" fill="#484848" font-family="&quot;Liberation Serif&quot;,&quot;Noto Serif CJK SC&quot;,serif" dy="3.0" textLength="46.8" lengthAdjust="spacing">2023-03-20</text><text transform="translate(1031.2,1066.5) scale(1,1) rotate(-90)" font-size="8.7" text-anchor="end" fill="#484848" font-family="&quot;Liberation Serif&quot;,&quot;Noto Serif CJK SC&quot;,serif" dy="3.0" textLength="46.8" lengthAdjust="spacing">2023-04-20</text><text x="850.4" y="918.5" font-size="11.6" text-anchor="middle" fill="#262626" font-family="&quot;Liberation Serif&quot;,&quot;Noto Serif CJK SC&quot;,serif" textLength="75.6" lengthAdjust="spacing" text-decoration="underline" font-weight="500">纯碱-玻璃价差</text><path d="M656.3,1019.3 L656.3,1016.0 L657.3,1015.3 L658.3,1014.6 L659.3,1015.1 L660.3,1015.4 L661.3,1015.4 L662.4,1014.0 L663.4,1013.0 L664.4,1012.9 L665.4,1012.0 L666.4,1011.9 L667.4,1012.9 L668.4,1012.9 L668.5,1013.8 L668.7,1014.4 L668.8,1015.4 L668.9,1016.1 L669.1,1016.6 L669.2,1018.6 L669.3,1020.2 L669.5,1020.6 L669.6,1021.0 L670.0,1022.3 L670.4,1023.0 L671.4,1023.1 L672.4,1024.0 L673.1,1024.6 L673.8,1024.5 L674.5,1026.1 L675.3,1026.1 L676.1,1025.1 L676.1,1023.7 L676.1,1022.7 L676.1,1023.5 L676.2,1021.0 L676.2,1021.7 L676.2,1019.9 L676.2,1019.3 L676.3,1018.1 L676.3,1016.1 L676.3,1016.5 L676.3,1014.5 L676.4,1013.9 L676.4,1012.4 L676.4,1011.3 L676.4,1011.1 L676.5,1010.5 L677.5,1009.1 L678.5,1009.9 L679.5,1010.2 L680.5,1010.9 L681.5,1012.0 L682.5,1012.6 L683.5,1011.5 L684.5,1011.9 L685.6,1011.0 L686.6,1011.6 L687.6,1010.9 L688.6,1011.9 L689.6,1011.4 L690.6,1012.5 L691.6,1012.7 L692.6,1012.5 L693.4,1011.9 L694.2,1013.5 L695.0,1013.8 L695.8,1014.2 L696.6,1015.0 L697.4,1014.8 L698.2,1016.2 L698.9,1016.3 L699.7,1018.0 L700.3,1019.1 L701.0,1019.7 L701.7,1020.0 L702.7,1020.8 L703.7,1021.0 L703.9,1021.8 L704.1,1024.1 L704.3,1023.7 L704.5,1024.3 L704.7,1026.1 L705.5,1025.3 L706.3,1025.1 L706.6,1025.0 L706.8,1022.2 L707.1,1022.7 L707.3,1022.1 L707.5,1020.0 L708.3,1021.5 L709.0,1021.3 L709.8,1022.0 L710.2,1021.0 L710.7,1021.2 L711.2,1019.4 L712.1,1019.7 L713.0,1019.7 L713.9,1018.0 L714.8,1018.6 L715.8,1019.1 L716.8,1019.6 L717.8,1018.6 L718.8,1019.4 L719.8,1019.5 L720.8,1021.0 L721.9,1021.9 L722.9,1021.4 L723.9,1021.1 L724.9,1021.4 L725.6,1020.7 L726.2,1019.5 L726.9,1019.4 L727.9,1019.6 L728.9,1021.0 L729.9,1020.9 L730.9,1022.6 L731.9,1022.7 L732.9,1022.3 L734.0,1023.4 L734.7,1025.0 L735.5,1025.8 L736.2,1025.6 L737.0,1026.1 L737.7,1025.6 L738.5,1027.3 L739.3,1026.7 L740.0,1028.1 L740.5,1028.5 L741.0,1028.7 L741.5,1030.3 L742.0,1031.1 L742.5,1030.8 L743.0,1032.1 L743.5,1032.7 L744.0,1034.1 L744.4,1035.1 L744.7,1037.2 L745.1,1037.2 L745.5,1036.3 L745.9,1035.8 L746.3,1034.7 L746.7,1033.1 L747.3,1032.5 L748.0,1030.7 L748.7,1031.1 L749.0,1029.2 L749.4,1028.5 L749.7,1028.6 L750.0,1027.4 L750.4,1027.9 L750.7,1026.1 L751.2,1026.1 L751.7,1026.7 L752.2,1028.7 L752.7,1029.1 L753.4,1028.7 L754.1,1026.7 L754.7,1027.1 L755.5,1027.4 L756.3,1028.3 L757.2,1029.1 L757.6,1029.1 L758.1,1028.1 L758.6,1027.6 L759.1,1025.9 L759.6,1025.1 L760.2,1026.9 L760.9,1026.5 L761.5,1026.8 L762.2,1028.1 L763.2,1027.7 L764.2,1029.1 L765.2,1030.4 L766.2,1030.1 L767.2,1030.0 L768.2,1029.4 L769.3,1028.7 L770.3,1029.6 L771.3,1028.6 L772.3,1028.1 L772.6,1026.6 L772.8,1026.5 L773.1,1026.1 L773.4,1023.3 L773.7,1023.0 L774.6,1024.4 L775.4,1023.5 L776.3,1024.0 L777.2,1023.5 L778.1,1024.7 L778.9,1025.1 L779.4,1026.7 L779.9,1027.0 L780.3,1028.1 L781.4,1028.0 L782.4,1029.1 L782.9,1030.5 L783.4,1029.6 L783.9,1031.8 L784.4,1032.1 L784.9,1032.5 L785.4,1033.9 L785.9,1034.4 L786.4,1035.1 L786.9,1035.4 L787.4,1035.9 L787.9,1038.2 L788.4,1038.2 L789.4,1038.6 L790.4,1039.2 L790.8,1039.7 L791.1,1041.4 L791.5,1042.8 L791.8,1043.2 L792.4,1041.2 L793.1,1041.2 L793.2,1042.0 L793.4,1042.1 L793.5,1044.5 L793.7,1043.7 L793.8,1046.5 L794.0,1046.7 L794.2,1047.5 L794.3,1048.4 L794.5,1049.3 L794.7,1049.7 L794.9,1051.2 L795.1,1051.5 L795.3,1052.9 L795.5,1054.3 L795.6,1053.6 L795.7,1052.7 L795.8,1051.2 L796.0,1050.9 L796.1,1050.4 L796.2,1049.5 L796.3,1046.8 L796.4,1047.0 L796.6,1045.3 L796.7,1045.2 L796.7,1045.0 L796.8,1043.5 L796.8,1042.2 L796.9,1041.7 L796.9,1040.5 L797.0,1038.8 L797.0,1039.6 L797.1,1036.6 L797.1,1035.6 L797.2,1035.2 L797.2,1033.9 L797.3,1033.5 L797.3,1033.2 L797.3,1031.7 L797.4,1032.1 L797.4,1029.6 L797.5,1029.1 L797.6,1029.2 L797.6,1028.4 L797.7,1026.4 L797.8,1026.2 L797.9,1023.5 L797.9,1024.6 L798.0,1022.5 L798.1,1021.4 L798.2,1021.8 L798.2,1019.7 L798.3,1019.0 L799.4,1017.7 L800.4,1017.2 L801.5,1018.0 L802.5,1019.2 L803.5,1018.2 L804.6,1019.4 L804.9,1020.6 L805.2,1020.2 L805.6,1022.0 L806.4,1021.8 L807.2,1020.0 L808.4,1021.4 L809.6,1020.6 L810.0,1021.2 L810.4,1023.2 L810.8,1023.4 L811.1,1023.5 L811.4,1021.1 L811.7,1020.8 L812.0,1020.0 L813.3,1020.9 L814.6,1019.4 L814.9,1021.4 L815.2,1021.5 L815.5,1022.4 L815.8,1022.1 L816.1,1025.0 L816.4,1026.2 L816.7,1026.1 L818.1,1026.7 L818.4,1025.9 L818.7,1024.2 L819.0,1023.0 L819.3,1023.0 L819.5,1022.3 L819.7,1021.5 L819.9,1020.2 L820.1,1019.0 L821.4,1019.6 L822.7,1018.6 L823.2,1016.6 L823.6,1015.7 L824.1,1016.0 L824.7,1014.0 L825.2,1013.5 L825.7,1012.9 L826.2,1011.1 L826.7,1010.8 L827.2,1010.0 L827.7,1009.9 L828.2,1009.9 L828.8,1008.5 L829.3,1006.9 L829.8,1006.9 L830.3,1006.2 L830.8,1004.6 L831.3,1005.8 L831.8,1003.9 L832.3,1002.1 L832.8,1001.7 L833.3,1001.8 L833.8,1000.8 L834.0,1000.8 L834.2,999.2 L834.4,996.9 L834.6,997.1 L834.8,996.4 L835.0,994.8 L835.2,994.8 L835.4,993.1 L835.6,991.2 L835.8,991.5 L836.0,990.2 L836.2,988.7 L836.5,988.7 L836.8,986.0 L837.0,986.5 L837.3,984.7 L837.6,983.0 L837.8,982.7 L838.8,982.6 L839.8,983.7 L840.3,981.9 L840.7,983.0 L841.1,980.4 L841.5,980.8 L841.9,979.7 L842.7,980.1 L843.5,981.7 L844.0,981.8 L844.5,982.8 L845.0,984.8 L845.5,984.7 L845.7,982.7 L845.9,982.4 L846.1,981.3 L846.3,980.6 L846.5,980.0 L846.7,978.7 L847.1,978.3 L847.5,976.2 L847.8,977.5 L848.0,978.9 L848.2,979.8 L848.5,980.5 L848.7,980.7 L848.9,980.5 L849.1,981.6 L849.3,983.8 L849.5,984.0 L849.7,985.4 L849.9,986.7 L850.0,986.7 L850.3,987.8 L850.6,988.8 L851.0,990.4 L851.3,991.4 L851.6,991.8 L852.4,991.8 L853.2,993.2 L854.1,992.7 L855.0,991.8 L856.1,992.4 L857.1,993.2 L858.1,992.6 L859.1,992.4 L860.1,993.6 L861.1,993.8 L862.1,993.8 L863.1,992.8 L863.4,994.1 L863.7,994.2 L864.0,994.4 L864.3,996.4 L864.6,996.5 L864.8,997.5 L865.1,998.8 L866.1,998.1 L867.1,999.2 L868.2,997.5 L869.2,997.8 L870.2,998.0 L871.2,998.4 L872.2,999.9 L873.2,999.2 L874.2,999.1 L875.2,998.4 L876.2,997.0 L877.2,996.8 L877.9,997.2 L878.6,994.7 L879.2,994.8 L880.3,994.7 L881.3,993.8 L881.9,992.1 L882.6,993.5 L883.3,991.8 L884.3,992.1 L885.3,990.4 L886.3,990.4 L887.3,988.7 L888.0,987.8 L888.7,987.3 L889.3,986.7 L889.7,985.7 L890.0,985.7 L890.3,983.7 L890.6,984.9 L890.8,985.1 L891.1,987.7 L891.3,987.5 L891.5,988.7 L892.4,988.5 L893.2,987.1 L893.5,989.1 L893.8,989.6 L894.1,989.0 L894.5,991.6 L894.8,991.8 L895.3,992.7 L895.9,995.0 L896.4,994.8 L897.4,994.0 L898.4,993.8 L898.7,992.2 L899.1,991.2 L899.4,992.5 L899.8,990.3 L900.1,988.4 L900.4,988.7 L900.8,987.7 L901.2,987.8 L901.6,985.0 L902.0,984.7 L902.6,984.9 L903.1,984.3 L903.7,982.3 L904.5,980.8 L905.3,980.7 L905.6,979.0 L905.9,977.8 L906.2,976.7 L906.6,975.4 L906.9,975.6 L907.3,974.0 L907.7,974.3 L908.1,972.5 L908.5,971.6 L908.7,972.4 L909.0,973.9 L909.2,973.8 L909.5,976.3 L909.7,976.6 L910.0,975.0 L910.2,974.7 L910.5,972.9 L910.8,972.0 L911.0,970.8 L911.3,970.6 L912.1,969.3 L912.9,968.6 L913.1,969.4 L913.3,969.6 L913.5,972.4 L913.7,972.2 L913.9,974.0 L914.1,974.6 L914.4,972.9 L914.6,971.5 L914.9,972.7 L915.1,970.0 L915.3,969.6 L916.0,969.4 L916.6,971.6 L916.6,973.5 L916.6,973.2 L916.6,973.2 L916.6,975.6 L916.6,975.8 L916.7,978.2 L916.7,978.7 L916.7,979.3 L916.7,980.3 L916.7,980.3 L916.7,982.6 L916.7,983.6 L916.8,982.8 L916.8,983.3 L916.8,984.2 L916.8,986.2 L916.8,987.4 L916.8,988.7 L916.9,989.9 L916.9,989.6 L916.9,990.6 L916.9,991.4 L916.9,993.5 L916.9,992.8 L916.9,993.5 L917.0,994.6 L917.0,997.2 L917.0,996.3 L917.0,999.2 L917.0,998.3 L917.0,999.6 L917.1,1000.0 L917.1,1002.8 L917.1,1001.6 L917.1,1002.7 L917.1,1004.9 L917.1,1005.3 L917.1,1006.0 L917.2,1007.0 L917.2,1009.0 L917.2,1008.1 L917.2,1010.0 L917.2,1010.1 L917.2,1011.7 L917.3,1012.3 L917.3,1013.3 L917.3,1014.0 L917.3,1014.2 L917.3,1015.5 L917.3,1017.7 L917.4,1017.8 L917.4,1019.0 L918.2,1019.0 L918.2,1017.2 L918.2,1016.2 L918.2,1016.8 L918.2,1014.6 L918.2,1015.5 L918.2,1013.6 L918.3,1011.5 L918.3,1011.2 L918.3,1011.0 L918.3,1011.0 L918.3,1009.9 L918.3,1007.4 L918.3,1007.3 L918.3,1006.3 L918.4,1006.2 L918.4,1003.6 L918.4,1003.5 L918.4,1002.7 L918.4,1001.5 L918.4,1000.6 L918.4,998.6 L918.4,998.0 L918.5,999.0 L918.5,996.5 L918.5,997.2 L918.5,994.0 L918.5,993.1 L918.5,994.2 L918.5,991.9 L918.5,992.3 L918.6,989.4 L918.6,989.9 L918.6,988.7 L919.4,988.5 L920.2,986.7 L921.0,985.2 L921.8,984.7 L922.6,986.1 L923.4,985.7 L924.0,985.3 L924.5,984.5 L925.0,982.7 L925.8,981.4 L926.6,980.7 L927.2,980.9 L927.7,982.4 L928.3,983.7 L928.8,984.3 L929.3,985.1 L929.9,986.7 L930.7,988.7 L931.5,988.7 L932.3,989.0 L933.1,990.8 L933.5,992.1 L933.9,992.7 L934.3,993.7 L934.7,994.8 L935.1,995.6 L935.5,996.4 L935.9,998.3 L936.3,998.4 L936.7,998.8 L937.7,1000.1 L938.7,999.8 L939.8,998.7 L940.8,998.8 L941.2,998.0 L941.6,997.7 L942.0,996.9 L942.4,996.4 L942.8,994.8 L943.8,993.2 L944.8,993.8 L945.8,993.3 L946.8,994.8 L947.8,995.0 L948.8,993.8 L949.8,994.0 L950.8,994.8 L951.9,993.9 L952.9,994.4 L953.9,994.9 L954.9,995.8 L955.9,995.5 L956.9,996.8 L957.9,997.2 L958.9,996.4 L959.9,995.4 L960.9,994.8 L961.4,994.8 L961.9,993.2 L962.4,993.7 L962.9,991.8 L964.0,990.0 L965.0,990.4 L966.0,991.6 L967.0,991.2 L968.0,989.8 L969.0,990.4 L970.0,991.0 L971.0,991.8 L972.0,991.6 L973.0,992.8 L974.0,992.0 L975.1,991.8 L975.4,991.9 L975.7,989.4 L976.1,989.0 L976.4,988.5 L976.7,986.6 L977.1,986.7 L977.5,986.0 L977.9,984.7 L978.3,985.5 L978.7,984.5 L979.1,982.7 L979.8,982.1 L980.4,982.4 L981.1,980.7 L981.6,978.9 L982.1,978.0 L982.6,978.2 L983.1,977.7 L983.6,977.8 L984.1,977.1 L984.6,976.5 L985.1,974.6 L986.1,974.9 L987.2,973.6 L987.7,972.6 L988.2,972.8 L988.7,972.0 L989.2,970.6 L989.8,971.2 L990.5,972.7 L991.2,972.6 L992.2,972.7 L993.2,971.6 L993.9,970.2 L994.5,969.2 L995.2,969.6 L995.9,968.3 L996.6,968.9 L997.2,967.6 L997.9,966.7 L998.6,965.8 L999.3,965.6 L1000.3,965.4 L1001.3,964.1 L1002.3,962.6 L1003.3,962.5 L1004.0,961.1 L1004.6,960.0 L1005.3,960.1 L1006.3,961.8 L1007.3,961.5 L1008.3,960.4 L1009.3,960.5 L1010.3,960.7 L1011.4,961.5 L1012.4,961.3 L1013.4,960.9 L1014.0,959.4 L1014.6,959.5 L1015.0,961.5 L1015.4,962.2 L1015.8,962.5 L1016.6,962.6 L1017.4,964.5 L1018.1,964.4 L1018.8,966.7 L1019.4,966.6 L1020.1,966.5 L1020.8,967.6 L1021.4,968.6 L1022.1,970.1 L1022.8,969.4 L1023.5,970.6 L1024.1,971.4 L1024.8,971.8 L1025.5,972.6 L1026.0,973.9 L1026.5,974.7 L1027.0,975.6 L1027.5,975.6 L1027.8,975.8 L1028.2,977.6 L1028.5,977.4 L1028.8,980.1 L1029.2,979.3 L1029.5,980.7 L1029.8,981.7 L1030.1,981.8 L1030.4,983.4 L1030.7,983.7 L1030.9,983.9 L1031.2,984.7 L1031.5,986.7 L1031.9,988.1 L1032.2,987.8 L1032.5,988.4 L1032.9,990.6 L1033.2,991.7 L1033.5,991.8 L1033.9,992.0 L1034.2,993.6 L1034.6,995.3 L1034.9,996.0 L1035.2,995.9 L1035.6,996.8 L1035.8,998.3 L1036.1,999.1 L1036.4,1000.5 L1036.6,1001.9 L1036.9,1001.2 L1037.2,1002.9 L1037.3,1003.5 L1037.5,1005.7 L1037.6,1005.0 L1037.8,1005.9 L1038.0,1008.1 L1038.1,1007.8 L1038.3,1009.4 L1038.4,1009.0 L1038.6,1010.9 L1038.8,1013.1 L1038.9,1013.2 L1039.1,1012.9 L1039.3,1014.1 L1039.4,1015.0 L1039.6,1017.0 L1040.1,1018.1 L1040.6,1019.0 L1040.6,1019.3 Z" fill="#a5a5a5"/><polyline points="656.3,1014.6 657.3,1015.9 658.3,1016.0 659.3,1016.0 660.3,1017.0 661.3,1018.1 662.4,1018.0 663.4,1017.9 664.4,1018.6 665.4,1019.0 666.4,1019.4 667.4,1020.8 668.4,1021.0 669.4,1021.6 670.4,1022.6 671.4,1023.0 672.4,1023.4 673.4,1023.6 674.5,1024.6 676.1,1024.0 676.1,1023.7 676.2,1022.7 676.3,1020.6 676.3,1019.5 676.4,1019.0 676.5,1018.0 676.5,1017.4 676.6,1015.8 676.7,1015.1 676.7,1013.5 676.8,1012.5 676.9,1011.9 677.7,1010.6 678.5,1010.5 679.5,1010.4 680.5,1010.1 681.5,1010.4 682.5,1010.7 683.5,1011.3 684.5,1010.9 685.6,1010.9 686.6,1011.2 687.6,1011.6 688.6,1011.9 689.6,1012.6 690.6,1011.8 691.6,1011.8 692.6,1012.1 693.6,1012.0 694.6,1012.3 695.6,1011.7 696.6,1011.9 697.7,1011.4 698.7,1012.1 699.7,1011.7 700.7,1011.5 701.7,1011.4 702.7,1010.4 703.7,1010.4 704.7,1010.5 705.7,1009.4 706.7,1009.3 707.7,1008.9 708.7,1009.1 709.8,1008.9 710.8,1007.9 711.8,1009.1 712.8,1009.1 713.8,1009.9 714.8,1010.4 715.8,1011.2 716.8,1010.9 717.8,1010.6 718.8,1010.5 719.8,1010.5 720.8,1010.6 721.9,1009.9 722.9,1009.9 723.9,1010.1 724.9,1010.1 725.9,1010.5 726.9,1011.5 727.9,1011.5 728.9,1011.9 729.9,1011.6 730.9,1011.7 731.9,1012.5 732.9,1012.6 734.0,1011.7 735.0,1012.1 736.0,1012.6 737.0,1012.3 738.0,1012.9 739.0,1013.1 740.0,1013.0 741.0,1013.4 742.0,1014.0 743.0,1013.6 744.0,1014.6 744.7,1013.6 745.4,1013.0 746.1,1011.9 747.1,1010.6 748.1,1009.9 749.1,1010.9 750.1,1010.5 751.1,1010.6 752.1,1009.3 753.1,1011.0 754.1,1011.3 755.1,1012.7 756.1,1012.9 757.2,1013.2 758.2,1012.4 759.2,1011.9 760.2,1011.9 761.2,1010.9 762.2,1010.5 763.2,1009.7 764.2,1010.7 765.2,1009.9 766.0,1009.8 766.7,1008.1 767.5,1007.5 768.2,1006.9 768.7,1005.5 769.3,1005.2 769.8,1003.4 770.3,1002.9 771.3,1002.8 772.3,1001.9 773.3,1001.7 774.3,1002.9 775.3,1001.7 776.3,1000.8 777.3,1000.7 778.3,999.8 779.3,1000.8 780.3,1001.9 781.4,1001.9 782.4,1002.9 783.4,1003.2 784.4,1004.9 785.4,1005.6 786.4,1005.9 787.4,1005.0 788.4,1005.3 789.4,1004.3 790.4,1003.9 791.4,1003.0 792.4,1001.9 793.5,1000.9 794.5,1000.4 795.5,999.5 796.5,999.8 796.8,1001.3 797.0,1002.2 797.3,1003.0 797.6,1003.3 797.9,1004.9 797.9,1003.9 797.9,1003.5 798.0,1001.9 798.0,1000.5 798.0,1000.5 798.0,998.6 798.1,997.9 798.1,996.3 798.1,996.3 798.1,995.1 798.1,993.8 798.2,992.8 798.2,991.5 798.2,990.7 798.2,989.8 798.3,988.1 798.3,988.0 798.3,986.7 799.9,985.7 800.4,985.2 801.0,983.3 801.5,983.1 802.0,983.5 802.5,985.2 803.0,985.6 803.5,986.7 804.6,985.7 805.6,985.7 806.6,986.5 807.6,986.7 808.2,986.4 808.9,984.5 809.6,983.7 810.6,982.8 811.6,981.7 812.6,980.7 813.6,979.7 814.6,978.7 815.6,977.7 816.7,977.1 817.7,976.2 818.7,977.5 819.7,977.7 820.7,977.5 821.7,976.2 822.7,977.0 823.7,976.6 824.2,975.9 824.7,975.0 825.2,974.0 825.7,972.6 826.7,972.1 827.7,971.0 828.8,971.1 829.8,970.6 830.8,971.8 831.8,972.2 832.3,970.7 832.9,970.0 833.4,969.6 833.7,968.8 834.0,967.5 834.4,966.2 834.7,965.8 835.0,964.5 835.5,965.1 836.1,966.9 836.6,967.6 837.4,968.3 838.2,969.6 838.6,969.2 839.0,967.3 839.4,967.2 839.8,965.6 840.7,964.3 841.5,963.5 842.5,964.4 843.5,964.5 843.8,963.0 844.1,962.5 844.4,961.3 844.8,961.0 845.1,959.5 845.3,958.8 845.6,957.6 845.8,955.9 846.1,955.5 846.3,954.5 847.1,955.3 847.9,956.9 848.5,957.1 849.1,958.5 849.2,959.8 849.3,960.6 849.4,962.2 849.5,963.0 849.6,962.9 849.7,965.2 849.8,965.6 849.9,966.6 850.0,968.3 850.0,968.6 850.1,969.3 850.2,970.5 850.3,971.9 850.4,972.3 850.5,973.5 850.6,974.4 850.7,975.4 850.8,976.7 850.9,977.7 851.0,979.2 851.1,979.3 851.2,980.7 851.5,981.3 851.8,982.4 852.1,983.0 852.4,984.7 852.7,985.5 853.0,986.5 853.3,987.2 853.6,988.7 855.2,987.7 856.1,986.8 856.9,985.7 858.5,986.7 860.1,985.7 860.6,984.1 861.2,984.1 861.7,982.7 862.2,982.3 862.8,980.8 863.3,979.7 864.5,980.7 864.7,981.3 864.9,982.2 865.1,983.1 865.3,984.3 865.5,986.2 865.7,986.7 866.5,988.1 867.3,988.7 868.2,988.4 869.0,987.1 869.8,987.6 870.6,988.3 871.4,989.6 872.2,990.8 873.8,991.8 874.3,991.1 874.9,990.0 875.4,988.7 875.7,987.9 876.1,986.1 876.4,986.4 876.7,984.8 877.0,983.7 877.4,982.4 877.8,981.4 878.2,981.0 878.6,979.7 879.0,979.3 879.4,977.0 879.9,976.2 880.3,975.6 880.8,974.0 881.3,973.8 881.9,972.6 882.4,971.7 882.9,970.8 883.5,969.6 884.3,968.1 885.1,967.6 885.4,966.4 885.7,966.1 886.0,964.3 886.3,963.5 886.6,964.1 886.9,965.1 887.2,967.0 887.5,967.6 887.8,968.2 888.1,969.9 888.4,970.8 888.7,971.6 889.9,970.6 890.2,972.0 890.4,972.0 890.7,973.3 890.9,975.3 891.1,975.6 891.5,976.6 892.0,977.1 892.4,978.1 892.8,979.7 893.3,978.2 893.8,977.9 894.4,976.6 894.8,977.4 895.2,978.1 895.6,979.3 896.0,980.7 896.8,982.3 897.6,983.1 898.4,982.7 899.2,981.7 899.5,980.6 899.7,979.3 899.9,978.1 900.2,977.1 900.4,976.6 900.8,976.2 901.2,974.8 901.6,972.9 902.0,972.6 903.7,971.6 904.5,973.0 905.3,973.6 905.5,973.2 905.7,971.5 906.0,971.1 906.2,969.3 906.5,968.6 906.9,967.4 907.3,966.4 907.7,965.6 908.9,964.1 909.5,965.4 910.1,966.6 910.6,967.4 911.2,968.2 911.7,969.6 912.5,968.0 913.3,967.6 913.9,968.3 914.4,969.7 914.9,970.6 916.6,971.6 916.9,973.1 917.2,973.9 917.5,974.6 917.8,975.6 918.0,974.5 918.3,973.1 918.6,972.6 918.7,973.9 918.9,975.0 919.0,975.4 919.2,977.0 919.3,978.1 919.5,978.5 919.6,979.0 919.8,980.7 921.4,981.7 921.8,981.1 922.2,979.7 922.6,978.1 923.0,977.7 923.8,976.8 924.6,975.6 925.2,974.8 925.8,973.6 926.4,975.1 927.0,976.2 927.9,977.2 928.7,977.7 929.2,978.7 929.7,979.0 930.3,980.7 930.7,982.2 931.1,982.9 931.5,983.7 932.1,983.2 932.7,981.7 932.9,982.7 933.2,984.0 933.4,984.7 933.7,986.1 933.9,986.7 934.2,987.2 934.6,988.5 934.9,990.1 935.2,990.6 935.5,991.8 935.9,992.8 936.3,993.6 936.7,995.2 937.1,995.8 937.7,996.1 938.2,997.3 938.7,998.4 940.4,997.8 940.9,996.2 941.4,995.2 942.0,994.8 942.2,993.6 942.5,993.4 942.8,991.8 944.4,992.8 946.0,993.8 947.6,992.8 949.2,993.8 950.8,993.2 952.5,992.8 953.3,993.3 954.1,994.8 955.7,995.2 956.5,996.0 957.3,996.4 958.9,996.8 960.5,995.8 961.3,995.1 962.1,993.8 962.9,993.1 963.8,991.8 965.4,990.8 967.0,991.8 968.6,991.2 969.4,991.3 970.2,992.8 971.0,992.9 971.8,994.4 972.6,995.9 973.4,996.8 974.6,997.8 975.2,996.4 975.7,996.2 976.3,994.8 976.7,994.0 977.1,993.4 977.5,991.6 977.9,990.8 978.3,990.2 978.7,988.3 979.1,987.4 979.5,986.7 979.9,985.5 980.3,984.5 980.7,983.8 981.1,982.7 981.9,981.4 982.7,980.7 983.3,979.1 983.8,978.6 984.3,977.7 985.1,976.6 985.9,975.6 987.6,974.6 988.4,974.1 989.2,972.6 990.0,973.5 990.8,974.2 991.6,973.4 992.4,972.6 994.0,971.6 995.6,970.6 996.4,969.2 997.2,968.6 998.0,967.9 998.9,966.6 1000.5,965.6 1002.1,966.6 1003.7,967.6 1005.3,968.6 1006.9,968.2 1007.7,969.4 1008.5,969.6 1010.1,968.6 1011.8,969.0 1013.4,968.2 1014.2,968.3 1015.0,969.6 1016.6,970.6 1018.2,969.6 1019.0,970.0 1019.8,971.0 1021.4,971.6 1023.1,972.6 1024.7,973.6 1026.3,974.6 1027.9,974.2 1028.7,975.3 1029.5,975.6 1030.3,976.3 1031.1,977.7 1032.7,977.0 1033.3,977.3 1033.8,978.4 1034.3,979.7 1035.6,980.7 1035.9,982.4 1036.2,982.2 1036.5,983.1 1036.8,984.7 1037.1,986.0 1037.4,986.2 1037.7,988.2 1038.0,988.7 1038.2,989.4 1038.5,990.7 1038.7,991.8 1038.9,993.3 1039.2,993.8 1039.6,995.4 1040.0,995.4 1040.4,996.8" fill="none" stroke="#5b9bd5" stroke-width="1.9" stroke-linejoin="round" stroke-linecap="round" /><polyline points="656.3,1019.4 657.3,1019.9 658.3,1020.6 659.3,1020.7 660.3,1021.4 661.3,1022.6 662.4,1022.6 663.4,1023.0 664.4,1023.4 665.4,1023.5 666.4,1024.6 667.4,1025.2 668.4,1025.1 669.4,1024.0 670.4,1024.0 671.4,1023.1 672.4,1023.0 673.4,1022.2 674.5,1022.6 675.1,1021.9 675.8,1021.4 676.5,1020.0 677.5,1019.5 678.5,1018.6 679.5,1018.4 680.5,1019.0 681.5,1019.2 682.5,1019.0 683.5,1018.0 684.5,1018.0 685.6,1017.4 686.6,1017.7 687.6,1017.9 688.6,1017.0 689.6,1017.5 690.6,1017.3 691.6,1017.0 692.6,1016.6 693.6,1015.5 694.6,1015.4 695.6,1014.6 696.6,1013.9 697.7,1013.7 698.7,1012.9 699.4,1012.2 700.2,1011.0 700.9,1011.2 701.7,1009.9 702.4,1008.3 703.0,1007.7 703.7,1006.9 704.4,1005.9 705.1,1005.3 705.9,1006.7 706.7,1006.9 707.7,1005.9 708.7,1005.9 709.8,1007.0 710.8,1007.9 711.8,1009.0 712.8,1008.9 713.8,1009.6 714.8,1009.9 715.8,1010.9 716.8,1010.4 717.8,1010.9 718.8,1010.5 719.8,1010.1 720.8,1009.9 721.9,1009.3 722.9,1008.8 723.9,1008.5 724.9,1008.6 725.9,1010.5 726.9,1010.5 727.9,1010.7 728.9,1010.4 729.9,1009.9 730.9,1009.6 731.9,1008.8 732.9,1008.9 734.0,1008.2 735.0,1008.9 736.0,1007.9 737.0,1007.7 738.0,1006.5 739.0,1005.9 740.0,1005.6 741.0,1005.2 742.0,1003.9 742.8,1002.5 743.5,1002.2 744.3,1001.5 745.1,1000.8 745.9,1000.0 746.7,999.6 747.5,998.8 748.3,999.6 749.1,1000.8 750.1,1001.3 751.1,1002.9 752.1,1003.9 753.1,1003.9 753.9,1004.6 754.7,1006.0 755.5,1006.5 757.2,1006.9 758.2,1005.4 759.2,1004.9 760.2,1004.3 761.2,1004.2 762.2,1003.9 763.2,1002.6 764.2,1002.4 765.2,1001.9 766.0,1000.6 766.7,1000.2 767.5,999.3 768.2,998.8 768.9,998.2 769.6,996.8 770.3,995.8 771.3,994.8 772.3,994.4 773.0,995.7 773.6,996.6 774.3,997.8 775.3,996.9 776.3,996.8 777.3,996.2 778.3,994.8 779.3,994.4 780.3,993.0 781.4,993.2 782.4,993.1 783.4,992.8 784.4,992.8 785.4,991.2 786.4,990.8 787.4,990.9 788.4,989.8 789.1,988.9 789.8,988.4 790.4,986.7 790.9,985.7 791.4,984.6 791.9,983.2 792.4,982.7 793.2,981.9 793.9,980.7 794.1,979.6 794.3,978.2 794.6,978.1 794.8,976.8 795.1,975.6 795.3,974.0 795.6,974.3 795.9,972.6 796.0,973.5 796.1,975.2 796.2,975.5 796.3,976.0 796.5,977.7 796.6,978.5 796.7,979.7 796.8,981.1 797.0,981.7 797.2,982.5 797.3,983.6 797.5,984.7 797.9,985.7 798.3,987.1 798.7,987.7 799.6,987.2 800.5,985.7 801.5,985.1 802.5,984.7 803.5,984.7 804.6,985.7 805.6,985.5 806.6,986.7 807.6,985.9 808.6,984.7 809.1,983.3 809.6,983.2 810.1,981.6 810.6,980.7 811.6,980.8 812.6,979.7 813.6,978.1 814.6,977.7 815.1,977.1 815.6,975.1 816.0,974.6 816.5,973.1 816.9,972.1 817.3,971.0 818.7,971.6 819.4,972.3 820.1,973.6 820.6,974.6 821.2,975.6 821.7,976.6 822.7,977.8 823.7,978.7 824.5,976.8 825.3,976.2 826.1,977.1 826.9,977.7 827.7,978.5 828.6,979.7 829.4,980.8 830.2,981.7 831.8,982.7 832.6,983.4 833.4,984.7 834.2,986.2 835.0,986.7 835.2,987.3 835.5,988.2 835.7,990.1 836.0,991.0 836.2,991.8 837.0,992.3 837.8,993.8 838.8,993.3 839.8,993.2 840.9,992.4 841.9,991.8 842.7,990.3 843.5,989.8 844.0,988.8 844.6,987.6 845.1,986.7 846.7,987.1 848.3,986.3 848.5,987.5 848.7,988.8 848.9,989.1 849.1,990.2 849.3,991.9 849.5,992.8 849.7,994.0 849.9,994.8 850.0,994.8 850.3,995.5 850.5,996.4 850.8,997.2 851.1,998.6 851.3,999.5 851.6,1000.8 852.0,1002.2 852.4,1002.6 852.8,1004.3 853.2,1004.9 854.0,1005.4 854.8,1006.9 856.5,1006.5 858.1,1005.9 859.7,1004.9 860.5,1003.6 861.3,1002.9 861.8,1001.8 862.4,1000.5 862.9,999.8 864.1,1000.8 864.9,1001.8 865.7,1002.9 867.3,1003.9 869.0,1004.5 870.6,1005.3 871.4,1006.5 872.2,1006.5 873.8,1006.9 874.6,1005.8 875.4,1004.9 875.8,1003.5 876.2,1003.0 876.6,1001.9 877.0,1000.8 877.4,1000.3 877.8,998.2 878.2,998.1 878.6,996.8 879.2,995.9 879.7,994.5 880.3,993.8 881.1,992.6 881.9,991.8 882.7,990.2 883.5,989.8 884.3,989.3 885.1,987.7 886.3,986.7 886.7,987.5 887.1,988.6 887.5,989.8 887.8,991.0 888.0,992.1 888.2,992.9 888.5,993.7 888.7,994.8 889.3,996.0 889.9,996.8 890.5,997.9 891.0,998.6 891.5,999.8 893.2,1000.8 894.8,999.8 896.4,998.8 897.2,1000.1 898.0,1000.4 898.8,999.3 899.6,999.2 900.4,998.1 901.2,997.8 902.8,998.8 903.7,999.8 904.5,1000.8 906.1,999.8 907.7,1000.8 909.3,1001.9 910.9,1002.9 912.5,1003.9 914.1,1004.9 915.8,1005.3 917.4,1005.9 919.0,1004.9 920.6,1003.9 922.2,1002.9 923.8,1002.5 925.4,1001.9 927.0,1002.9 928.7,1003.9 930.3,1004.9 931.9,1005.9 932.7,1006.9 933.5,1007.9 935.1,1008.9 935.9,1009.2 936.7,1010.5 938.3,1011.3 939.1,1012.3 940.0,1012.5 941.6,1011.9 943.2,1010.9 944.8,1009.9 945.6,1011.3 946.4,1011.3 947.2,1012.0 948.0,1012.5 948.8,1013.4 949.6,1014.0 951.3,1015.0 952.9,1015.4 954.5,1015.0 956.1,1014.0 957.7,1013.6 959.3,1014.0 960.9,1013.6 962.5,1014.0 964.2,1013.4 965.8,1014.0 967.4,1014.6 969.0,1015.4 969.8,1015.7 970.6,1016.6 972.2,1017.4 973.0,1017.5 973.8,1018.6 975.5,1018.0 976.3,1017.1 977.1,1016.6 977.9,1016.3 978.7,1015.4 980.3,1016.0 981.9,1015.4 983.5,1014.6 984.3,1014.5 985.1,1013.4 985.9,1012.5 986.7,1011.9 988.4,1010.9 990.0,1011.3 990.8,1010.4 991.6,1009.9 993.2,1008.9 994.8,1008.5 996.4,1007.9 998.0,1006.9 999.7,1007.3 1001.3,1006.5 1002.1,1007.0 1002.9,1007.9 1003.4,1008.8 1004.0,1009.3 1004.5,1010.5 1005.3,1011.3 1006.1,1011.9 1007.7,1012.9 1009.3,1013.4 1011.0,1012.9 1012.6,1012.5 1014.2,1011.9 1015.8,1010.9 1017.4,1011.3 1019.0,1010.5 1020.6,1009.9 1022.2,1010.5 1023.1,1010.4 1023.9,1009.3 1025.5,1008.9 1027.1,1007.9 1027.6,1006.4 1028.2,1006.1 1028.7,1004.9 1029.2,1003.6 1029.8,1002.4 1030.3,1001.9 1030.9,1000.7 1031.4,1000.0 1031.9,998.8 1033.5,997.8 1035.2,998.4 1036.8,997.8 1038.4,998.4 1039.6,998.8 1039.6,999.7 1039.7,1000.7 1039.7,1002.0 1039.7,1002.9 1039.7,1004.3 1039.8,1005.5 1039.8,1006.5 1039.8,1007.1 1039.9,1007.4 1039.9,1008.8 1039.9,1009.6 1039.9,1011.0 1040.0,1011.4 1040.0,1012.9 1040.1,1014.6 1040.2,1014.6 1040.3,1015.6 1040.4,1017.5 1040.5,1017.9 1040.6,1019.0" fill="none" stroke="#ed7d31" stroke-width="1.9" stroke-linejoin="round" stroke-linecap="round" /><rect x="723.9" y="1126.9" width="15.1" height="4.2" fill="#a5a5a5"/><text x="740.6" y="1131.9" font-size="8.4" text-anchor="start" fill="#595959" font-family="&quot;Liberation Serif&quot;,&quot;Noto Serif CJK SC&quot;,serif" textLength="241.0" lengthAdjust="spacing" >期货收盘价(5月交割连续):纯碱:-期货收盘价(5月交割连续):玻璃</text><line x1="723.9" x2="739" y1="1144" y2="1144" stroke="#5b9bd5" stroke-width="1.8"/><text x="740.6" y="1147.0" font-size="8.4" text-anchor="start" fill="#595959" font-family="&quot;Liberation Serif&quot;,&quot;Noto Serif CJK SC&quot;,serif" textLength="117.0" lengthAdjust="spacing" >期货收盘价(5月交割连续):纯碱</text><line x1="723.9" x2="739" y1="1158.8" y2="1158.8" stroke="#ed7d31" stroke-width="1.8"/><text x="740.6" y="1161.8" font-size="8.4" text-anchor="start" fill="#595959" font-family="&quot;Liberation Serif&quot;,&quot;Noto Serif CJK SC&quot;,serif" textLength="117.0" lengthAdjust="spacing" >期货收盘价(5月交割连续):玻璃</text></svg>
<svg class="chart" style="left:100px;top:1260px" width="480" height="290" viewBox="100 1260 480 290"><line x1="160.5" x2="557.9" y1="1448.0" y2="1448.0" stroke="#d9d9d9" stroke-width="1"/><line x1="160.5" x2="557.9" y1="1422.7" y2="1422.7" stroke="#d9d9d9" stroke-width="1"/><line x1="160.5" x2="557.9" y1="1397.3" y2="1397.3" stroke="#d9d9d9" stroke-width="1"/><line x1="160.5" x2="557.9" y1="1372.0" y2="1372.0" stroke="#d9d9d9" stroke-width="1"/><line x1="160.5" x2="557.9" y1="1346.6" y2="1346.6" stroke="#d9d9d9" stroke-width="1"/><line x1="160.5" x2="557.9" y1="1321.2" y2="1321.2" stroke="#d9d9d9" stroke-width="1"/><line x1="160.5" x2="557.9" y1="1295.9" y2="1295.9" stroke="#d9d9d9" stroke-width="1"/><text x="150.0" y="1451.0" font-size="8.7" text-anchor="end" fill="#595959" font-family="&quot;Liberation Serif&quot;,&quot;Noto Serif CJK SC&quot;,serif" textLength="4.3" lengthAdjust="spacing" >0</text><text x="150.0" y="1425.6" font-size="8.7" text-anchor="end" fill="#595959" font-family="&quot;Liberation Serif&quot;,&quot;Noto Serif CJK SC&quot;,serif" textLength="30.4" lengthAdjust="spacing" >1000000</text><text x="150.0" y="1400.3" font-size="8.7" text-anchor="end" fill="#595959" font-family="&quot;Liberation Serif&quot;,&quot;Noto Serif CJK SC&quot;,serif" textLength="30.4" lengthAdjust="spacing" >2000000</text><text x="150.0" y="1374.9" font-size="8.7" text-anchor="end" fill="#595959" font-family="&quot;Liberation Serif&quot;,&quot;Noto Serif CJK SC&quot;,serif" textLength="30.4" lengthAdjust="spacing" >3000000</text><text x="150.0" y="1349.6" font-size="8.7" text-anchor="end" fill="#595959" font-family="&quot;Liberation Serif&quot;,&quot;Noto Serif CJK SC&quot;,serif" textLength="30.4" lengthAdjust="spacing" >4000000</text><text x="150.0" y="1324.2" font-size="8.7" text-anchor="end" fill="#595959" font-family="&quot;Liberation Serif&quot;,&quot;Noto Serif CJK SC&quot;,serif" textLength="30.4" lengthAdjust="spacing" >5000000</text><text x="150.0" y="1298.9" font-size="8.7" text-anchor="end" fill="#595959" font-family="&quot;Liberation Serif&quot;,&quot;Noto Serif CJK SC&quot;,serif" textLength="30.4" lengthAdjust="spacing" >6000000</text><line x1="160.5" x2="160.5" y1="1448.0" y2="1451.0" stroke="#d9d9d9" stroke-width="1"/><line x1="171.8" x2="171.8" y1="1448.0" y2="1451.0" stroke="#d9d9d9" stroke-width="1"/><line x1="183.2" x2="183.2" y1="1448.0" y2="1451.0" stroke="#d9d9d9" stroke-width="1"/><line x1="194.5" x2="194.5" y1="1448.0" y2="1451.0" stroke="#d9d9d9" stroke-width="1"/><line x1="205.8" x2="205.8" y1="1448.0" y2="1451.0" stroke="#d9d9d9" stroke-width="1"/><line x1="217.2" x2="217.2" y1="1448.0" y2="1451.0" stroke="#d9d9d9" stroke-width="1"/><line x1="228.5" x2="228.5" y1="1448.0" y2="1451.0" stroke="#d9d9d9" stroke-width="1"/><line x1="239.9" x2="239.9" y1="1448.0" y2="1451.0" stroke="#d9d9d9" stroke-width="1"/><line x1="251.2" x2="251.2" y1="1448.0" y2="1451.0" stroke="#d9d9d9" stroke-width="1"/><line x1="262.5" x2="262.5" y1="1448.0" y2="1451.0" stroke="#d9d9d9" stroke-width="1"/><line x1="273.9" x2="273.9" y1="1448.0" y2="1451.0" stroke="#d9d9d9" stroke-width="1"/><line x1="285.2" x2="285.2" y1="1448.0" y2="1451.0" stroke="#d9d9d9" stroke-width="1"/><line x1="296.5" x2="296.5" y1="1448.0" y2="1451.0" stroke="#d9d9d9" stroke-width="1"/><line x1="307.9" x2="307.9" y1="1448.0" y2="1451.0" stroke="#d9d9d9" stroke-width="1"/><line x1="319.2" x2="319.2" y1="1448.0" y2="1451.0" stroke="#d9d9d9" stroke-width="1"/><line x1="330.6" x2="330.6" y1="1448.0" y2="1451.0" stroke="#d9d9d9" stroke-width="1"/><line x1="341.9" x2="341.9" y1="1448.0" y2="1451.0" stroke="#d9d9d9" stroke-width="1"/><line x1="353.2" x2="353.2" y1="1448.0" y2="1451.0" stroke="#d9d9d9" stroke-width="1"/><line x1="364.6" x2="364.6" y1="1448.0" y2="1451.0" stroke="#d9d9d9" stroke-width="1"/><line x1="375.9" x2="375.9" y1="1448.0" y2="1451.0" stroke="#d9d9d9" stroke-width="1"/><line x1="387.2" x2="387.2" y1="1448.0" y2="1451.0" stroke="#d9d9d9" stroke-width="1"/><line x1="398.6" x2="398.6" y1="1448.0" y2="1451.0" stroke="#d9d9d9" stroke-width="1"/><line x1="409.9" x2="409.9" y1="1448.0" y2="1451.0" stroke="#d9d9d9" stroke-width="1"/><line x1="421.3" x2="421.3" y1="1448.0" y2="1451.0" stroke="#d9d9d9" stroke-width="1"/><line x1="432.6" x2="432.6" y1="1448.0" y2="1451.0" stroke="#d9d9d9" stroke-width="1"/><line x1="443.9" x2="443.9" y1="1448.0" y2="1451.0" stroke="#d9d9d9" stroke-width="1"/><line x1="455.3" x2="455.3" y1="1448.0" y2="1451.0" stroke="#d9d9d9" stroke-width="1"/><line x1="466.6" x2="466.6" y1="1448.0" y2="1451.0" stroke="#d9d9d9" stroke-width="1"/><line x1="477.9" x2="477.9" y1="1448.0" y2="1451.0" stroke="#d9d9d9" stroke-width="1"/><line x1="489.3" x2="489.3" y1="1448.0" y2="1451.0" stroke="#d9d9d9" stroke-width="1"/><line x1="500.6" x2="500.6" y1="1448.0" y2="1451.0" stroke="#d9d9d9" stroke-width="1"/><line x1="511.9" x2="511.9" y1="1448.0" y2="1451.0" stroke="#d9d9d9" stroke-width="1"/><line x1="523.3" x2="523.3" y1="1448.0" y2="1451.0" stroke="#d9d9d9" stroke-width="1"/><line x1="534.6" x2="534.6" y1="1448.0" y2="1451.0" stroke="#d9d9d9" stroke-width="1"/><line x1="546.0" x2="546.0" y1="1448.0" y2="1451.0" stroke="#d9d9d9" stroke-width="1"/><line x1="557.3" x2="557.3" y1="1448.0" y2="1451.0" stroke="#d9d9d9" stroke-width="1"/><text transform="translate(161.3,1453.5) scale(1,1) rotate(-90)" font-size="10" text-anchor="end" fill="#484848" font-family="&quot;Liberation Serif&quot;,&quot;Noto Serif CJK SC&quot;,serif" dy="3.4" textLength="48.6" lengthAdjust="spacing">2020-06-18</text><text transform="translate(172.6,1453.5) scale(1,1) rotate(-90)" font-size="10" text-anchor="end" fill="#484848" font-family="&quot;Liberation Serif&quot;,&quot;Noto Serif CJK SC&quot;,serif" dy="3.4" textLength="48.6" lengthAdjust="spacing">2020-07-18</text><text transform="translate(184.0,1453.5) scale(1,1) rotate(-90)" font-size="10" text-anchor="end" fill="#484848" font-family="&quot;Liberation Serif&quot;,&quot;Noto Serif CJK SC&quot;,serif" dy="3.4" textLength="48.6" lengthAdjust="spacing">2020-08-18</text><text transform="translate(195.3,1453.5) scale(1,1) rotate(-90)" font-size="10" text-anchor="end" fill="#484848" font-family="&quot;Liberation Serif&quot;,&quot;Noto Serif CJK SC&quot;,serif" dy="3.4" textLength="48.6" lengthAdjust="spacing">2020-09-18</text><text transform="translate(206.6,1453.5) scale(1,1) rotate(-90)" font-size="10" text-anchor="end" fill="#484848" font-family="&quot;Liberation Serif&quot;,&quot;Noto Serif CJK SC&quot;,serif" dy="3.4" textLength="48.6" lengthAdjust="spacing">2020-10-18</text><text transform="translate(218.0,1453.5) scale(1,1) rotate(-90)" font-size="10" text-anchor="end" fill="#484848" font-family="&quot;Liberation Serif&quot;,&quot;Noto Serif CJK SC&quot;,serif" dy="3.4" textLength="48.6" lengthAdjust="spacing">2020-11-18</text><text transform="translate(229.3,1453.5) scale(1,1) rotate(-90)" font-size="10" text-anchor="end" fill="#484848" font-family="&quot;Liberation Serif&quot;,&quot;Noto Serif CJK SC&quot;,serif" dy="3.4" textLength="48.6" lengthAdjust="spacing">2020-12-18</text><text transform="translate(240.7,1453.5) scale(1,1) rotate(-90)" font-size="10" text-anchor="end" fill="#484848" font-family="&quot;Liberation Serif&quot;,&quot;Noto Serif CJK SC&quot;,serif" dy="3.4" textLength="48.6" lengthAdjust="spacing">2021-01-18</text><text transform="translate(252.0,1453.5) scale(1,1) rotate(-90)" font-size="10" text-anchor="end" fill="#484848" font-family="&quot;Liberation Serif&quot;,&quot;Noto Serif CJK SC&quot;,serif" dy="3.4" textLength="48.6" lengthAdjust="spacing">2021-02-18</text><text transform="translate(263.3,1453.5) scale(1,1) rotate(-90)" font-size="10" text-anchor="end" fill="#484848" font-family="&quot;Liberation Serif&quot;,&quot;Noto Serif CJK SC&quot;,serif" dy="3.4" textLength="48.6" lengthAdjust="spacing">2021-03-18</text><text transform="translate(274.7,1453.5) scale(1,1) rotate(-90)" font-size="10" text-anchor="end" fill="#484848" font-family="&quot;Liberation Serif&quot;,&quot;Noto Serif CJK SC&quot;,serif" dy="3.4" textLength="48.6" lengthAdjust="spacing">2021-04-18</text><text transform="translate(286.0,1453.5) scale(1,1) rotate(-90)" font-size="10" text-anchor="end" fill="#484848" font-family="&quot;Liberation Serif&quot;,&quot;Noto Serif CJK SC&quot;,serif" dy="3.4" textLength="48.6" lengthAdjust="spacing">2021-05-18</text><text transform="translate(297.3,1453.5) scale(1,1) rotate(-90)" font-size="10" text-anchor="end" fill="#484848" font-family="&quot;Liberation Serif&quot;,&quot;Noto Serif CJK SC&quot;,serif" dy="3.4" textLength="48.6" lengthAdjust="spacing">2021-06-18</text><text transform="translate(308.7,1453.5) scale(1,1) rotate(-90)" font-size="10" text-anchor="end" fill="#484848" font-family="&quot;Liberation Serif&quot;,&quot;Noto Serif CJK SC&quot;,serif" dy="3.4" textLength="48.6" lengthAdjust="spacing">2021-07-18</text><text transform="translate(320.0,1453.5) scale(1,1) rotate(-90)" font-size="10" text-anchor="end" fill="#484848" font-family="&quot;Liberation Serif&quot;,&quot;Noto Serif CJK SC&quot;,serif" dy="3.4" textLength="48.6" lengthAdjust="spacing">2021-08-18</text><text transform="translate(331.4,1453.5) scale(1,1) rotate(-90)" font-size="10" text-anchor="end" fill="#484848" font-family="&quot;Liberation Serif&quot;,&quot;Noto Serif CJK SC&quot;,serif" dy="3.4" textLength="48.6" lengthAdjust="spacing">2021-09-18</text><text transform="translate(342.7,1453.5) scale(1,1) rotate(-90)" font-size="10" text-anchor="end" fill="#484848" font-family="&quot;Liberation Serif&quot;,&quot;Noto Serif CJK SC&quot;,serif" dy="3.4" textLength="48.6" lengthAdjust="spacing">2021-10-18</text><text transform="translate(354.0,1453.5) scale(1,1) rotate(-90)" font-size="10" text-anchor="end" fill="#484848" font-family="&quot;Liberation Serif&quot;,&quot;Noto Serif CJK SC&quot;,serif" dy="3.4" textLength="48.6" lengthAdjust="spacing">2021-11-18</text><text transform="translate(365.4,1453.5) scale(1,1) rotate(-90)" font-size="10" text-anchor="end" fill="#484848" font-family="&quot;Liberation Serif&quot;,&quot;Noto Serif CJK SC&quot;,serif" dy="3.4" textLength="48.6" lengthAdjust="spacing">2021-12-18</text><text transform="translate(376.7,1453.5) scale(1,1) rotate(-90)" font-size="10" text-anchor="end" fill="#484848" font-family="&quot;Liberation Serif&quot;,&quot;Noto Serif CJK SC&quot;,serif" dy="3.4" textLength="48.6" lengthAdjust="spacing">2022-01-18</text><text transform="translate(388.0,1453.5) scale(1,1) rotate(-90)" font-size="10" text-anchor="end" fill="#484848" font-family="&quot;Liberation Serif&quot;,&quot;Noto Serif CJK SC&quot;,serif" dy="3.4" textLength="48.6" lengthAdjust="spacing">2022-02-18</text><text transform="translate(399.4,1453.5) scale(1,1) rotate(-90)" font-size="10" text-anchor="end" fill="#484848" font-family="&quot;Liberation Serif&quot;,&quot;Noto Serif CJK SC&quot;,serif" dy="3.4" textLength="48.6" lengthAdjust="spacing">2022-03-18</text><text transform="translate(410.7,1453.5) scale(1,1) rotate(-90)" font-size="10" text-anchor="end" fill="#484848" font-family="&quot;Liberation Serif&quot;,&quot;Noto Serif CJK SC&quot;,serif" dy="3.4" textLength="48.6" lengthAdjust="spacing">2022-04-18</text><text transform="translate(422.1,1453.5) scale(1,1) rotate(-90)" font-size="10" text-anchor="end" fill="#484848" font-family="&quot;Liberation Serif&quot;,&quot;Noto Serif CJK SC&quot;,serif" dy="3.4" textLength="48.6" lengthAdjust="spacing">2022-05-18</text><text transform="translate(433.4,1453.5) scale(1,1) rotate(-90)" font-size="10" text-anchor="end" fill="#484848" font-family="&quot;Liberation Serif&quot;,&quot;Noto Serif CJK SC&quot;,serif" dy="3.4" textLength="48.6" lengthAdjust="spacing">2022-06-18</text><text transform="translate(444.7,1453.5) scale(1,1) rotate(-90)" font-size="10" text-anchor="end" fill="#484848" font-family="&quot;Liberation Serif&quot;,&quot;Noto Serif CJK SC&quot;,serif" dy="3.4" textLength="48.6" lengthAdjust="spacing">2022-07-18</text><text transform="translate(456.1,1453.5) scale(1,1) rotate(-90)" font-size="10" text-anchor="end" fill="#484848" font-family="&quot;Liberation Serif&quot;,&quot;Noto Serif CJK SC&quot;,serif" dy="3.4" textLength="48.6" lengthAdjust="spacing">2022-08-18</text><text transform="translate(467.4,1453.5) scale(1,1) rotate(-90)" font-size="10" text-anchor="end" fill="#484848" font-family="&quot;Liberation Serif&quot;,&quot;Noto Serif CJK SC&quot;,serif" dy="3.4" textLength="48.6" lengthAdjust="spacing">2022-09-18</text><text transform="translate(478.7,1453.5) scale(1,1) rotate(-90)" font-size="10" text-anchor="end" fill="#484848" font-family="&quot;Liberation Serif&quot;,&quot;Noto Serif CJK SC&quot;,serif" dy="3.4" textLength="48.6" lengthAdjust="spacing">2022-10-18</text><text transform="translate(490.1,1453.5) scale(1,1) rotate(-90)" font-size="10" text-anchor="end" fill="#484848" font-family="&quot;Liberation Serif&quot;,&quot;Noto Serif CJK SC&quot;,serif" dy="3.4" textLength="48.6" lengthAdjust="spacing">2022-11-18</text><text transform="translate(501.4,1453.5) scale(1,1) rotate(-90)" font-size="10" text-anchor="end" fill="#484848" font-family="&quot;Liberation Serif&quot;,&quot;Noto Serif CJK SC&quot;,serif" dy="3.4" textLength="48.6" lengthAdjust="spacing">2022-12-18</text><text transform="translate(512.7,1453.5) scale(1,1) rotate(-90)" font-size="10" text-anchor="end" fill="#484848" font-family="&quot;Liberation Serif&quot;,&quot;Noto Serif CJK SC&quot;,serif" dy="3.4" textLength="48.6" lengthAdjust="spacing">2023-01-18</text><text transform="translate(524.1,1453.5) scale(1,1) rotate(-90)" font-size="10" text-anchor="end" fill="#484848" font-family="&quot;Liberation Serif&quot;,&quot;Noto Serif CJK SC&quot;,serif" dy="3.4" textLength="48.6" lengthAdjust="spacing">2023-02-18</text><text transform="translate(535.4,1453.5) scale(1,1) rotate(-90)" font-size="10" text-anchor="end" fill="#484848" font-family="&quot;Liberation Serif&quot;,&quot;Noto Serif CJK SC&quot;,serif" dy="3.4" textLength="48.6" lengthAdjust="spacing">2023-03-18</text><text transform="translate(546.8,1453.5) scale(1,1) rotate(-90)" font-size="10" text-anchor="end" fill="#484848" font-family="&quot;Liberation Serif&quot;,&quot;Noto Serif CJK SC&quot;,serif" dy="3.4" textLength="48.6" lengthAdjust="spacing">2023-04-18</text><text transform="translate(558.1,1453.5) scale(1,1) rotate(-90)" font-size="10" text-anchor="end" fill="#484848" font-family="&quot;Liberation Serif&quot;,&quot;Noto Serif CJK SC&quot;,serif" dy="3.4" textLength="48.6" lengthAdjust="spacing">2023-05-18</text><text x="341.0" y="1279.4" font-size="12.4" text-anchor="middle" fill="#262626" font-family="&quot;Liberation Serif&quot;,&quot;Noto Serif CJK SC&quot;,serif" textLength="154.7" lengthAdjust="spacing" text-decoration="underline" font-weight="500">期货成交量(活跃合约):纯碱</text><polyline points="160.5,1446.9 161.0,1446.1 161.5,1447.3 162.0,1444.8 162.5,1445.0 163.0,1444.3 163.5,1446.1 164.0,1446.1 164.5,1446.4 165.0,1446.0 165.5,1446.5 166.0,1444.5 166.5,1445.5 167.0,1444.1 167.5,1444.3 168.0,1445.5 168.5,1446.1 169.0,1445.4 169.5,1446.2 170.0,1444.0 170.5,1445.4 171.0,1445.4 171.5,1442.5 172.0,1444.0 172.5,1441.8 173.0,1441.7 173.5,1443.0 174.0,1444.6 174.5,1445.0 175.0,1444.7 175.5,1443.1 176.0,1443.9 176.5,1444.6 177.0,1444.0 177.5,1440.4 178.0,1437.8 178.5,1437.6 179.0,1435.3 179.5,1434.4 180.0,1433.8 180.5,1434.9 181.0,1436.1 181.5,1435.9 182.0,1440.4 182.5,1442.6 183.0,1442.3 183.5,1445.6 184.0,1438.8 184.5,1426.4 185.0,1434.1 185.5,1436.6 186.0,1431.0 186.5,1431.7 187.0,1429.5 187.5,1426.2 188.0,1421.6 188.5,1433.5 189.0,1430.0 189.5,1417.3 190.0,1422.5 190.5,1426.1 191.0,1427.0 191.5,1430.0 192.0,1431.4 192.5,1424.8 193.0,1423.6 193.5,1430.2 194.0,1437.5 194.5,1431.9 195.0,1426.7 195.5,1430.6 196.0,1427.0 196.5,1431.2 197.0,1429.5 197.5,1425.9 198.0,1433.4 198.5,1432.7 199.0,1435.4 199.5,1434.7 200.0,1433.1 200.5,1435.7 201.0,1434.2 201.5,1437.0 202.0,1437.2 202.5,1436.7 203.0,1437.4 203.5,1436.8 204.0,1438.6 204.5,1440.2 205.0,1438.4 205.5,1440.4 206.0,1439.5 206.5,1437.7 207.0,1437.3 207.5,1436.0 208.0,1437.5 208.5,1438.3 209.0,1439.5 209.5,1438.9 210.0,1439.7 210.5,1440.3 211.0,1438.9 211.5,1438.7 212.0,1439.8 212.5,1438.4 213.0,1439.2 213.5,1440.2 214.0,1438.0 214.5,1440.9 215.0,1439.3 215.5,1438.6 216.0,1436.5 216.5,1438.5 217.0,1435.3 217.5,1439.5 218.0,1438.0 218.5,1438.0 219.0,1436.8 219.5,1438.9 220.0,1439.1 220.5,1435.2 221.0,1434.4 221.5,1435.5 222.0,1433.4 222.5,1437.1 223.0,1436.9 223.5,1436.8 224.0,1439.6 224.5,1433.1 225.0,1438.5 225.5,1437.5 226.0,1425.8 226.5,1432.8 227.0,1436.8 227.5,1429.6 228.0,1437.5 228.5,1435.1 229.0,1439.7 229.5,1438.7 230.0,1435.6 230.5,1433.8 231.0,1439.4 231.5,1434.0 232.0,1435.4 232.5,1435.6 233.0,1433.6 233.5,1437.5 234.0,1440.9 234.5,1440.2 235.0,1433.8 235.5,1439.1 236.0,1437.7 236.5,1434.7 237.0,1433.9 237.5,1433.5 238.0,1434.6 238.5,1436.6 239.0,1433.5 239.5,1439.7 240.0,1438.8 240.5,1435.4 241.0,1440.4 241.5,1437.3 242.0,1438.4 242.5,1438.2 243.0,1438.1 243.5,1438.8 244.0,1437.1 244.5,1440.3 245.0,1439.4 245.5,1437.4 246.0,1437.5 246.5,1437.9 247.0,1438.0 247.5,1440.2 248.0,1439.8 248.5,1440.6 249.0,1440.6 249.5,1442.5 250.0,1442.2 250.5,1442.0 251.0,1442.2 251.5,1440.6 252.0,1441.1 252.5,1441.5 253.0,1437.0 253.5,1436.3 254.0,1433.3 254.5,1431.2 255.0,1430.2 255.5,1428.2 256.0,1423.8 256.5,1417.7 257.0,1420.2 257.5,1419.3 258.0,1422.5 258.5,1421.2 259.0,1422.0 259.5,1409.7 260.0,1416.8 260.5,1418.9 261.0,1420.7 261.5,1422.2 262.0,1426.9 262.5,1425.1 263.0,1429.7 263.5,1429.0 264.0,1427.6 264.5,1433.3 265.0,1427.1 265.5,1430.5 266.0,1432.8 266.5,1431.0 267.0,1428.2 267.5,1433.1 268.0,1429.6 268.5,1432.9 269.0,1435.3 269.5,1437.6 270.0,1436.4 270.5,1440.5 271.0,1438.2 271.5,1430.6 272.0,1431.1 272.5,1425.0 273.0,1426.2 273.5,1424.2 274.0,1425.1 274.5,1415.7 275.0,1420.5 275.5,1426.3 276.0,1425.7 276.5,1429.2 277.0,1424.6 277.5,1428.2 278.0,1427.5 278.5,1428.0 279.0,1431.4 279.5,1430.8 280.0,1429.4 280.5,1431.1 281.0,1427.6 281.5,1423.7 282.0,1405.8 282.5,1397.7 283.0,1386.3 283.5,1368.3 284.0,1381.9 284.5,1397.8 285.0,1408.1 285.5,1415.5 286.0,1414.2 286.5,1420.2 287.0,1429.3 287.5,1430.9 288.0,1430.8 288.5,1428.1 289.0,1429.0 289.5,1430.9 290.0,1433.2 290.5,1433.2 291.0,1433.2 291.5,1435.7 292.0,1432.2 292.5,1432.6 293.0,1438.0 293.5,1437.3 294.0,1437.7 294.5,1434.4 295.0,1434.6 295.5,1434.7 296.0,1438.4 296.5,1437.6 297.0,1439.8 297.5,1440.7 298.0,1436.7 298.5,1437.2 299.0,1435.5 299.5,1435.6 300.0,1438.1 300.5,1440.8 301.0,1438.6 301.5,1437.2 302.0,1439.4 302.5,1438.6 303.0,1439.2 303.5,1439.4 304.0,1439.5 304.5,1440.2 305.0,1439.3 305.5,1437.8 306.0,1438.0 306.5,1441.2 307.0,1440.4 307.5,1441.1 308.0,1441.2 308.5,1441.7 309.0,1438.3 309.5,1441.1 310.0,1438.9 310.5,1438.3 311.0,1441.9 311.5,1441.8 312.0,1442.8 312.5,1442.2 313.0,1436.1 313.5,1435.3 314.0,1433.2 314.5,1438.0 315.0,1436.0 315.5,1434.9 316.0,1437.7 316.5,1433.7 317.0,1431.7 317.5,1430.2 318.0,1429.4 318.5,1432.0 319.0,1427.8 319.5,1432.0 320.0,1430.2 320.5,1432.9 321.0,1432.6 321.5,1432.3 322.0,1430.0 322.5,1427.2 323.0,1428.2 323.5,1431.1 324.0,1430.8 324.5,1430.9 325.0,1432.4 325.5,1430.5 326.0,1423.3 326.5,1422.6 327.0,1421.8 327.5,1425.5 328.0,1421.6 328.5,1419.1 329.0,1418.0 329.5,1420.5 330.0,1411.7 330.5,1417.0 331.0,1422.2 331.5,1420.2 332.0,1424.9 332.5,1421.4 333.0,1426.0 333.5,1426.2 334.0,1425.1 334.5,1426.9 335.0,1426.3 335.5,1429.1 336.0,1431.6 336.5,1431.8 337.0,1429.3 337.5,1429.1 338.0,1431.0 338.5,1426.2 339.0,1427.1 339.5,1427.1 340.0,1426.1 340.5,1422.9 341.0,1419.5 341.5,1422.1 342.0,1424.4 342.5,1422.5 343.0,1431.7 343.5,1439.5 344.0,1426.0 344.5,1419.0 345.0,1412.7 345.5,1407.5 346.0,1394.1 346.5,1398.8 347.0,1405.7 347.5,1410.8 348.0,1411.7 348.5,1419.5 349.0,1417.3 349.5,1419.2 350.0,1421.7 350.5,1427.4 351.0,1426.8 351.5,1431.9 352.0,1431.9 352.5,1430.1 353.0,1434.5 353.5,1433.7 354.0,1436.7 354.5,1434.8 355.0,1436.2 355.5,1437.2 356.0,1439.6 356.5,1439.1 357.0,1442.7 357.5,1442.0 358.0,1443.6 358.5,1438.4 359.0,1428.5 359.5,1426.3 360.0,1425.9 360.5,1425.1 361.0,1425.3 361.5,1427.3 362.0,1426.9 362.5,1430.8 363.0,1430.6 363.5,1428.6 364.0,1428.6 364.5,1429.9 365.0,1429.6 365.5,1430.2 366.0,1428.3 366.5,1430.0 367.0,1430.7 367.5,1431.5 368.0,1430.8 368.5,1429.2 369.0,1432.9 369.5,1434.4 370.0,1433.2 370.5,1433.7 371.0,1432.3 371.5,1433.8 372.0,1433.4 372.5,1434.0 373.0,1433.4 373.5,1432.0 374.0,1429.1 374.5,1426.3 375.0,1419.3 375.5,1425.1 376.0,1428.2 376.5,1425.8 377.0,1429.3 377.5,1428.8 378.0,1416.3 378.5,1424.3 379.0,1425.2 379.5,1430.6 380.0,1428.2 380.5,1427.7 381.0,1431.9 381.5,1432.0 382.0,1432.1 382.5,1431.5 383.0,1431.7 383.5,1436.5 384.0,1427.0 384.5,1423.8 385.0,1416.5 385.5,1418.2 386.0,1416.8 386.5,1406.2 387.0,1410.5 387.5,1418.3 388.0,1421.7 388.5,1417.1 389.0,1419.2 389.5,1420.8 390.0,1417.5 390.5,1415.9 391.0,1421.2 391.5,1416.4 392.0,1419.1 392.5,1417.7 393.0,1419.4 393.5,1421.9 394.0,1422.6 394.5,1416.9 395.0,1422.2 395.5,1420.2 396.0,1423.2 396.5,1422.6 397.0,1427.3 397.5,1429.7 398.0,1430.8 398.5,1431.4 399.0,1431.2 399.5,1432.2 400.0,1435.0 400.5,1431.4 401.0,1429.2 401.5,1426.5 402.0,1414.4 402.5,1419.7 403.0,1421.3 403.5,1411.4 404.0,1415.7 404.5,1416.2 405.0,1419.4 405.5,1422.6 406.0,1414.1 406.5,1423.1 407.0,1418.3 407.5,1408.2 408.0,1414.6 408.5,1421.8 409.0,1420.2 409.5,1422.5 410.0,1422.7 410.5,1427.4 411.0,1425.1 411.5,1414.3 412.0,1411.7 412.5,1408.2 413.0,1420.8 413.5,1416.4 414.0,1420.4 414.5,1418.0 415.0,1422.0 415.5,1423.3 416.0,1419.7 416.5,1416.4 417.0,1412.1 417.5,1412.8 418.0,1411.5 418.5,1404.2 419.0,1416.5 419.5,1419.6 420.0,1417.6 420.5,1420.3 421.0,1421.7 421.5,1421.1 422.0,1423.4 422.5,1423.4 423.0,1420.5 423.5,1417.5 424.0,1412.3 424.5,1416.6 425.0,1421.8 425.5,1420.7 426.0,1424.6 426.5,1420.8 427.0,1423.6 427.5,1425.6 428.0,1426.5 428.5,1425.5 429.0,1428.8 429.5,1424.3 430.0,1421.6 430.5,1423.0 431.0,1429.8 431.5,1424.6 432.0,1428.9 432.5,1420.4 433.0,1422.7 433.5,1419.9 434.0,1412.3 434.5,1417.6 435.0,1418.0 435.5,1427.0 436.0,1431.4 436.5,1427.8 437.0,1428.9 437.5,1421.7 438.0,1420.9 438.5,1425.2 439.0,1425.2 439.5,1422.7 440.0,1423.2 440.5,1419.4 441.0,1421.9 441.5,1423.4 442.0,1420.7 442.5,1422.3 443.0,1424.0 443.5,1424.8 444.0,1423.7 444.5,1424.2 445.0,1423.1 445.5,1425.7 446.0,1425.0 446.5,1429.5 447.0,1428.8 447.5,1434.6 448.0,1432.6 448.5,1436.0 449.0,1436.5 449.5,1440.5 450.0,1436.6 450.5,1428.5 451.0,1424.2 451.5,1422.4 452.0,1423.2 452.5,1413.7 453.0,1419.1 453.5,1416.4 454.0,1419.4 454.5,1420.3 455.0,1418.2 455.5,1422.3 456.0,1408.7 456.5,1419.5 457.0,1417.0 457.5,1402.8 458.0,1415.5 458.5,1418.5 459.0,1423.0 459.5,1421.2 460.0,1415.9 460.5,1419.7 461.0,1416.6 461.5,1416.0 462.0,1411.5 462.5,1407.6 463.0,1413.7 463.5,1421.4 464.0,1420.0 464.5,1426.4 465.0,1421.1 465.5,1415.5 466.0,1416.5 466.5,1421.3 467.0,1415.9 467.5,1416.5 468.0,1417.4 468.5,1408.6 469.0,1404.2 469.5,1415.4 470.0,1409.6 470.5,1411.6 471.0,1415.0 471.5,1416.9 472.0,1418.3 472.5,1417.5 473.0,1418.4 473.5,1421.2 474.0,1420.2 474.5,1422.9 475.0,1418.9 475.5,1419.4 476.0,1418.8 476.5,1418.3 477.0,1424.6 477.5,1420.5 478.0,1420.1 478.5,1420.6 479.0,1419.8 479.5,1417.9 480.0,1420.7 480.5,1418.5 481.0,1426.1 481.5,1418.4 482.0,1418.5 482.5,1415.4 483.0,1419.7 483.5,1422.2 484.0,1414.8 484.5,1422.8 485.0,1419.2 485.5,1417.8 486.0,1416.0 486.5,1421.8 487.0,1418.8 487.5,1419.5 488.0,1427.3 488.5,1429.4 489.0,1427.6 489.5,1419.0 490.0,1419.4 490.5,1422.3 491.0,1420.2 491.5,1425.2 492.0,1425.3 492.5,1424.0 493.0,1425.8 493.5,1425.1 494.0,1421.9 494.5,1428.8 495.0,1437.5 495.5,1411.7 496.0,1393.1 496.5,1408.8 497.0,1413.9 497.5,1415.7 498.0,1416.4 498.5,1414.3 499.0,1410.8 499.5,1410.2 500.0,1418.5 500.5,1419.2 501.0,1406.9 501.5,1414.7 502.0,1405.9 502.5,1415.2 503.0,1413.1 503.5,1408.5 504.0,1415.6 504.5,1413.6 505.0,1411.0 505.5,1419.8 506.0,1414.7 506.5,1413.2 507.0,1410.6 507.5,1409.7 508.0,1415.8 508.5,1414.6 509.0,1412.8 509.5,1406.2 510.0,1417.7 510.5,1420.5 511.0,1422.1 511.5,1424.9 512.0,1426.1 512.5,1428.5 513.0,1428.6 513.5,1428.0 514.0,1428.2 514.5,1427.5 515.0,1429.7 515.5,1424.5 516.0,1424.5 516.5,1422.3 517.0,1419.2 517.5,1418.4 518.0,1418.1 518.5,1413.6 519.0,1414.6 519.5,1413.1 520.0,1410.3 520.5,1405.2 521.0,1414.7 521.5,1413.9 522.0,1419.3 522.5,1416.9 523.0,1412.6 523.5,1416.5 524.0,1423.2 524.5,1420.2 525.0,1420.7 525.5,1422.0 526.0,1424.2 526.5,1430.2 527.0,1424.8 527.5,1425.1 528.0,1431.1 528.5,1427.9 529.0,1430.4 529.5,1427.2 530.0,1417.3 530.5,1421.2 531.0,1423.0 531.5,1425.4 532.0,1422.0 532.5,1422.2 533.0,1428.9 533.5,1427.2 534.0,1429.1 534.5,1430.6 535.0,1426.7 535.5,1427.1 536.0,1430.7 536.5,1424.7 537.0,1414.5 537.5,1410.3 538.0,1415.8 538.5,1419.8 539.0,1419.4 539.5,1418.4 540.0,1419.4 540.5,1416.9 541.0,1415.1 541.5,1421.9 542.0,1421.1 542.5,1415.7 543.0,1417.4 543.5,1413.5 544.0,1412.1 544.5,1419.4 545.0,1417.3 545.5,1407.0 546.0,1402.8 546.5,1385.8 547.0,1376.0 547.5,1389.9 548.0,1383.9 548.5,1401.8 549.0,1392.0 549.5,1397.1 550.0,1403.3 550.5,1406.9 551.0,1400.1 551.5,1411.3 552.0,1405.3 552.5,1395.3 553.0,1394.3 553.5,1389.4 554.0,1384.6 554.5,1379.2 555.0,1387.3 555.5,1376.6 556.0,1382.4 556.5,1379.9 557.0,1369.4 557.5,1308.4" fill="none" stroke="#5b9bd5" stroke-width="1.8" stroke-linejoin="round" stroke-linecap="round" /><line x1="277.9" x2="294.6" y1="1516.8" y2="1516.8" stroke="#5b9bd5" stroke-width="2"/><text x="296.0" y="1520.0" font-size="8.9" text-anchor="start" fill="#595959" font-family="&quot;Liberation Serif&quot;,&quot;Noto Serif CJK SC&quot;,serif" textLength="111.0" lengthAdjust="spacing" >期货成交量(活跃合约):纯碱</text></svg>
<svg class="chart" style="left:610px;top:1260px" width="490" height="290" viewBox="610 1260 490 290"><line x1="671.6" x2="1067.8" y1="1451.2" y2="1451.2" stroke="#d9d9d9" stroke-width="1"/><line x1="671.6" x2="1067.8" y1="1430.5" y2="1430.5" stroke="#d9d9d9" stroke-width="1"/><line x1="671.6" x2="1067.8" y1="1409.7" y2="1409.7" stroke="#d9d9d9" stroke-width="1"/><line x1="671.6" x2="1067.8" y1="1389.0" y2="1389.0" stroke="#d9d9d9" stroke-width="1"/><line x1="671.6" x2="1067.8" y1="1368.2" y2="1368.2" stroke="#d9d9d9" stroke-width="1"/><line x1="671.6" x2="1067.8" y1="1347.5" y2="1347.5" stroke="#d9d9d9" stroke-width="1"/><line x1="671.6" x2="1067.8" y1="1326.7" y2="1326.7" stroke="#d9d9d9" stroke-width="1"/><line x1="671.6" x2="1067.8" y1="1306.0" y2="1306.0" stroke="#d9d9d9" stroke-width="1"/><text x="660.4" y="1454.2" font-size="8.8" text-anchor="end" fill="#595959" font-family="&quot;Liberation Serif&quot;,&quot;Noto Serif CJK SC&quot;,serif" textLength="4.4" lengthAdjust="spacing" >0</text><text x="660.4" y="1433.4" font-size="8.8" text-anchor="end" fill="#595959" font-family="&quot;Liberation Serif&quot;,&quot;Noto Serif CJK SC&quot;,serif" textLength="26.3" lengthAdjust="spacing" >200000</text><text x="660.4" y="1412.7" font-size="8.8" text-anchor="end" fill="#595959" font-family="&quot;Liberation Serif&quot;,&quot;Noto Serif CJK SC&quot;,serif" textLength="26.3" lengthAdjust="spacing" >400000</text><text x="660.4" y="1392.0" font-size="8.8" text-anchor="end" fill="#595959" font-family="&quot;Liberation Serif&quot;,&quot;Noto Serif CJK SC&quot;,serif" textLength="26.3" lengthAdjust="spacing" >600000</text><text x="660.4" y="1371.2" font-size="8.8" text-anchor="end" fill="#595959" font-family="&quot;Liberation Serif&quot;,&quot;Noto Serif CJK SC&quot;,serif" textLength="26.3" lengthAdjust="spacing" >800000</text><text x="660.4" y="1350.5" font-size="8.8" text-anchor="end" fill="#595959" font-family="&quot;Liberation Serif&quot;,&quot;Noto Serif CJK SC&quot;,serif" textLength="30.7" lengthAdjust="spacing" >1000000</text><text x="660.4" y="1329.7" font-size="8.8" text-anchor="end" fill="#595959" font-family="&quot;Liberation Serif&quot;,&quot;Noto Serif CJK SC&quot;,serif" textLength="30.7" lengthAdjust="spacing" >1200000</text><text x="660.4" y="1309.0" font-size="8.8" text-anchor="end" fill="#595959" font-family="&quot;Liberation Serif&quot;,&quot;Noto Serif CJK SC&quot;,serif" textLength="30.7" lengthAdjust="spacing" >1400000</text><line x1="671.6" x2="671.6" y1="1451.2" y2="1454.2" stroke="#d9d9d9" stroke-width="1"/><line x1="682.9" x2="682.9" y1="1451.2" y2="1454.2" stroke="#d9d9d9" stroke-width="1"/><line x1="694.3" x2="694.3" y1="1451.2" y2="1454.2" stroke="#d9d9d9" stroke-width="1"/><line x1="705.6" x2="705.6" y1="1451.2" y2="1454.2" stroke="#d9d9d9" stroke-width="1"/><line x1="716.9" x2="716.9" y1="1451.2" y2="1454.2" stroke="#d9d9d9" stroke-width="1"/><line x1="728.2" x2="728.2" y1="1451.2" y2="1454.2" stroke="#d9d9d9" stroke-width="1"/><line x1="739.6" x2="739.6" y1="1451.2" y2="1454.2" stroke="#d9d9d9" stroke-width="1"/><line x1="750.9" x2="750.9" y1="1451.2" y2="1454.2" stroke="#d9d9d9" stroke-width="1"/><line x1="762.2" x2="762.2" y1="1451.2" y2="1454.2" stroke="#d9d9d9" stroke-width="1"/><line x1="773.6" x2="773.6" y1="1451.2" y2="1454.2" stroke="#d9d9d9" stroke-width="1"/><line x1="784.9" x2="784.9" y1="1451.2" y2="1454.2" stroke="#d9d9d9" stroke-width="1"/><line x1="796.2" x2="796.2" y1="1451.2" y2="1454.2" stroke="#d9d9d9" stroke-width="1"/><line x1="807.6" x2="807.6" y1="1451.2" y2="1454.2" stroke="#d9d9d9" stroke-width="1"/><line x1="818.9" x2="818.9" y1="1451.2" y2="1454.2" stroke="#d9d9d9" stroke-width="1"/><line x1="830.2" x2="830.2" y1="1451.2" y2="1454.2" stroke="#d9d9d9" stroke-width="1"/><line x1="841.5" x2="841.5" y1="1451.2" y2="1454.2" stroke="#d9d9d9" stroke-width="1"/><line x1="852.9" x2="852.9" y1="1451.2" y2="1454.2" stroke="#d9d9d9" stroke-width="1"/><line x1="864.2" x2="864.2" y1="1451.2" y2="1454.2" stroke="#d9d9d9" stroke-width="1"/><line x1="875.5" x2="875.5" y1="1451.2" y2="1454.2" stroke="#d9d9d9" stroke-width="1"/><line x1="886.9" x2="886.9" y1="1451.2" y2="1454.2" stroke="#d9d9d9" stroke-width="1"/><line x1="898.2" x2="898.2" y1="1451.2" y2="1454.2" stroke="#d9d9d9" stroke-width="1"/><line x1="909.5" x2="909.5" y1="1451.2" y2="1454.2" stroke="#d9d9d9" stroke-width="1"/><line x1="920.9" x2="920.9" y1="1451.2" y2="1454.2" stroke="#d9d9d9" stroke-width="1"/><line x1="932.2" x2="932.2" y1="1451.2" y2="1454.2" stroke="#d9d9d9" stroke-width="1"/><line x1="943.5" x2="943.5" y1="1451.2" y2="1454.2" stroke="#d9d9d9" stroke-width="1"/><line x1="954.9" x2="954.9" y1="1451.2" y2="1454.2" stroke="#d9d9d9" stroke-width="1"/><line x1="966.2" x2="966.2" y1="1451.2" y2="1454.2" stroke="#d9d9d9" stroke-width="1"/><line x1="977.5" x2="977.5" y1="1451.2" y2="1454.2" stroke="#d9d9d9" stroke-width="1"/><line x1="988.8" x2="988.8" y1="1451.2" y2="1454.2" stroke="#d9d9d9" stroke-width="1"/><line x1="1000.2" x2="1000.2" y1="1451.2" y2="1454.2" stroke="#d9d9d9" stroke-width="1"/><line x1="1011.5" x2="1011.5" y1="1451.2" y2="1454.2" stroke="#d9d9d9" stroke-width="1"/><line x1="1022.8" x2="1022.8" y1="1451.2" y2="1454.2" stroke="#d9d9d9" stroke-width="1"/><line x1="1034.2" x2="1034.2" y1="1451.2" y2="1454.2" stroke="#d9d9d9" stroke-width="1"/><line x1="1045.5" x2="1045.5" y1="1451.2" y2="1454.2" stroke="#d9d9d9" stroke-width="1"/><line x1="1056.8" x2="1056.8" y1="1451.2" y2="1454.2" stroke="#d9d9d9" stroke-width="1"/><line x1="1068.2" x2="1068.2" y1="1451.2" y2="1454.2" stroke="#d9d9d9" stroke-width="1"/><text transform="translate(672.3,1457.4) scale(1,1) rotate(-90)" font-size="10" text-anchor="end" fill="#484848" font-family="&quot;Liberation Serif&quot;,&quot;Noto Serif CJK SC&quot;,serif" dy="3.4" textLength="51.0" lengthAdjust="spacing">2020-06-18</text><text transform="translate(683.6,1457.4) scale(1,1) rotate(-90)" font-size="10" text-anchor="end" fill="#484848" font-family="&quot;Liberation Serif&quot;,&quot;Noto Serif CJK SC&quot;,serif" dy="3.4" textLength="51.0" lengthAdjust="spacing">2020-07-18</text><text transform="translate(695.0,1457.4) scale(1,1) rotate(-90)" font-size="10" text-anchor="end" fill="#484848" font-family="&quot;Liberation Serif&quot;,&quot;Noto Serif CJK SC&quot;,serif" dy="3.4" textLength="51.0" lengthAdjust="spacing">2020-08-18</text><text transform="translate(706.3,1457.4) scale(1,1) rotate(-90)" font-size="10" text-anchor="end" fill="#484848" font-family="&quot;Liberation Serif&quot;,&quot;Noto Serif CJK SC&quot;,serif" dy="3.4" textLength="51.0" lengthAdjust="spacing">2020-09-18</text><text transform="translate(717.6,1457.4) scale(1,1) rotate(-90)" font-size="10" text-anchor="end" fill="#484848" font-family="&quot;Liberation Serif&quot;,&quot;Noto Serif CJK SC&quot;,serif" dy="3.4" textLength="51.0" lengthAdjust="spacing">2020-10-18</text><text transform="translate(729.0,1457.4) scale(1,1) rotate(-90)" font-size="10" text-anchor="end" fill="#484848" font-family="&quot;Liberation Serif&quot;,&quot;Noto Serif CJK SC&quot;,serif" dy="3.4" textLength="51.0" lengthAdjust="spacing">2020-11-18</text><text transform="translate(740.3,1457.4) scale(1,1) rotate(-90)" font-size="10" text-anchor="end" fill="#484848" font-family="&quot;Liberation Serif&quot;,&quot;Noto Serif CJK SC&quot;,serif" dy="3.4" textLength="51.0" lengthAdjust="spacing">2020-12-18</text><text transform="translate(751.6,1457.4) scale(1,1) rotate(-90)" font-size="10" text-anchor="end" fill="#484848" font-family="&quot;Liberation Serif&quot;,&quot;Noto Serif CJK SC&quot;,serif" dy="3.4" textLength="51.0" lengthAdjust="spacing">2021-01-18</text><text transform="translate(762.9,1457.4) scale(1,1) rotate(-90)" font-size="10" text-anchor="end" fill="#484848" font-family="&quot;Liberation Serif&quot;,&quot;Noto Serif CJK SC&quot;,serif" dy="3.4" textLength="51.0" lengthAdjust="spacing">2021-02-18</text><text transform="translate(774.3,1457.4) scale(1,1) rotate(-90)" font-size="10" text-anchor="end" fill="#484848" font-family="&quot;Liberation Serif&quot;,&quot;Noto Serif CJK SC&quot;,serif" dy="3.4" textLength="51.0" lengthAdjust="spacing">2021-03-18</text><text transform="translate(785.6,1457.4) scale(1,1) rotate(-90)" font-size="10" text-anchor="end" fill="#484848" font-family="&quot;Liberation Serif&quot;,&quot;Noto Serif CJK SC&quot;,serif" dy="3.4" textLength="51.0" lengthAdjust="spacing">2021-04-18</text><text transform="translate(796.9,1457.4) scale(1,1) rotate(-90)" font-size="10" text-anchor="end" fill="#484848" font-family="&quot;Liberation Serif&quot;,&quot;Noto Serif CJK SC&quot;,serif" dy="3.4" textLength="51.0" lengthAdjust="spacing">2021-05-18</text><text transform="translate(808.3,1457.4) scale(1,1) rotate(-90)" font-size="10" text-anchor="end" fill="#484848" font-family="&quot;Liberation Serif&quot;,&quot;Noto Serif CJK SC&quot;,serif" dy="3.4" textLength="51.0" lengthAdjust="spacing">2021-06-18</text><text transform="translate(819.6,1457.4) scale(1,1) rotate(-90)" font-size="10" text-anchor="end" fill="#484848" font-family="&quot;Liberation Serif&quot;,&quot;Noto Serif CJK SC&quot;,serif" dy="3.4" textLength="51.0" lengthAdjust="spacing">2021-07-18</text><text transform="translate(830.9,1457.4) scale(1,1) rotate(-90)" font-size="10" text-anchor="end" fill="#484848" font-family="&quot;Liberation Serif&quot;,&quot;Noto Serif CJK SC&quot;,serif" dy="3.4" textLength="51.0" lengthAdjust="spacing">2021-08-18</text><text transform="translate(842.2,1457.4) scale(1,1) rotate(-90)" font-size="10" text-anchor="end" fill="#484848" font-family="&quot;Liberation Serif&quot;,&quot;Noto Serif CJK SC&quot;,serif" dy="3.4" textLength="51.0" lengthAdjust="spacing">2021-09-18</text><text transform="translate(853.6,1457.4) scale(1,1) rotate(-90)" font-size="10" text-anchor="end" fill="#484848" font-family="&quot;Liberation Serif&quot;,&quot;Noto Serif CJK SC&quot;,serif" dy="3.4" textLength="51.0" lengthAdjust="spacing">2021-10-18</text><text transform="translate(864.9,1457.4) scale(1,1) rotate(-90)" font-size="10" text-anchor="end" fill="#484848" font-family="&quot;Liberation Serif&quot;,&quot;Noto Serif CJK SC&quot;,serif" dy="3.4" textLength="51.0" lengthAdjust="spacing">2021-11-18</text><text transform="translate(876.2,1457.4) scale(1,1) rotate(-90)" font-size="10" text-anchor="end" fill="#484848" font-family="&quot;Liberation Serif&quot;,&quot;Noto Serif CJK SC&quot;,serif" dy="3.4" textLength="51.0" lengthAdjust="spacing">2021-12-18</text><text transform="translate(887.6,1457.4) scale(1,1) rotate(-90)" font-size="10" text-anchor="end" fill="#484848" font-family="&quot;Liberation Serif&quot;,&quot;Noto Serif CJK SC&quot;,serif" dy="3.4" textLength="51.0" lengthAdjust="spacing">2022-01-18</text><text transform="translate(898.9,1457.4) scale(1,1) rotate(-90)" font-size="10" text-anchor="end" fill="#484848" font-family="&quot;Liberation Serif&quot;,&quot;Noto Serif CJK SC&quot;,serif" dy="3.4" textLength="51.0" lengthAdjust="spacing">2022-02-18</text><text transform="translate(910.2,1457.4) scale(1,1) rotate(-90)" font-size="10" text-anchor="end" fill="#484848" font-family="&quot;Liberation Serif&quot;,&quot;Noto Serif CJK SC&quot;,serif" dy="3.4" textLength="51.0" lengthAdjust="spacing">2022-03-18</text><text transform="translate(921.6,1457.4) scale(1,1) rotate(-90)" font-size="10" text-anchor="end" fill="#484848" font-family="&quot;Liberation Serif&quot;,&quot;Noto Serif CJK SC&quot;,serif" dy="3.4" textLength="51.0" lengthAdjust="spacing">2022-04-18</text><text transform="translate(932.9,1457.4) scale(1,1) rotate(-90)" font-size="10" text-anchor="end" fill="#484848" font-family="&quot;Liberation Serif&quot;,&quot;Noto Serif CJK SC&quot;,serif" dy="3.4" textLength="51.0" lengthAdjust="spacing">2022-05-18</text><text transform="translate(944.2,1457.4) scale(1,1) rotate(-90)" font-size="10" text-anchor="end" fill="#484848" font-family="&quot;Liberation Serif&quot;,&quot;Noto Serif CJK SC&quot;,serif" dy="3.4" textLength="51.0" lengthAdjust="spacing">2022-06-18</text><text transform="translate(955.6,1457.4) scale(1,1) rotate(-90)" font-size="10" text-anchor="end" fill="#484848" font-family="&quot;Liberation Serif&quot;,&quot;Noto Serif CJK SC&quot;,serif" dy="3.4" textLength="51.0" lengthAdjust="spacing">2022-07-18</text><text transform="translate(966.9,1457.4) scale(1,1) rotate(-90)" font-size="10" text-anchor="end" fill="#484848" font-family="&quot;Liberation Serif&quot;,&quot;Noto Serif CJK SC&quot;,serif" dy="3.4" textLength="51.0" lengthAdjust="spacing">2022-08-18</text><text transform="translate(978.2,1457.4) scale(1,1) rotate(-90)" font-size="10" text-anchor="end" fill="#484848" font-family="&quot;Liberation Serif&quot;,&quot;Noto Serif CJK SC&quot;,serif" dy="3.4" textLength="51.0" lengthAdjust="spacing">2022-09-18</text><text transform="translate(989.5,1457.4) scale(1,1) rotate(-90)" font-size="10" text-anchor="end" fill="#484848" font-family="&quot;Liberation Serif&quot;,&quot;Noto Serif CJK SC&quot;,serif" dy="3.4" textLength="51.0" lengthAdjust="spacing">2022-10-18</text><text transform="translate(1000.9,1457.4) scale(1,1) rotate(-90)" font-size="10" text-anchor="end" fill="#484848" font-family="&quot;Liberation Serif&quot;,&quot;Noto Serif CJK SC&quot;,serif" dy="3.4" textLength="51.0" lengthAdjust="spacing">2022-11-18</text><text transform="translate(1012.2,1457.4) scale(1,1) rotate(-90)" font-size="10" text-anchor="end" fill="#484848" font-family="&quot;Liberation Serif&quot;,&quot;Noto Serif CJK SC&quot;,serif" dy="3.4" textLength="51.0" lengthAdjust="spacing">2022-12-18</text><text transform="translate(1023.5,1457.4) scale(1,1) rotate(-90)" font-size="10" text-anchor="end" fill="#484848" font-family="&quot;Liberation Serif&quot;,&quot;Noto Serif CJK SC&quot;,serif" dy="3.4" textLength="51.0" lengthAdjust="spacing">2023-01-18</text><text transform="translate(1034.9,1457.4) scale(1,1) rotate(-90)" font-size="10" text-anchor="end" fill="#484848" font-family="&quot;Liberation Serif&quot;,&quot;Noto Serif CJK SC&quot;,serif" dy="3.4" textLength="51.0" lengthAdjust="spacing">2023-02-18</text><text transform="translate(1046.2,1457.4) scale(1,1) rotate(-90)" font-size="10" text-anchor="end" fill="#484848" font-family="&quot;Liberation Serif&quot;,&quot;Noto Serif CJK SC&quot;,serif" dy="3.4" textLength="51.0" lengthAdjust="spacing">2023-03-18</text><text transform="translate(1057.5,1457.4) scale(1,1) rotate(-90)" font-size="10" text-anchor="end" fill="#484848" font-family="&quot;Liberation Serif&quot;,&quot;Noto Serif CJK SC&quot;,serif" dy="3.4" textLength="51.0" lengthAdjust="spacing">2023-04-18</text><text transform="translate(1068.9,1457.4) scale(1,1) rotate(-90)" font-size="10" text-anchor="end" fill="#484848" font-family="&quot;Liberation Serif&quot;,&quot;Noto Serif CJK SC&quot;,serif" dy="3.4" textLength="51.0" lengthAdjust="spacing">2023-05-18</text><text x="850.4" y="1289.0" font-size="12.5" text-anchor="middle" fill="#262626" font-family="&quot;Liberation Serif&quot;,&quot;Noto Serif CJK SC&quot;,serif" textLength="156.0" lengthAdjust="spacing" text-decoration="underline" font-weight="500">期货持仓量(活跃合约):纯碱</text><polyline points="671.6,1443.9 672.8,1442.5 674.5,1441.5 675.7,1442.5 675.8,1441.5 676.0,1440.5 676.2,1439.6 676.3,1438.3 676.5,1437.5 677.5,1437.8 678.5,1437.1 679.3,1437.3 680.1,1438.5 681.7,1437.5 682.5,1436.2 683.3,1435.1 684.9,1435.5 686.0,1436.6 687.0,1437.1 688.6,1437.5 689.6,1438.6 690.6,1439.5 691.4,1441.1 692.2,1441.5 692.9,1442.0 693.6,1443.1 694.3,1444.1 695.0,1445.6 695.2,1444.3 695.4,1443.0 695.6,1441.9 695.8,1441.5 696.0,1440.2 696.2,1439.5 696.5,1438.6 696.8,1438.1 697.1,1437.2 697.5,1435.5 698.7,1434.5 698.9,1433.7 699.1,1432.0 699.3,1431.0 699.5,1430.6 699.7,1428.5 699.9,1427.8 700.5,1429.6 701.1,1430.4 702.3,1431.4 703.5,1431.0 703.9,1431.6 704.3,1432.8 704.7,1433.9 705.5,1434.7 706.3,1435.5 707.1,1435.3 707.9,1433.9 708.5,1435.4 709.0,1436.8 709.6,1437.5 710.4,1438.5 711.2,1439.9 712.8,1440.5 714.4,1440.5 715.2,1439.3 716.0,1438.5 716.8,1438.3 717.6,1437.1 718.8,1437.9 719.6,1436.8 720.4,1435.5 721.0,1435.0 721.7,1433.9 722.3,1434.3 722.9,1435.9 724.1,1434.5 724.5,1432.8 724.9,1432.3 725.3,1431.4 725.7,1430.2 726.1,1429.1 726.5,1428.4 727.7,1429.0 728.3,1428.2 728.9,1426.4 729.3,1426.0 729.7,1424.0 730.1,1423.4 730.7,1421.8 731.3,1421.4 732.5,1420.3 733.8,1418.9 735.0,1420.3 736.2,1421.4 736.3,1421.9 736.4,1422.9 736.6,1424.7 736.7,1425.2 736.8,1427.1 737.0,1427.4 737.2,1427.7 737.4,1429.5 737.6,1429.9 737.8,1431.9 738.0,1432.3 738.2,1433.5 738.3,1434.1 738.5,1435.6 738.6,1437.0 738.7,1436.8 738.9,1438.1 739.0,1439.5 739.4,1441.1 739.8,1441.5 740.0,1440.4 740.2,1438.9 740.4,1439.1 740.6,1437.5 741.2,1437.1 741.8,1435.5 743.0,1436.5 744.2,1435.1 744.8,1434.2 745.5,1433.5 745.9,1432.0 746.3,1430.8 746.7,1430.4 747.9,1431.8 749.1,1433.1 749.7,1432.6 750.3,1431.4 750.9,1432.6 751.5,1433.1 752.7,1431.8 753.9,1432.4 755.1,1431.0 756.3,1431.8 756.7,1431.0 757.2,1429.4 757.8,1430.7 758.4,1431.4 758.7,1432.2 759.0,1433.2 759.3,1434.6 759.6,1435.5 760.2,1435.1 760.8,1433.9 762.0,1433.1 762.4,1431.8 762.8,1430.7 763.2,1429.4 763.8,1428.3 764.4,1427.4 765.6,1428.4 766.2,1427.6 766.8,1425.8 768.0,1426.4 768.2,1426.0 768.3,1424.1 768.4,1424.0 768.5,1422.8 768.6,1421.2 768.7,1420.0 768.9,1419.3 769.0,1418.6 769.1,1417.4 769.3,1416.4 769.4,1416.0 769.5,1415.0 769.7,1413.3 770.1,1412.4 770.5,1410.9 770.6,1412.0 770.7,1412.6 770.9,1413.5 771.0,1415.6 771.1,1415.9 771.3,1417.3 771.5,1416.6 771.8,1415.0 772.0,1413.9 772.2,1413.5 772.5,1412.3 772.8,1412.8 773.1,1413.7 773.4,1416.0 773.7,1416.3 774.1,1417.2 774.5,1418.1 774.9,1419.3 775.2,1420.8 775.5,1421.0 775.8,1422.8 776.1,1423.4 776.5,1424.0 776.9,1425.7 777.3,1426.4 777.9,1428.1 778.5,1429.0 779.7,1430.4 780.0,1430.9 780.2,1432.3 780.5,1433.9 780.8,1434.5 780.8,1433.4 780.9,1432.4 780.9,1430.8 781.0,1429.9 781.0,1430.0 781.1,1429.1 781.1,1427.4 781.2,1426.6 781.2,1424.9 781.3,1425.0 781.4,1423.4 782.0,1422.5 782.6,1421.4 782.9,1420.7 783.2,1419.8 783.5,1418.0 783.8,1417.3 784.4,1416.4 785.0,1414.9 786.2,1414.3 787.4,1414.9 788.6,1413.7 789.2,1414.7 789.8,1415.7 791.0,1415.3 792.2,1416.3 793.5,1416.9 793.6,1415.5 793.7,1414.3 793.8,1413.9 793.9,1412.1 794.0,1411.0 794.1,1410.2 794.3,1409.3 794.4,1408.0 794.6,1406.9 794.7,1405.5 794.9,1405.4 795.1,1403.6 795.7,1403.9 796.3,1405.2 796.7,1406.6 797.1,1407.6 797.5,1408.2 798.1,1409.2 798.7,1410.3 799.9,1409.3 800.5,1410.0 801.1,1411.3 802.3,1412.3 802.7,1411.7 803.1,1410.3 803.4,1409.6 803.7,1407.9 803.9,1407.2 804.3,1408.8 804.8,1409.4 805.2,1410.3 806.4,1411.3 806.8,1411.8 807.2,1413.9 807.6,1414.3 808.8,1413.7 809.4,1414.3 810.0,1415.3 811.2,1414.9 812.4,1415.7 813.6,1414.3 813.9,1414.8 814.1,1417.0 814.4,1417.7 814.6,1418.3 814.8,1419.3 815.4,1420.2 816.0,1421.0 817.3,1420.3 817.9,1421.4 818.5,1422.4 818.7,1421.4 819.0,1419.8 819.3,1419.3 819.6,1420.5 819.9,1421.2 820.2,1421.9 820.5,1423.4 820.9,1424.2 821.3,1425.4 821.4,1426.3 821.6,1426.8 821.7,1428.1 821.8,1429.2 822.0,1429.9 822.1,1431.4 822.2,1430.3 822.3,1428.8 822.4,1428.4 822.5,1427.2 822.6,1426.1 822.7,1425.6 822.8,1424.6 822.9,1423.4 823.1,1421.8 823.3,1420.8 823.5,1420.6 823.7,1419.2 823.9,1417.9 824.1,1417.3 824.4,1416.0 824.7,1415.0 825.0,1413.9 825.3,1413.3 826.5,1412.3 826.8,1410.6 827.1,1410.0 827.4,1409.8 827.7,1408.2 828.1,1406.4 828.6,1405.3 829.0,1404.8 830.2,1406.2 830.8,1407.1 831.4,1408.9 832.6,1409.7 833.8,1410.3 835.0,1411.3 836.2,1411.7 836.4,1410.7 836.5,1409.3 836.6,1408.7 836.8,1407.7 836.9,1406.5 837.0,1405.2 838.2,1406.2 838.8,1407.2 839.4,1408.2 839.7,1409.8 840.0,1410.9 840.4,1410.8 840.7,1412.3 841.9,1412.9 843.1,1413.7 843.5,1412.6 843.9,1412.3 844.3,1410.9 844.6,1412.2 844.9,1413.0 845.2,1414.5 845.5,1415.3 846.1,1416.0 846.7,1417.3 847.9,1418.3 849.1,1419.3 849.9,1420.3 850.0,1420.3 851.2,1421.4 852.4,1422.4 852.8,1423.9 853.2,1423.8 853.6,1425.4 853.8,1425.8 854.0,1427.8 854.2,1428.3 854.4,1429.8 854.6,1431.0 854.8,1431.4 855.6,1431.8 855.8,1431.1 856.1,1429.9 856.3,1428.3 856.5,1427.6 856.7,1426.1 856.9,1425.4 857.0,1424.8 857.1,1424.1 857.2,1421.7 857.3,1421.4 857.5,1420.8 857.6,1420.0 857.7,1418.2 857.8,1417.2 857.9,1416.0 858.1,1415.3 858.5,1413.5 858.9,1412.5 859.3,1411.7 859.9,1413.1 860.5,1413.3 860.9,1414.7 861.3,1416.0 861.7,1416.3 862.9,1414.9 864.1,1415.7 864.5,1417.1 864.9,1417.5 865.3,1419.3 865.6,1420.2 865.9,1421.9 866.2,1422.4 866.5,1423.4 866.8,1424.9 867.1,1424.9 867.4,1426.5 867.7,1427.8 868.4,1429.0 869.0,1430.4 869.3,1429.4 869.6,1428.1 869.9,1427.7 870.2,1426.4 870.3,1425.8 870.4,1424.8 870.6,1423.2 870.7,1421.8 870.8,1421.4 871.0,1420.8 871.1,1419.1 871.2,1417.7 871.4,1417.3 871.6,1416.1 871.7,1415.0 871.9,1413.6 872.1,1413.5 872.2,1411.6 872.4,1411.7 872.6,1410.3 873.8,1411.7 874.2,1413.5 874.6,1414.5 875.0,1415.3 876.2,1414.3 876.8,1413.7 877.4,1412.3 877.8,1411.5 878.2,1410.7 878.6,1409.3 878.9,1408.3 879.1,1407.4 879.4,1405.6 879.6,1405.2 879.9,1404.2 880.2,1405.9 880.5,1405.6 880.8,1407.1 881.1,1408.2 881.4,1409.8 881.7,1410.3 882.0,1411.8 882.3,1412.3 882.7,1411.4 883.1,1410.1 883.5,1409.3 884.1,1408.7 884.7,1406.8 885.9,1408.2 886.3,1407.1 886.7,1406.7 887.1,1405.2 887.3,1404.5 887.5,1403.9 887.6,1402.3 887.8,1401.5 888.0,1399.6 888.1,1399.4 888.3,1398.2 888.5,1398.5 888.7,1399.8 888.8,1401.5 889.0,1401.9 889.2,1402.9 889.4,1404.4 889.5,1405.2 889.8,1407.0 890.0,1406.9 890.3,1408.1 890.5,1409.9 890.7,1410.9 892.0,1410.3 893.2,1410.9 893.3,1410.1 893.4,1408.3 893.6,1407.8 893.7,1405.9 893.8,1405.0 894.0,1403.9 894.1,1403.2 894.2,1402.4 894.4,1401.2 894.5,1400.8 894.7,1399.1 894.8,1398.0 895.0,1397.0 895.1,1395.4 895.3,1395.1 895.4,1394.1 895.6,1392.7 896.0,1394.1 896.4,1394.9 896.8,1396.1 897.0,1397.5 897.3,1397.6 897.5,1398.6 897.8,1400.1 898.0,1401.2 898.6,1399.9 899.2,1398.8 900.4,1400.2 901.0,1400.9 901.6,1402.2 901.8,1403.9 901.9,1404.6 902.1,1405.2 902.2,1406.4 902.4,1406.9 902.5,1408.5 902.7,1409.6 902.8,1410.3 904.1,1409.3 904.5,1409.9 904.9,1411.4 905.3,1412.3 906.5,1413.3 907.7,1414.3 908.9,1415.3 909.2,1416.4 909.5,1417.5 909.8,1417.6 910.1,1419.3 910.3,1420.3 910.5,1420.9 910.6,1422.7 910.8,1423.6 911.0,1424.9 911.1,1425.2 911.3,1427.0 911.4,1425.6 911.5,1424.7 911.6,1423.9 911.7,1422.8 911.8,1421.3 911.9,1421.1 911.9,1418.8 912.0,1418.7 912.1,1417.3 912.2,1416.7 912.3,1415.9 912.3,1413.7 912.4,1413.3 912.5,1412.0 912.5,1410.7 912.6,1410.3 912.7,1409.8 912.7,1408.3 912.8,1407.8 912.9,1405.6 912.9,1405.2 913.0,1404.7 913.1,1403.0 913.2,1401.9 913.3,1400.5 913.4,1400.9 913.5,1399.6 913.6,1398.2 913.7,1397.2 913.9,1396.0 914.0,1395.7 914.1,1394.8 914.3,1393.8 914.4,1391.5 914.5,1391.1 915.8,1392.1 915.9,1390.8 916.1,1389.9 916.3,1388.8 916.4,1388.2 916.6,1386.7 916.8,1385.4 917.0,1385.1 917.1,1384.4 917.2,1382.5 917.3,1382.5 917.4,1381.0 917.5,1380.1 917.6,1379.6 917.7,1378.5 917.8,1377.0 918.1,1377.5 918.4,1378.4 918.7,1380.1 919.0,1381.0 919.2,1382.2 919.4,1383.5 919.6,1383.8 919.8,1385.6 920.0,1386.2 920.2,1387.1 920.5,1388.4 920.8,1388.6 921.1,1389.8 921.4,1391.1 922.6,1392.1 923.0,1393.0 923.4,1394.2 923.8,1395.1 924.4,1393.9 925.0,1393.1 925.3,1392.4 925.6,1391.5 925.9,1389.8 926.2,1389.1 926.5,1387.8 926.8,1387.3 927.1,1386.4 927.5,1385.1 927.9,1386.1 928.3,1386.8 928.7,1388.1 928.9,1388.8 929.1,1390.8 929.3,1390.5 929.5,1392.5 929.7,1392.5 929.9,1394.1 930.1,1393.5 930.4,1391.9 930.6,1391.7 930.8,1389.7 931.1,1389.1 931.2,1387.9 931.4,1386.6 931.5,1386.3 931.7,1385.3 931.8,1384.6 932.0,1382.7 932.1,1381.7 932.3,1381.0 932.7,1381.8 933.1,1383.2 933.5,1384.0 933.8,1382.4 934.1,1381.4 934.4,1381.3 934.7,1380.0 934.9,1381.2 935.1,1382.2 935.3,1383.6 935.5,1384.3 935.7,1385.5 935.9,1386.1 936.5,1385.7 937.1,1384.0 937.7,1385.8 938.3,1386.7 938.9,1385.9 939.6,1385.1 940.2,1386.2 940.8,1387.5 941.1,1386.6 941.4,1384.8 941.7,1383.5 942.0,1383.0 942.4,1383.5 942.8,1384.5 943.2,1386.1 943.8,1385.4 944.4,1384.0 944.8,1384.8 945.2,1385.8 945.6,1387.1 946.2,1386.3 946.8,1384.6 947.0,1385.5 947.2,1386.3 947.4,1387.6 947.6,1388.8 947.8,1390.2 948.0,1391.1 948.2,1392.2 948.4,1393.2 948.6,1393.7 948.8,1395.0 949.0,1396.5 949.2,1397.2 949.8,1395.9 950.4,1395.1 951.0,1394.0 951.7,1393.1 951.9,1394.1 952.1,1395.3 952.4,1396.7 952.6,1397.0 952.9,1398.2 954.1,1399.2 954.4,1400.4 954.7,1401.1 955.0,1401.7 955.3,1403.2 955.7,1404.5 956.1,1405.0 956.5,1406.2 956.7,1407.5 957.0,1407.6 957.2,1409.4 957.5,1410.2 957.7,1411.3 957.9,1412.4 958.0,1413.9 958.2,1413.9 958.3,1414.8 958.5,1416.2 958.6,1417.1 958.8,1419.0 958.9,1419.3 959.1,1420.6 959.3,1421.9 959.5,1422.5 959.7,1423.2 959.9,1424.4 960.0,1423.7 960.1,1421.9 960.3,1420.9 960.4,1419.8 960.5,1419.4 960.6,1418.5 960.7,1417.3 960.8,1416.4 960.9,1415.3 961.3,1414.8 961.7,1413.2 962.1,1412.3 962.7,1411.7 963.4,1410.3 963.7,1408.7 964.0,1408.8 964.3,1407.9 964.6,1406.2 964.8,1404.6 965.0,1404.2 965.3,1403.5 965.5,1401.6 965.8,1401.2 967.0,1400.2 968.2,1400.8 968.8,1400.5 969.4,1399.2 970.6,1398.2 970.9,1397.3 971.2,1396.8 971.5,1395.5 971.8,1394.1 972.1,1394.5 972.3,1395.6 972.5,1397.1 972.8,1397.9 973.0,1399.2 973.6,1398.4 974.2,1397.2 974.8,1396.3 975.5,1394.7 975.8,1395.6 976.1,1397.5 976.4,1397.9 976.7,1399.2 976.8,1397.7 977.0,1396.6 977.1,1396.6 977.3,1395.8 977.4,1394.1 977.6,1392.7 977.7,1392.1 977.9,1391.1 978.1,1390.4 978.3,1388.6 978.5,1387.3 978.7,1386.7 979.0,1388.0 979.3,1388.2 979.6,1389.4 979.9,1391.1 980.0,1392.0 980.1,1393.3 980.3,1394.0 980.4,1395.3 980.5,1396.4 980.6,1396.8 980.7,1398.4 980.9,1399.0 981.0,1399.6 981.1,1401.2 982.3,1401.6 983.5,1400.8 984.1,1399.8 984.7,1399.2 985.3,1398.6 985.9,1397.2 986.5,1396.9 987.2,1395.5 987.8,1396.3 988.4,1398.2 989.6,1399.2 990.8,1398.8 992.0,1400.2 992.4,1401.4 992.8,1402.6 993.2,1403.2 994.4,1402.2 994.8,1401.3 995.2,1400.7 995.6,1399.2 995.8,1398.5 996.0,1397.4 996.2,1396.0 996.4,1395.3 996.6,1394.0 996.8,1393.1 997.0,1393.8 997.2,1395.7 997.4,1396.2 997.6,1397.6 997.8,1398.0 998.0,1399.2 998.2,1398.5 998.3,1397.3 998.4,1395.6 998.5,1395.5 998.6,1393.5 998.8,1392.8 998.9,1391.8 999.0,1390.6 999.1,1390.0 999.3,1389.1 999.7,1388.2 1000.1,1387.7 1000.5,1386.1 1000.7,1384.9 1000.9,1383.9 1001.2,1382.6 1001.4,1382.4 1001.7,1381.0 1001.9,1382.7 1002.2,1383.1 1002.4,1383.5 1002.6,1384.7 1002.9,1386.1 1003.0,1387.4 1003.0,1387.6 1003.1,1388.5 1003.2,1389.8 1003.3,1391.7 1003.3,1391.5 1003.4,1392.7 1003.5,1393.8 1003.5,1395.6 1003.6,1396.0 1003.7,1397.2 1003.8,1398.0 1003.9,1399.5 1004.0,1400.0 1004.1,1401.2 1004.1,1402.8 1004.2,1404.1 1004.3,1404.3 1004.4,1405.7 1004.5,1407.1 1004.6,1408.3 1004.7,1408.9 1004.8,1407.7 1004.8,1406.9 1004.9,1405.1 1004.9,1405.1 1005.0,1403.6 1005.0,1402.1 1005.1,1402.0 1005.1,1400.9 1005.2,1400.0 1005.2,1398.2 1005.3,1397.8 1005.3,1396.2 1005.4,1395.6 1005.4,1394.5 1005.5,1393.3 1005.5,1392.4 1005.6,1390.9 1005.7,1389.9 1005.7,1389.1 1005.9,1387.4 1006.1,1386.5 1006.3,1386.0 1006.5,1385.2 1006.7,1383.5 1006.9,1383.0 1007.2,1381.8 1007.5,1381.4 1007.8,1380.4 1008.1,1379.0 1008.3,1378.6 1008.5,1376.3 1008.7,1376.4 1008.9,1374.5 1009.1,1373.7 1009.3,1372.9 1009.6,1372.1 1009.9,1370.7 1010.1,1369.3 1010.4,1370.9 1010.6,1371.7 1010.9,1372.1 1011.1,1373.6 1011.4,1375.0 1012.6,1376.0 1013.2,1376.6 1013.8,1378.0 1014.4,1379.9 1015.0,1380.6 1015.3,1379.9 1015.6,1378.9 1015.9,1377.0 1016.2,1376.0 1016.3,1375.2 1016.5,1374.4 1016.6,1372.7 1016.7,1371.4 1016.9,1371.0 1017.0,1370.0 1017.1,1369.4 1017.3,1368.5 1017.4,1366.9 1017.6,1365.6 1017.7,1365.4 1017.9,1363.4 1018.0,1362.7 1018.2,1361.5 1018.3,1361.0 1018.5,1359.3 1018.6,1358.8 1018.8,1357.7 1019.0,1357.4 1019.2,1355.6 1019.4,1354.2 1019.6,1353.7 1019.8,1352.8 1020.0,1351.7 1020.2,1350.8 1020.4,1351.8 1020.5,1353.4 1020.6,1353.7 1020.7,1354.8 1020.8,1356.2 1021.0,1356.4 1021.1,1357.4 1021.2,1358.6 1021.3,1360.4 1021.4,1360.8 1021.6,1362.5 1021.7,1362.5 1021.8,1364.1 1021.9,1364.9 1022.0,1365.7 1022.2,1366.5 1022.3,1367.7 1022.4,1368.5 1022.5,1369.3 1022.7,1370.9 1023.9,1370.5 1024.5,1370.1 1025.1,1368.9 1025.7,1368.0 1026.3,1366.9 1026.6,1366.1 1026.9,1364.5 1027.2,1363.7 1027.5,1362.9 1027.8,1363.5 1028.1,1364.7 1028.4,1366.3 1028.7,1366.9 1029.3,1367.4 1029.9,1368.9 1030.3,1370.6 1030.7,1370.4 1031.1,1371.9 1031.7,1371.0 1032.3,1369.9 1032.6,1370.9 1032.8,1371.5 1033.1,1372.3 1033.3,1373.8 1033.5,1375.0 1033.9,1374.2 1034.3,1372.7 1034.8,1371.9 1034.9,1373.5 1035.1,1373.9 1035.3,1375.0 1035.4,1375.3 1035.6,1377.4 1035.8,1377.5 1036.0,1379.0 1036.3,1379.9 1036.6,1381.4 1036.9,1381.5 1037.2,1383.0 1037.4,1381.8 1037.7,1380.6 1037.9,1379.8 1038.1,1379.5 1038.4,1378.0 1038.6,1379.3 1038.8,1379.8 1039.0,1380.6 1039.2,1381.7 1039.4,1382.6 1039.6,1384.0 1039.8,1384.8 1040.1,1386.6 1040.3,1386.9 1040.6,1388.2 1040.8,1389.1 1041.4,1389.5 1042.0,1391.1 1042.4,1391.9 1042.8,1392.7 1043.2,1394.1 1043.6,1394.7 1044.0,1395.7 1044.4,1397.2 1044.7,1398.6 1045.0,1399.3 1045.3,1400.5 1045.6,1401.2 1045.8,1402.1 1045.9,1403.3 1046.0,1404.4 1046.2,1404.8 1046.3,1406.8 1046.5,1407.2 1046.5,1406.7 1046.6,1404.9 1046.6,1404.4 1046.7,1403.1 1046.7,1402.0 1046.8,1401.5 1046.9,1400.6 1046.9,1399.2 1047.0,1397.6 1047.0,1396.5 1047.1,1396.3 1047.1,1395.8 1047.2,1394.7 1047.3,1393.1 1047.4,1391.6 1047.6,1390.8 1047.8,1389.4 1047.9,1388.8 1048.1,1387.7 1048.3,1387.4 1048.5,1386.1 1048.8,1384.5 1049.1,1383.5 1049.4,1383.3 1049.7,1382.0 1050.1,1380.9 1050.5,1380.7 1050.9,1379.0 1051.1,1377.3 1051.4,1376.6 1051.6,1376.3 1051.9,1374.3 1052.1,1374.0 1052.3,1372.6 1052.6,1372.0 1052.8,1370.7 1053.1,1369.8 1053.3,1368.9 1053.9,1367.4 1054.5,1366.9 1054.8,1366.4 1055.0,1364.8 1055.2,1363.4 1055.5,1362.8 1055.7,1361.9 1056.1,1361.0 1056.5,1359.2 1056.8,1360.0 1057.1,1361.8 1057.4,1362.4 1057.7,1363.9 1058.0,1365.0 1058.4,1365.4 1058.7,1367.4 1059.0,1367.9 1060.2,1368.5 1060.6,1367.6 1061.0,1366.6 1061.4,1364.9 1061.7,1364.1 1062.0,1363.1 1062.3,1361.6 1062.6,1360.8 1062.9,1359.8 1063.2,1358.9 1063.5,1357.8 1063.8,1356.8 1063.8,1355.8 1063.9,1355.3 1063.9,1353.7 1064.0,1353.4 1064.0,1352.1 1064.1,1350.6 1064.1,1350.4 1064.2,1348.1 1064.2,1347.4 1064.3,1347.1 1064.4,1345.1 1064.4,1344.8 1064.5,1343.1 1064.5,1342.8 1064.6,1341.8 1064.6,1340.7 1065.8,1339.7 1066.1,1339.2 1066.4,1337.6 1066.6,1336.6 1066.8,1335.1 1066.9,1334.0 1067.0,1333.0 1067.2,1332.1 1067.3,1331.8 1067.4,1330.6" fill="none" stroke="#5b9bd5" stroke-width="2.0" stroke-linejoin="round" stroke-linecap="round" /><line x1="787" x2="804" y1="1523.8" y2="1523.8" stroke="#5b9bd5" stroke-width="2"/><text x="805.6" y="1527.0" font-size="9" text-anchor="start" fill="#595959" font-family="&quot;Liberation Serif&quot;,&quot;Noto Serif CJK SC&quot;,serif" textLength="112.0" lengthAdjust="spacing" >期货持仓量(活跃合约):纯碱</text></svg>

</body>
</html>
